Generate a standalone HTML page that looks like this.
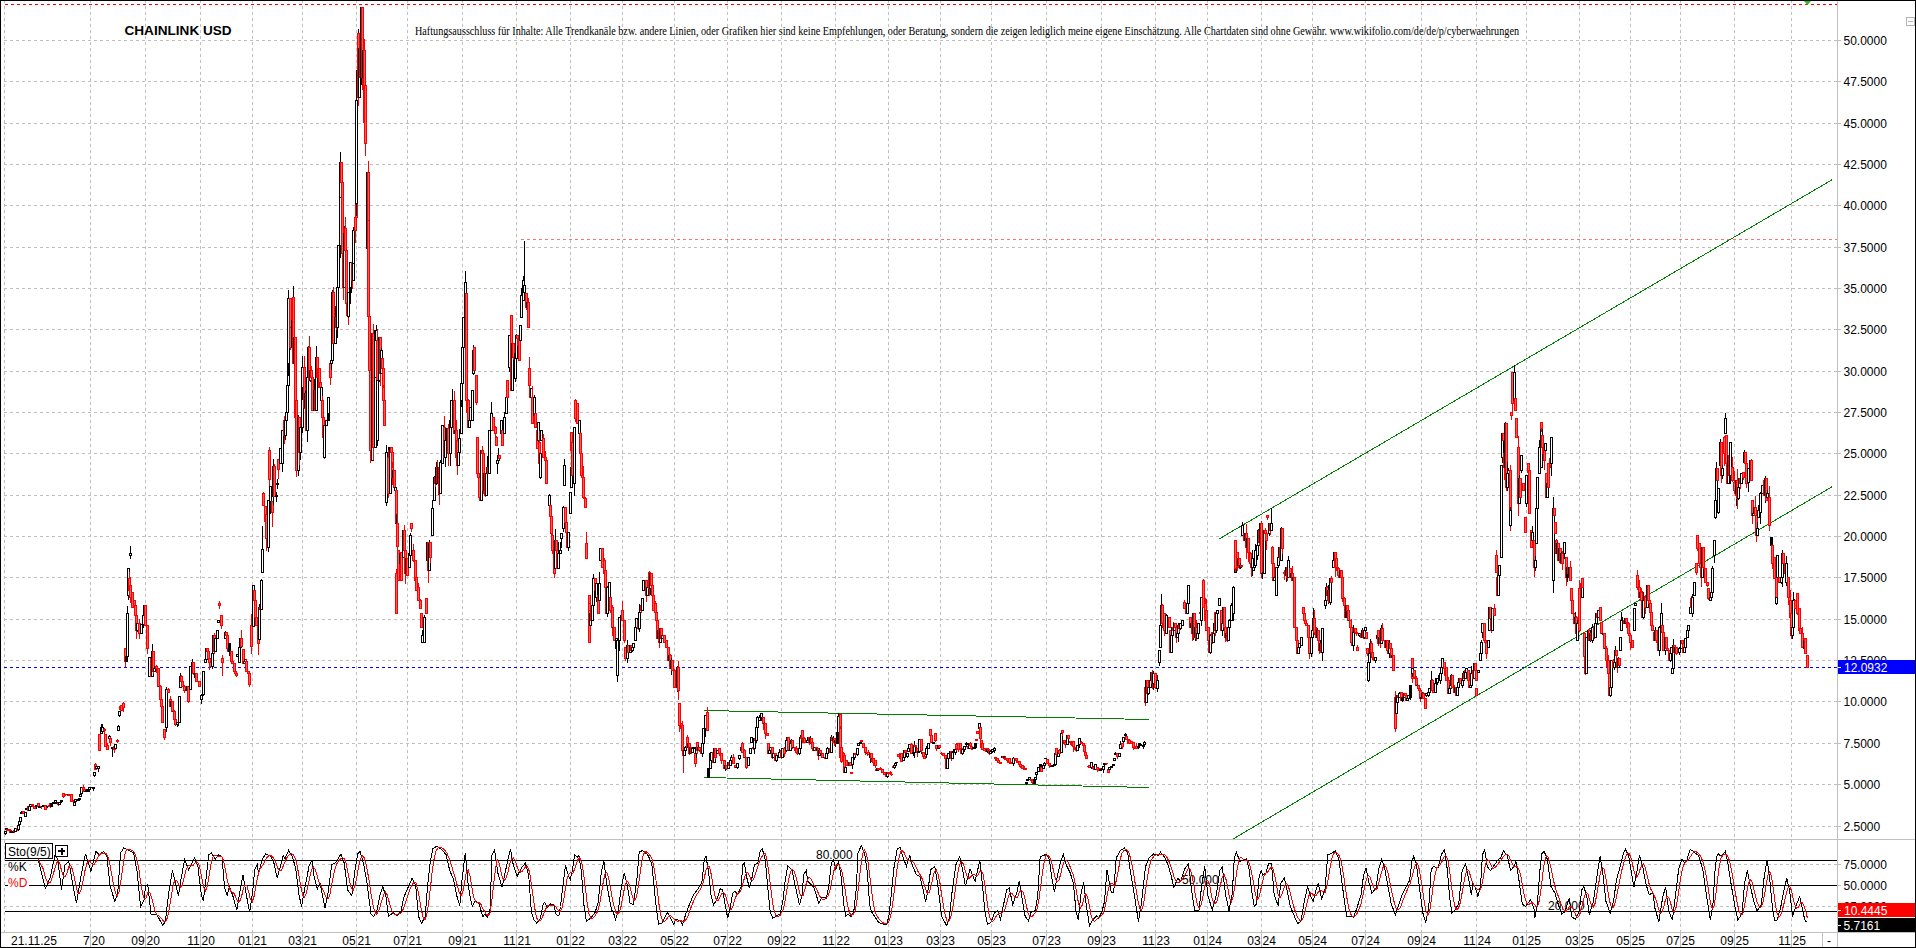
<!DOCTYPE html><html><head><meta charset="utf-8"><title>CHAINLINK USD</title><style>
html,body{margin:0;padding:0;background:#fff;overflow:hidden}svg{display:block}
text{font-family:"Liberation Sans",sans-serif;font-size:12px;fill:#000}
.g{stroke:#c0c0c0;stroke-width:1;stroke-dasharray:3 3;fill:none}
.u{fill:#fff;stroke:#000;stroke-width:1}.d{fill:#ff5a5a;stroke:#f00;stroke-width:1}.k{fill:#000;stroke:#000;stroke-width:1}
.gl{stroke:#008000;stroke-width:1;fill:none}
</style></head><body>
<svg width="1916" height="948" viewBox="0 0 1916 948">
<rect width="1916" height="948" fill="#fff"/>
<g class="g" shape-rendering="crispEdges">
<path d="M4 826.5 H1837"/>
<path d="M4 784.5 H1837"/>
<path d="M4 743.5 H1837"/>
<path d="M4 701.5 H1837"/>
<path d="M4 660.5 H1837"/>
<path d="M4 619.5 H1837"/>
<path d="M4 577.5 H1837"/>
<path d="M4 536.5 H1837"/>
<path d="M4 495.5 H1837"/>
<path d="M4 453.5 H1837"/>
<path d="M4 412.5 H1837"/>
<path d="M4 371.5 H1837"/>
<path d="M4 329.5 H1837"/>
<path d="M4 288.5 H1837"/>
<path d="M4 247.5 H1837"/>
<path d="M4 205.5 H1837"/>
<path d="M4 164.5 H1837"/>
<path d="M4 123.5 H1837"/>
<path d="M4 81.5 H1837"/>
<path d="M4 40.5 H1837"/>
<path d="M4 864.5 H1837"/>
<path d="M4 906.5 H1837"/>
<path d="M4.5 0 V932"/>
<path d="M90.5 0 V932"/>
<path d="M145.5 0 V932"/>
<path d="M200.5 0 V932"/>
<path d="M252.5 0 V932"/>
<path d="M302.5 0 V932"/>
<path d="M356.5 0 V932"/>
<path d="M407.5 0 V932"/>
<path d="M462.5 0 V932"/>
<path d="M516.5 0 V932"/>
<path d="M570.5 0 V932"/>
<path d="M622.5 0 V932"/>
<path d="M674.5 0 V932"/>
<path d="M727.5 0 V932"/>
<path d="M781.5 0 V932"/>
<path d="M835.5 0 V932"/>
<path d="M888.5 0 V932"/>
<path d="M940.5 0 V932"/>
<path d="M991.5 0 V932"/>
<path d="M1046.5 0 V932"/>
<path d="M1101.5 0 V932"/>
<path d="M1155.5 0 V932"/>
<path d="M1207.5 0 V932"/>
<path d="M1261.5 0 V932"/>
<path d="M1312.5 0 V932"/>
<path d="M1365.5 0 V932"/>
<path d="M1421.5 0 V932"/>
<path d="M1476.5 0 V932"/>
<path d="M1526.5 0 V932"/>
<path d="M1579.5 0 V932"/>
<path d="M1630.5 0 V932"/>
<path d="M1680.5 0 V932"/>
<path d="M1734.5 0 V932"/>
<path d="M1791.5 0 V932"/>
</g>
<g shape-rendering="crispEdges" fill="none">
<path d="M1 839.5H1915" stroke="#c0c0c0"/>
<path d="M1 932.5H1915" stroke="#c0c0c0"/>
<path d="M1837.5 1V947" stroke="#c0c0c0"/>
<path d="M1822.5 933V947" stroke="#c0c0c0"/>
<path d="M90.5 931V947" stroke="#c0c0c0"/>
<path d="M145.5 931V947" stroke="#c0c0c0"/>
<path d="M200.5 931V947" stroke="#c0c0c0"/>
<path d="M252.5 931V947" stroke="#c0c0c0"/>
<path d="M302.5 931V947" stroke="#c0c0c0"/>
<path d="M356.5 931V947" stroke="#c0c0c0"/>
<path d="M407.5 931V947" stroke="#c0c0c0"/>
<path d="M462.5 931V947" stroke="#c0c0c0"/>
<path d="M516.5 931V947" stroke="#c0c0c0"/>
<path d="M570.5 931V947" stroke="#c0c0c0"/>
<path d="M622.5 931V947" stroke="#c0c0c0"/>
<path d="M674.5 931V947" stroke="#c0c0c0"/>
<path d="M727.5 931V947" stroke="#c0c0c0"/>
<path d="M781.5 931V947" stroke="#c0c0c0"/>
<path d="M835.5 931V947" stroke="#c0c0c0"/>
<path d="M888.5 931V947" stroke="#c0c0c0"/>
<path d="M940.5 931V947" stroke="#c0c0c0"/>
<path d="M991.5 931V947" stroke="#c0c0c0"/>
<path d="M1046.5 931V947" stroke="#c0c0c0"/>
<path d="M1101.5 931V947" stroke="#c0c0c0"/>
<path d="M1155.5 931V947" stroke="#c0c0c0"/>
<path d="M1207.5 931V947" stroke="#c0c0c0"/>
<path d="M1261.5 931V947" stroke="#c0c0c0"/>
<path d="M1312.5 931V947" stroke="#c0c0c0"/>
<path d="M1365.5 931V947" stroke="#c0c0c0"/>
<path d="M1421.5 931V947" stroke="#c0c0c0"/>
<path d="M1476.5 931V947" stroke="#c0c0c0"/>
<path d="M1526.5 931V947" stroke="#c0c0c0"/>
<path d="M1579.5 931V947" stroke="#c0c0c0"/>
<path d="M1630.5 931V947" stroke="#c0c0c0"/>
<path d="M1680.5 931V947" stroke="#c0c0c0"/>
<path d="M1734.5 931V947" stroke="#c0c0c0"/>
<path d="M1791.5 931V947" stroke="#c0c0c0"/>
<path d="M0 0.5H1916" stroke="#000"/>
<path d="M0.5 0V948" stroke="#000"/>
<path d="M0 947.5H1916" stroke="#000"/>
<path d="M1915.5 0V948" stroke="#000"/>
<path d="M5 4.5H1837" stroke="#f00" stroke-dasharray="3 3"/>
<path d="M521 239.5H1837" stroke="#ff7070" stroke-dasharray="3 3"/>
<path d="M4 667.5H1837" stroke="#00f" stroke-dasharray="3 3"/>
<path d="M5 860.5 H1837" stroke="#000"/>
<path d="M5 885.5 H1837" stroke="#000"/>
<path d="M5 911.5 H1837" stroke="#000"/>
</g>
<text x="816" y="859">80.000</text>
<text x="1182" y="884">50.000</text>
<text x="1548" y="910">20.000</text>
<g class="gl" shape-rendering="crispEdges">
<path d="M704 710.5 L1149 719.5"/>
<path d="M704 777.5 L1149 787.5"/>
<path d="M1219 539 L1832.5 179.5"/>
<path d="M1233 839 L1832.5 486.5"/>
</g>
<g shape-rendering="crispEdges">
<path class="u" d="M5.5 830.5V831.5M5.5 833.5V834.5M4.5 831.5H6.5V833.5H4.5Z"/>
<path class="u" d="M6.5 829.5V830.5M5.5 828.5H7.5V829.5H5.5Z"/>
<path class="d" d="M6.5 829.5H8.5V830.5H6.5Z"/>
<path class="d" d="M8.5 829.5H10.5V830.5H8.5Z"/>
<path class="d" d="M10.5 829.5V830.5M9.5 830.5H11.5V832.5H9.5Z"/>
<path class="u" d="M11.5 830.5V831.5M10.5 831.5H12.5V832.5H10.5Z"/>
<path class="u" d="M12.5 831.5H14.5V832.5H12.5Z"/>
<path class="d" d="M14.5 831.5V832.5M13.5 830.5H15.5V831.5H13.5Z"/>
<path class="u" d="M14.5 828.5H16.5V831.5H14.5Z"/>
<path class="u" d="M16.5 827.5V828.5M16.5 828.5V829.5M15 828.5H18"/>
<path class="d" d="M17.5 829.5V830.5M16.5 828.5H18.5V829.5H16.5Z"/>
<path class="u" d="M18.5 824.5V825.5M18.5 829.5V830.5M17.5 825.5H19.5V829.5H17.5Z"/>
<path class="u" d="M19.5 819.5V821.5M18.5 821.5H20.5V824.5H18.5Z"/>
<path class="u" d="M19.5 817.5H21.5V821.5H19.5Z"/>
<path class="u" d="M21.5 810.5V812.5M20.5 812.5H22.5V813.5H20.5Z"/>
<path class="d" d="M22.5 811.5H24.5V813.5H22.5Z"/>
<path class="u" d="M24.5 812.5H26.5V816.5H24.5Z"/>
<path class="k" d="M25.5 808.5H27.5V809.5H25.5Z"/>
<path class="d" d="M27.5 806.5H29.5V810.5H27.5Z"/>
<path class="u" d="M28.5 806.5H30.5V810.5H28.5Z"/>
<path class="u" d="M29.5 804.5H31.5V806.5H29.5Z"/>
<path class="d" d="M32.5 803.5V804.5M32.5 805.5V806.5M31.5 804.5H33.5V805.5H31.5Z"/>
<path class="d" d="M33.5 806.5H35.5V808.5H33.5Z"/>
<path class="u" d="M36.5 806.5V808.5M35.5 805.5H37.5V806.5H35.5Z"/>
<path class="d" d="M37.5 803.5H39.5V806.5H37.5Z"/>
<path class="u" d="M39.5 805.5V806.5M38.5 806.5H40.5V807.5H38.5Z"/>
<path class="d" d="M41.5 805.5V806.5M41.5 806.5V808.5M40 806.5H43"/>
<path class="k" d="M42.5 805.5V806.5M41 806.5H44"/>
<path class="u" d="M42.5 805.5H44.5V806.5H42.5Z"/>
<path class="d" d="M45.5 804.5V805.5M44.5 805.5H46.5V809.5H44.5Z"/>
<path class="u" d="M47.5 806.5V807.5M46 806.5H49"/>
<path class="d" d="M48.5 805.5H50.5V806.5H48.5Z"/>
<path class="d" d="M50.5 806.5V807.5M49.5 803.5H51.5V806.5H49.5Z"/>
<path class="k" d="M50.5 803.5H52.5V806.5H50.5Z"/>
<path class="u" d="M52.5 802.5H54.5V803.5H52.5Z"/>
<path class="u" d="M54.5 800.5H56.5V802.5H54.5Z"/>
<path class="u" d="M56.5 801.5V802.5M55.5 802.5H57.5V803.5H55.5Z"/>
<path class="d" d="M58.5 804.5V805.5M57.5 803.5H59.5V804.5H57.5Z"/>
<path class="u" d="M58.5 802.5H60.5V804.5H58.5Z"/>
<path class="k" d="M60.5 801.5V802.5M60.5 802.5V803.5M59 802.5H62"/>
<path class="u" d="M60.5 800.5H62.5V801.5H60.5Z"/>
<path class="d" d="M63.5 792.5V793.5M63.5 796.5V797.5M62.5 793.5H64.5V796.5H62.5Z"/>
<path class="d" d="M65.5 793.5V794.5M65.5 794.5V795.5M64 794.5H67"/>
<path class="d" d="M67.5 794.5V795.5M66 794.5H69"/>
<path class="u" d="M68.5 794.5V795.5M67 794.5H70"/>
<path class="d" d="M69.5 793.5V794.5M68.5 794.5H70.5V795.5H68.5Z"/>
<path class="d" d="M70.5 794.5H72.5V801.5H70.5Z"/>
<path class="d" d="M72.5 800.5H74.5V801.5H72.5Z"/>
<path class="u" d="M73.5 802.5H75.5V805.5H73.5Z"/>
<path class="u" d="M75.5 801.5V802.5M74.5 799.5H76.5V801.5H74.5Z"/>
<path class="u" d="M76.5 799.5H78.5V800.5H76.5Z"/>
<path class="u" d="M79.5 797.5V798.5M79.5 799.5V800.5M78.5 798.5H80.5V799.5H78.5Z"/>
<path class="u" d="M79.5 794.5H81.5V796.5H79.5Z"/>
<path class="u" d="M80.5 787.5H82.5V793.5H80.5Z"/>
<path class="d" d="M83.5 784.5V787.5M82.5 787.5H84.5V790.5H82.5Z"/>
<path class="d" d="M83.5 789.5H85.5V791.5H83.5Z"/>
<path class="u" d="M84 791.5H87"/>
<path class="u" d="M86.5 788.5V790.5M85.5 790.5H87.5V791.5H85.5Z"/>
<path class="k" d="M88.5 788.5V789.5M87.5 789.5H89.5V791.5H87.5Z"/>
<path class="u" d="M88.5 787.5H90.5V789.5H88.5Z"/>
<path class="u" d="M90 787.5H93"/>
<path class="u" d="M93.5 786.5V787.5M93.5 788.5V790.5M92.5 787.5H94.5V788.5H92.5Z"/>
<path class="u" d="M94.5 771.5V772.5M94.5 775.5V776.5M93.5 772.5H95.5V775.5H93.5Z"/>
<path class="d" d="M95.5 762.5V764.5M94.5 764.5H96.5V769.5H94.5Z"/>
<path class="u" d="M95.5 766.5H97.5V768.5H95.5Z"/>
<path class="u" d="M98.5 768.5V771.5M97.5 766.5H99.5V768.5H97.5Z"/>
<path class="d" d="M98.5 734.5H100.5V750.5H98.5Z"/>
<path class="u" d="M101.5 723.5V727.5M100.5 727.5H102.5V733.5H100.5Z"/>
<path class="u" d="M102.5 723.5V727.5M101.5 727.5H103.5V731.5H101.5Z"/>
<path class="d" d="M104.5 727.5V729.5M104.5 730.5V733.5M103.5 729.5H105.5V730.5H103.5Z"/>
<path class="d" d="M104.5 734.5H106.5V746.5H104.5Z"/>
<path class="d" d="M107.5 742.5V745.5M106.5 745.5H108.5V749.5H106.5Z"/>
<path class="u" d="M109.5 734.5V736.5M108.5 736.5H110.5V738.5H108.5Z"/>
<path class="d" d="M110.5 736.5V738.5M110.5 742.5V745.5M109.5 738.5H111.5V742.5H109.5Z"/>
<path class="u" d="M112.5 748.5V756.5M111.5 747.5H113.5V748.5H111.5Z"/>
<path class="d" d="M114.5 749.5V752.5M113.5 746.5H115.5V749.5H113.5Z"/>
<path class="u" d="M114.5 744.5H116.5V748.5H114.5Z"/>
<path class="d" d="M117.5 738.5V740.5M117.5 741.5V742.5M116.5 740.5H118.5V741.5H116.5Z"/>
<path class="u" d="M118.5 724.5V726.5M117.5 726.5H119.5V730.5H117.5Z"/>
<path class="u" d="M119.5 715.5V716.5M118.5 711.5H120.5V715.5H118.5Z"/>
<path class="d" d="M120.5 705.5V706.5M119.5 706.5H121.5V709.5H119.5Z"/>
<path class="d" d="M120.5 705.5H122.5V710.5H120.5Z"/>
<path class="d" d="M123.5 701.5V703.5M123.5 707.5V711.5M122.5 703.5H124.5V707.5H122.5Z"/>
<path class="d" d="M125.5 661.5V666.5M124.5 648.5H126.5V661.5H124.5Z"/>
<path class="k" d="M126.5 652.5V656.5M125.5 656.5H127.5V661.5H125.5Z"/>
<path class="u" d="M127.5 605.5V613.5M126.5 613.5H128.5V656.5H126.5Z"/>
<path class="u" d="M128.5 595.5V599.5M127.5 568.5H129.5V595.5H127.5Z"/>
<path class="u" d="M130.5 545.5V553.5M130.5 555.5V558.5M129.5 553.5H131.5V555.5H129.5Z"/>
<path class="d" d="M129.5 571.5V578.5M129.5 590.5V597.5M128.5 578.5H130.5V590.5H128.5Z"/>
<path class="d" d="M130.5 576.5V585.5M130.5 597.5V602.5M129.5 585.5H131.5V597.5H129.5Z"/>
<path class="d" d="M131.5 592.5H133.5V607.5H131.5Z"/>
<path class="d" d="M133.5 600.5H135.5V605.5H133.5Z"/>
<path class="d" d="M135.5 603.5V605.5M135.5 615.5V616.5M134.5 605.5H136.5V615.5H134.5Z"/>
<path class="d" d="M136.5 630.5V638.5M135.5 615.5H137.5V630.5H135.5Z"/>
<path class="u" d="M137.5 630.5V631.5M136.5 623.5H138.5V630.5H136.5Z"/>
<path class="d" d="M139.5 618.5V623.5M139.5 633.5V638.5M138.5 623.5H140.5V633.5H138.5Z"/>
<path class="u" d="M140.5 624.5H142.5V633.5H140.5Z"/>
<path class="u" d="M143.5 624.5V627.5M142.5 615.5H144.5V624.5H142.5Z"/>
<path class="u" d="M144.5 604.5V605.5M143.5 605.5H145.5V615.5H143.5Z"/>
<path class="d" d="M144.5 605.5H146.5V625.5H144.5Z"/>
<path class="d" d="M147.5 648.5V653.5M146.5 625.5H148.5V648.5H146.5Z"/>
<path class="u" d="M148.5 657.5H150.5V676.5H148.5Z"/>
<path class="d" d="M151.5 655.5V658.5M150.5 658.5H152.5V676.5H150.5Z"/>
<path class="u" d="M152.5 643.5V651.5M151.5 651.5H153.5V676.5H151.5Z"/>
<path class="d" d="M153.5 671.5V673.5M152.5 651.5H154.5V671.5H152.5Z"/>
<path class="u" d="M153.5 668.5H155.5V671.5H153.5Z"/>
<path class="u" d="M155.5 668.5V670.5M154.5 666.5H156.5V668.5H154.5Z"/>
<path class="d" d="M156.5 664.5V666.5M156.5 668.5V672.5M155.5 666.5H157.5V668.5H155.5Z"/>
<path class="d" d="M157.5 668.5H159.5V686.5H157.5Z"/>
<path class="u" d="M158 686.5H161"/>
<path class="d" d="M160.5 684.5V686.5M159.5 686.5H161.5V699.5H159.5Z"/>
<path class="d" d="M161.5 706.5V709.5M160.5 699.5H162.5V706.5H160.5Z"/>
<path class="d" d="M162.5 705.5V706.5M161.5 706.5H163.5V722.5H161.5Z"/>
<path class="d" d="M164.5 737.5V739.5M163.5 729.5H165.5V737.5H163.5Z"/>
<path class="u" d="M166.5 686.5V689.5M166.5 727.5V731.5M165.5 689.5H167.5V727.5H165.5Z"/>
<path class="u" d="M167.5 689.5V692.5M166 689.5H169"/>
<path class="d" d="M168.5 687.5V689.5M167.5 689.5H169.5V692.5H167.5Z"/>
<path class="d" d="M170.5 695.5V699.5M169.5 699.5H171.5V706.5H169.5Z"/>
<path class="u" d="M170.5 701.5H172.5V706.5H170.5Z"/>
<path class="d" d="M171.5 701.5H173.5V711.5H171.5Z"/>
<path class="u" d="M173.5 711.5V714.5M172 711.5H175"/>
<path class="d" d="M174.5 709.5V711.5M174.5 719.5V722.5M173.5 711.5H175.5V719.5H173.5Z"/>
<path class="d" d="M175.5 724.5V725.5M174.5 719.5H176.5V724.5H174.5Z"/>
<path class="u" d="M177.5 724.5V726.5M176.5 722.5H178.5V724.5H176.5Z"/>
<path class="u" d="M178.5 722.5V725.5M177 722.5H180"/>
<path class="u" d="M178.5 696.5H180.5V722.5H178.5Z"/>
<path class="u" d="M180.5 672.5V676.5M179.5 676.5H181.5V687.5H179.5Z"/>
<path class="d" d="M181.5 674.5V676.5M181.5 681.5V683.5M180.5 676.5H182.5V681.5H180.5Z"/>
<path class="d" d="M181.5 681.5H183.5V686.5H181.5Z"/>
<path class="d" d="M184.5 684.5V686.5M184.5 690.5V692.5M183.5 686.5H185.5V690.5H183.5Z"/>
<path class="u" d="M186.5 688.5V689.5M185.5 689.5H187.5V690.5H185.5Z"/>
<path class="u" d="M187.5 685.5V686.5M187.5 689.5V692.5M186.5 686.5H188.5V689.5H186.5Z"/>
<path class="d" d="M188.5 701.5V702.5M187.5 686.5H189.5V701.5H187.5Z"/>
<path class="u" d="M190.5 665.5V666.5M189.5 666.5H191.5V689.5H189.5Z"/>
<path class="u" d="M192.5 658.5V662.5M192.5 666.5V667.5M191.5 662.5H193.5V666.5H191.5Z"/>
<path class="d" d="M193.5 673.5V674.5M192.5 662.5H194.5V673.5H192.5Z"/>
<path class="u" d="M194.5 673.5V677.5M193 673.5H196"/>
<path class="d" d="M195.5 673.5H197.5V681.5H195.5Z"/>
<path class="d" d="M198.5 681.5H200.5V686.5H198.5Z"/>
<path class="u" d="M201.5 699.5V703.5M200.5 695.5H202.5V699.5H200.5Z"/>
<path class="u" d="M202.5 693.5V694.5M201.5 694.5H203.5V695.5H201.5Z"/>
<path class="u" d="M203.5 694.5V695.5M202.5 671.5H204.5V694.5H202.5Z"/>
<path class="u" d="M204.5 659.5H206.5V662.5H204.5Z"/>
<path class="u" d="M206.5 659.5V661.5M205.5 648.5H207.5V659.5H205.5Z"/>
<path class="d" d="M207.5 647.5V648.5M207.5 651.5V654.5M206.5 648.5H208.5V651.5H206.5Z"/>
<path class="d" d="M208.5 650.5V651.5M207.5 651.5H209.5V658.5H207.5Z"/>
<path class="d" d="M209.5 662.5V669.5M208.5 658.5H210.5V662.5H208.5Z"/>
<path class="d" d="M209.5 662.5H211.5V666.5H209.5Z"/>
<path class="u" d="M212.5 666.5V668.5M211.5 653.5H213.5V666.5H211.5Z"/>
<path class="u" d="M212.5 635.5H214.5V653.5H212.5Z"/>
<path class="d" d="M214.5 632.5V635.5M214.5 651.5V653.5M213.5 635.5H215.5V651.5H213.5Z"/>
<path class="u" d="M215.5 637.5V638.5M214.5 638.5H216.5V651.5H214.5Z"/>
<path class="u" d="M216.5 630.5H218.5V638.5H216.5Z"/>
<path class="u" d="M217.5 620.5H219.5V622.5H217.5Z"/>
<path class="d" d="M219.5 600.5V603.5M219.5 605.5V608.5M218.5 603.5H220.5V605.5H218.5Z"/>
<path class="d" d="M221.5 625.5V628.5M220.5 615.5H222.5V625.5H220.5Z"/>
<path class="d" d="M222.5 654.5V658.5M222.5 662.5V675.5M221.5 658.5H223.5V662.5H221.5Z"/>
<path class="u" d="M225.5 630.5V632.5M224.5 632.5H226.5V638.5H224.5Z"/>
<path class="d" d="M226.5 635.5V636.5M225.5 632.5H227.5V635.5H225.5Z"/>
<path class="d" d="M226.5 635.5H228.5V648.5H226.5Z"/>
<path class="d" d="M227.5 648.5H229.5V651.5H227.5Z"/>
<path class="k" d="M229.5 651.5V655.5M228.5 643.5H230.5V651.5H228.5Z"/>
<path class="d" d="M230.5 651.5H232.5V661.5H230.5Z"/>
<path class="d" d="M231.5 661.5H233.5V663.5H231.5Z"/>
<path class="d" d="M233.5 663.5H235.5V671.5H233.5Z"/>
<path class="d" d="M235.5 673.5V674.5M234.5 671.5H236.5V673.5H234.5Z"/>
<path class="d" d="M236.5 672.5V673.5M236.5 675.5V676.5M235.5 673.5H237.5V675.5H235.5Z"/>
<path class="u" d="M236.5 654.5H238.5V656.5H236.5Z"/>
<path class="u" d="M238.5 647.5H240.5V662.5H238.5Z"/>
<path class="u" d="M240.5 647.5V653.5M239.5 638.5H241.5V647.5H239.5Z"/>
<path class="d" d="M241.5 629.5V638.5M240.5 638.5H242.5V646.5H240.5Z"/>
<path class="d" d="M242.5 649.5H244.5V663.5H242.5Z"/>
<path class="u" d="M243.5 661.5H245.5V663.5H243.5Z"/>
<path class="u" d="M244.5 659.5H246.5V661.5H244.5Z"/>
<path class="d" d="M246.5 658.5V661.5M245.5 661.5H247.5V671.5H245.5Z"/>
<path class="d" d="M248.5 670.5V671.5M247.5 671.5H249.5V673.5H247.5Z"/>
<path class="d" d="M249.5 684.5V686.5M248.5 673.5H250.5V684.5H248.5Z"/>
<path class="d" d="M251.5 613.5V625.5M251.5 646.5V653.5M250.5 625.5H252.5V646.5H250.5Z"/>
<path class="u" d="M252.5 585.5H254.5V626.5H252.5Z"/>
<path class="d" d="M253.5 590.5H255.5V600.5H253.5Z"/>
<path class="d" d="M255.5 596.5V600.5M255.5 617.5V618.5M254.5 600.5H256.5V617.5H254.5Z"/>
<path class="d" d="M256.5 611.5V617.5M255.5 617.5H257.5V625.5H255.5Z"/>
<path class="d" d="M258.5 643.5V654.5M257.5 625.5H259.5V643.5H257.5Z"/>
<path class="u" d="M259.5 603.5V607.5M258.5 607.5H260.5V639.5H258.5Z"/>
<path class="d" d="M259.5 607.5H261.5V609.5H259.5Z"/>
<path class="u" d="M261.5 578.5V580.5M260.5 580.5H262.5V609.5H260.5Z"/>
<path class="u" d="M262.5 525.5V549.5M261.5 549.5H263.5V572.5H261.5Z"/>
<path class="d" d="M263.5 491.5V493.5M262.5 493.5H264.5V505.5H262.5Z"/>
<path class="d" d="M265.5 505.5V506.5M264.5 506.5H266.5V521.5H264.5Z"/>
<path class="d" d="M266.5 538.5V550.5M265.5 514.5H267.5V538.5H265.5Z"/>
<path class="u" d="M268.5 547.5V551.5M267.5 500.5H269.5V547.5H267.5Z"/>
<path class="d" d="M269.5 446.5V450.5M269.5 479.5V491.5M268.5 450.5H270.5V479.5H268.5Z"/>
<path class="u" d="M270.5 501.5V513.5M269.5 486.5H271.5V501.5H269.5Z"/>
<path class="d" d="M272.5 512.5V526.5M271.5 501.5H273.5V512.5H271.5Z"/>
<path class="u" d="M273.5 458.5V466.5M273.5 496.5V504.5M272.5 466.5H274.5V496.5H272.5Z"/>
<path class="d" d="M274.5 463.5V466.5M273.5 466.5H275.5V496.5H273.5Z"/>
<path class="u" d="M276.5 491.5V495.5M276.5 496.5V501.5M275.5 495.5H277.5V496.5H275.5Z"/>
<path class="u" d="M277.5 478.5V483.5M277.5 484.5V488.5M276.5 483.5H278.5V484.5H276.5Z"/>
<path class="d" d="M278.5 469.5V478.5M277.5 459.5H279.5V469.5H277.5Z"/>
<path class="u" d="M279.5 448.5H281.5V463.5H279.5Z"/>
<path class="u" d="M282.5 463.5V471.5M281.5 430.5H283.5V463.5H281.5Z"/>
<path class="d" d="M284.5 415.5V420.5M284.5 435.5V443.5M283.5 420.5H285.5V435.5H283.5Z"/>
<path class="u" d="M285.5 435.5V439.5M284.5 420.5H286.5V435.5H284.5Z"/>
<path class="u" d="M286.5 420.5V424.5M285.5 412.5H287.5V420.5H285.5Z"/>
<path class="u" d="M286.5 385.5H288.5V412.5H286.5Z"/>
<path class="u" d="M288.5 352.5V363.5M287.5 363.5H289.5V385.5H287.5Z"/>
<path class="u" d="M288.5 289.5V298.5M288.5 363.5V375.5M287.5 298.5H289.5V363.5H287.5Z"/>
<path class="d" d="M290.5 327.5V339.5M289.5 298.5H291.5V327.5H289.5Z"/>
<path class="d" d="M290.5 326.5V327.5M290.5 347.5V349.5M289.5 327.5H291.5V347.5H289.5Z"/>
<path class="u" d="M292.5 347.5V353.5M291.5 320.5H293.5V347.5H291.5Z"/>
<path class="u" d="M292.5 333.5V336.5M291.5 320.5H293.5V333.5H291.5Z"/>
<path class="u" d="M293.5 285.5V297.5M292.5 297.5H294.5V333.5H292.5Z"/>
<path class="d" d="M292.5 297.5H294.5V363.5H292.5Z"/>
<path class="u" d="M293.5 337.5H295.5V363.5H293.5Z"/>
<path class="d" d="M295.5 417.5V425.5M294.5 337.5H296.5V417.5H294.5Z"/>
<path class="u" d="M295.5 400.5H297.5V417.5H295.5Z"/>
<path class="d" d="M296.5 388.5V400.5M296.5 470.5V476.5M295.5 400.5H297.5V470.5H295.5Z"/>
<path class="u" d="M298.5 414.5V417.5M298.5 470.5V475.5M297.5 417.5H299.5V470.5H297.5Z"/>
<path class="d" d="M299.5 452.5V464.5M298.5 417.5H300.5V452.5H298.5Z"/>
<path class="u" d="M300.5 452.5V459.5M299.5 427.5H301.5V452.5H299.5Z"/>
<path class="u" d="M302.5 383.5V387.5M302.5 427.5V432.5M301.5 387.5H303.5V427.5H301.5Z"/>
<path class="u" d="M302.5 355.5V367.5M302.5 387.5V399.5M301.5 367.5H303.5V387.5H301.5Z"/>
<path class="d" d="M304.5 355.5V367.5M304.5 407.5V408.5M303.5 367.5H305.5V407.5H303.5Z"/>
<path class="u" d="M305.5 390.5V393.5M304.5 393.5H306.5V407.5H304.5Z"/>
<path class="d" d="M305.5 393.5H307.5V430.5H305.5Z"/>
<path class="u" d="M307.5 365.5V377.5M307.5 430.5V441.5M306.5 377.5H308.5V430.5H306.5Z"/>
<path class="u" d="M308.5 345.5V347.5M308.5 377.5V381.5M307.5 347.5H309.5V377.5H307.5Z"/>
<path class="d" d="M309.5 335.5V347.5M308.5 347.5H310.5V380.5H308.5Z"/>
<path class="u" d="M310.5 380.5V381.5M309.5 370.5H311.5V380.5H309.5Z"/>
<path class="d" d="M311.5 365.5V370.5M310.5 370.5H312.5V377.5H310.5Z"/>
<path class="d" d="M311.5 377.5H313.5V410.5H311.5Z"/>
<path class="u" d="M314.5 378.5V390.5M313.5 390.5H315.5V410.5H313.5Z"/>
<path class="d" d="M315.5 388.5V390.5M314.5 390.5H316.5V410.5H314.5Z"/>
<path class="u" d="M316.5 345.5V357.5M315.5 357.5H317.5V410.5H315.5Z"/>
<path class="d" d="M316.5 357.5H318.5V377.5H316.5Z"/>
<path class="d" d="M318.5 359.5V368.5M318.5 377.5V387.5M317.5 368.5H319.5V377.5H317.5Z"/>
<path class="d" d="M318.5 368.5H320.5V382.5H318.5Z"/>
<path class="d" d="M320.5 380.5V382.5M319.5 382.5H321.5V387.5H319.5Z"/>
<path class="u" d="M321.5 400.5V409.5M320.5 387.5H322.5V400.5H320.5Z"/>
<path class="d" d="M322.5 395.5V400.5M321.5 400.5H323.5V417.5H321.5Z"/>
<path class="d" d="M323.5 437.5V447.5M322.5 417.5H324.5V437.5H322.5Z"/>
<path class="d" d="M324.5 427.5V437.5M324.5 457.5V458.5M323.5 437.5H325.5V457.5H323.5Z"/>
<path class="u" d="M324.5 424.5V425.5M323.5 425.5H325.5V457.5H323.5Z"/>
<path class="u" d="M325.5 420.5H327.5V425.5H325.5Z"/>
<path class="u" d="M327.5 413.5H329.5V420.5H327.5Z"/>
<path class="u" d="M328.5 413.5V419.5M327.5 397.5H329.5V413.5H327.5Z"/>
<path class="d" d="M330.5 360.5V363.5M330.5 377.5V384.5M329.5 363.5H331.5V377.5H329.5Z"/>
<path class="u" d="M331.5 363.5V369.5M330.5 360.5H332.5V363.5H330.5Z"/>
<path class="u" d="M332.5 289.5V292.5M331.5 292.5H333.5V360.5H331.5Z"/>
<path class="d" d="M333.5 286.5V292.5M332.5 292.5H334.5V343.5H332.5Z"/>
<path class="u" d="M335.5 305.5V317.5M334.5 317.5H336.5V343.5H334.5Z"/>
<path class="d" d="M336.5 327.5V329.5M335.5 317.5H337.5V327.5H335.5Z"/>
<path class="u" d="M337.5 327.5V337.5M336 327.5H339"/>
<path class="u" d="M337.5 285.5V287.5M336.5 287.5H338.5V327.5H336.5Z"/>
<path class="u" d="M338.5 287.5V299.5M337.5 245.5H339.5V287.5H337.5Z"/>
<path class="u" d="M340.5 189.5V197.5M340.5 245.5V257.5M339.5 197.5H341.5V245.5H339.5Z"/>
<path class="u" d="M340.5 151.5V162.5M339.5 162.5H341.5V197.5H339.5Z"/>
<path class="d" d="M340.5 162.5H342.5V182.5H340.5Z"/>
<path class="d" d="M341.5 182.5H343.5V253.5H341.5Z"/>
<path class="d" d="M343.5 249.5V253.5M343.5 287.5V299.5M342.5 253.5H344.5V287.5H342.5Z"/>
<path class="u" d="M344.5 225.5V233.5M343.5 233.5H345.5V287.5H343.5Z"/>
<path class="u" d="M345.5 226.5V228.5M345.5 233.5V238.5M344.5 228.5H346.5V233.5H344.5Z"/>
<path class="d" d="M345.5 216.5V228.5M345.5 250.5V262.5M344.5 228.5H346.5V250.5H344.5Z"/>
<path class="d" d="M346.5 303.5V315.5M345.5 250.5H347.5V303.5H345.5Z"/>
<path class="d" d="M348.5 292.5V303.5M348.5 316.5V324.5M347.5 303.5H349.5V316.5H347.5Z"/>
<path class="u" d="M348.5 316.5V317.5M347.5 292.5H349.5V316.5H347.5Z"/>
<path class="u" d="M350.5 292.5V303.5M349.5 287.5H351.5V292.5H349.5Z"/>
<path class="u" d="M350.5 287.5V296.5M349.5 262.5H351.5V287.5H349.5Z"/>
<path class="d" d="M352.5 250.5V262.5M352.5 280.5V288.5M351.5 262.5H353.5V280.5H351.5Z"/>
<path class="u" d="M352.5 263.5H354.5V280.5H352.5Z"/>
<path class="u" d="M353.5 226.5V230.5M352.5 230.5H354.5V263.5H352.5Z"/>
<path class="d" d="M355.5 230.5V242.5M354.5 217.5H356.5V230.5H354.5Z"/>
<path class="d" d="M355.5 203.5H357.5V217.5H355.5Z"/>
<path class="u" d="M356.5 203.5V215.5M355.5 100.5H357.5V203.5H355.5Z"/>
<path class="u" d="M357.5 58.5V70.5M356.5 70.5H358.5V100.5H356.5Z"/>
<path class="u" d="M358.5 28.5V33.5M358.5 70.5V82.5M357.5 33.5H359.5V70.5H357.5Z"/>
<path class="d" d="M358.5 97.5V105.5M357.5 33.5H359.5V97.5H357.5Z"/>
<path class="u" d="M358.5 48.5H360.5V97.5H358.5Z"/>
<path class="d" d="M359.5 48.5H361.5V77.5H359.5Z"/>
<path class="u" d="M361.5 77.5V84.5M360.5 7.5H362.5V77.5H360.5Z"/>
<path class="d" d="M362.5 77.5V89.5M361.5 7.5H363.5V77.5H361.5Z"/>
<path class="u" d="M363.5 77.5V86.5M362.5 50.5H364.5V77.5H362.5Z"/>
<path class="d" d="M364.5 38.5V50.5M363.5 50.5H365.5V122.5H363.5Z"/>
<path class="u" d="M364.5 85.5H366.5V122.5H364.5Z"/>
<path class="d" d="M365.5 81.5V85.5M365.5 143.5V155.5M364.5 85.5H366.5V143.5H364.5Z"/>
<path class="u" d="M367.5 248.5V259.5M366.5 172.5H368.5V248.5H366.5Z"/>
<path class="d" d="M368.5 160.5V172.5M367.5 172.5H369.5V220.5H367.5Z"/>
<path class="d" d="M367.5 220.5H369.5V316.5H367.5Z"/>
<path class="d" d="M369.5 370.5V378.5M368.5 316.5H370.5V370.5H368.5Z"/>
<path class="d" d="M370.5 450.5V462.5M369.5 370.5H371.5V450.5H369.5Z"/>
<path class="d" d="M371.5 448.5V450.5M370.5 450.5H372.5V460.5H370.5Z"/>
<path class="u" d="M371.5 333.5H373.5V460.5H371.5Z"/>
<path class="d" d="M373.5 323.5V333.5M373.5 447.5V459.5M372.5 333.5H374.5V447.5H372.5Z"/>
<path class="u" d="M375.5 376.5V377.5M374.5 377.5H376.5V447.5H374.5Z"/>
<path class="u" d="M374.5 330.5H376.5V377.5H374.5Z"/>
<path class="u" d="M376.5 324.5V330.5M375.5 330.5H377.5V340.5H375.5Z"/>
<path class="d" d="M377.5 328.5V340.5M377.5 380.5V385.5M376.5 340.5H378.5V380.5H376.5Z"/>
<path class="d" d="M376.5 380.5H378.5V440.5H376.5Z"/>
<path class="u" d="M377.5 440.5V445.5M376.5 380.5H378.5V440.5H376.5Z"/>
<path class="u" d="M379.5 380.5V381.5M378.5 337.5H380.5V380.5H378.5Z"/>
<path class="d" d="M380.5 373.5V385.5M379.5 337.5H381.5V373.5H379.5Z"/>
<path class="u" d="M380.5 350.5H382.5V373.5H380.5Z"/>
<path class="u" d="M381.5 347.5V350.5M381.5 358.5V362.5M380.5 350.5H382.5V358.5H380.5Z"/>
<path class="d" d="M382.5 368.5V375.5M381.5 358.5H383.5V368.5H381.5Z"/>
<path class="d" d="M382.5 368.5H384.5V387.5H382.5Z"/>
<path class="d" d="M383.5 384.5V387.5M383.5 400.5V409.5M382.5 387.5H384.5V400.5H382.5Z"/>
<path class="d" d="M384.5 392.5V400.5M383.5 400.5H385.5V425.5H383.5Z"/>
<path class="u" d="M386.5 444.5V452.5M386.5 502.5V505.5M385.5 452.5H387.5V502.5H385.5Z"/>
<path class="u" d="M388.5 446.5V452.5M387.5 452.5H389.5V457.5H387.5Z"/>
<path class="d" d="M388.5 449.5V457.5M388.5 493.5V497.5M387.5 457.5H389.5V493.5H387.5Z"/>
<path class="u" d="M389.5 447.5H391.5V493.5H389.5Z"/>
<path class="d" d="M391.5 446.5V447.5M391.5 452.5V455.5M390.5 447.5H392.5V452.5H390.5Z"/>
<path class="d" d="M392.5 467.5V469.5M391.5 452.5H393.5V467.5H391.5Z"/>
<path class="d" d="M392.5 461.5V467.5M392.5 477.5V484.5M391.5 467.5H393.5V477.5H391.5Z"/>
<path class="u" d="M392.5 470.5H394.5V477.5H392.5Z"/>
<path class="d" d="M394.5 487.5V490.5M393.5 470.5H395.5V487.5H393.5Z"/>
<path class="u" d="M394.5 487.5H396.5V490.5H394.5Z"/>
<path class="d" d="M396.5 523.5V530.5M395.5 490.5H397.5V523.5H395.5Z"/>
<path class="k" d="M396.5 513.5V523.5M395 523.5H398"/>
<path class="d" d="M397.5 546.5V558.5M396.5 523.5H398.5V546.5H396.5Z"/>
<path class="d" d="M396.5 568.5V573.5M395.5 573.5H397.5V613.5H395.5Z"/>
<path class="d" d="M397.5 550.5H399.5V580.5H397.5Z"/>
<path class="u" d="M400.5 563.5V567.5M399.5 553.5H401.5V563.5H399.5Z"/>
<path class="d" d="M400.5 552.5H402.5V580.5H400.5Z"/>
<path class="u" d="M403.5 529.5V530.5M402.5 530.5H404.5V557.5H402.5Z"/>
<path class="d" d="M404.5 524.5V530.5M403.5 530.5H405.5V550.5H403.5Z"/>
<path class="d" d="M405.5 573.5V583.5M404.5 550.5H406.5V573.5H404.5Z"/>
<path class="u" d="M405.5 558.5H407.5V573.5H405.5Z"/>
<path class="d" d="M407.5 557.5V558.5M406.5 558.5H408.5V575.5H406.5Z"/>
<path class="u" d="M408.5 553.5H410.5V567.5H408.5Z"/>
<path class="u" d="M410.5 532.5V535.5M410.5 555.5V560.5M409.5 535.5H411.5V555.5H409.5Z"/>
<path class="d" d="M411.5 528.5V531.5M410.5 523.5H412.5V528.5H410.5Z"/>
<path class="d" d="M413.5 543.5V550.5M413.5 560.5V561.5M412.5 550.5H414.5V560.5H412.5Z"/>
<path class="d" d="M415.5 559.5V560.5M415.5 580.5V590.5M414.5 560.5H416.5V580.5H414.5Z"/>
<path class="d" d="M416.5 574.5V577.5M415.5 577.5H417.5V590.5H415.5Z"/>
<path class="d" d="M418.5 582.5V587.5M417.5 587.5H419.5V600.5H417.5Z"/>
<path class="d" d="M420.5 598.5V600.5M419.5 600.5H421.5V608.5H419.5Z"/>
<path class="d" d="M420.5 613.5H422.5V627.5H420.5Z"/>
<path class="u" d="M422.5 629.5V635.5M421.5 635.5H423.5V642.5H421.5Z"/>
<path class="u" d="M424.5 614.5V617.5M423.5 617.5H425.5V642.5H423.5Z"/>
<path class="d" d="M425.5 598.5H427.5V613.5H425.5Z"/>
<path class="u" d="M427.5 560.5V561.5M426.5 542.5H428.5V560.5H426.5Z"/>
<path class="d" d="M428.5 570.5V582.5M427.5 542.5H429.5V570.5H427.5Z"/>
<path class="u" d="M429.5 539.5V543.5M428.5 543.5H430.5V570.5H428.5Z"/>
<path class="d" d="M430.5 557.5V562.5M429.5 542.5H431.5V557.5H429.5Z"/>
<path class="u" d="M432.5 499.5V508.5M431.5 508.5H433.5V535.5H431.5Z"/>
<path class="u" d="M434.5 475.5V477.5M433.5 477.5H435.5V500.5H433.5Z"/>
<path class="d" d="M435.5 483.5V486.5M434.5 477.5H436.5V483.5H434.5Z"/>
<path class="u" d="M436.5 461.5V467.5M436.5 483.5V484.5M435.5 467.5H437.5V483.5H435.5Z"/>
<path class="d" d="M437.5 459.5V467.5M436.5 467.5H438.5V482.5H436.5Z"/>
<path class="u" d="M438.5 482.5V494.5M437.5 467.5H439.5V482.5H437.5Z"/>
<path class="d" d="M439.5 493.5V504.5M438.5 467.5H440.5V493.5H438.5Z"/>
<path class="u" d="M440.5 459.5V462.5M439.5 462.5H441.5V493.5H439.5Z"/>
<path class="u" d="M441.5 425.5H443.5V463.5H441.5Z"/>
<path class="d" d="M444.5 415.5V427.5M443.5 427.5H445.5V457.5H443.5Z"/>
<path class="u" d="M445.5 457.5V466.5M444.5 440.5H446.5V457.5H444.5Z"/>
<path class="k" d="M445.5 428.5H447.5V440.5H445.5Z"/>
<path class="d" d="M448.5 423.5V428.5M448.5 453.5V465.5M447.5 428.5H449.5V453.5H447.5Z"/>
<path class="u" d="M450.5 453.5V465.5M449.5 420.5H451.5V453.5H449.5Z"/>
<path class="u" d="M450.5 400.5H452.5V427.5H450.5Z"/>
<path class="u" d="M452.5 388.5V400.5M452.5 400.5V405.5M451 400.5H454"/>
<path class="d" d="M454.5 390.5V400.5M453.5 400.5H455.5V433.5H453.5Z"/>
<path class="u" d="M455.5 433.5V434.5M454.5 430.5H456.5V433.5H454.5Z"/>
<path class="d" d="M456.5 419.5V430.5M456.5 457.5V459.5M455.5 430.5H457.5V457.5H455.5Z"/>
<path class="d" d="M457.5 437.5V440.5M457.5 465.5V474.5M456.5 440.5H458.5V465.5H456.5Z"/>
<path class="u" d="M458.5 447.5V452.5M457.5 452.5H459.5V465.5H457.5Z"/>
<path class="u" d="M459.5 428.5V438.5M459.5 452.5V463.5M458.5 438.5H460.5V452.5H458.5Z"/>
<path class="u" d="M461.5 390.5V400.5M460.5 400.5H462.5V433.5H460.5Z"/>
<path class="u" d="M461.5 400.5V406.5M460.5 383.5H462.5V400.5H460.5Z"/>
<path class="u" d="M462.5 335.5V347.5M461.5 347.5H463.5V383.5H461.5Z"/>
<path class="u" d="M463.5 316.5V317.5M462.5 317.5H464.5V347.5H462.5Z"/>
<path class="u" d="M465.5 270.5V282.5M465.5 317.5V323.5M464.5 282.5H466.5V317.5H464.5Z"/>
<path class="d" d="M466.5 400.5V412.5M465.5 293.5H467.5V400.5H465.5Z"/>
<path class="d" d="M468.5 398.5V400.5M467.5 400.5H469.5V427.5H467.5Z"/>
<path class="u" d="M468.5 420.5H470.5V427.5H468.5Z"/>
<path class="u" d="M470.5 406.5V407.5M470.5 420.5V426.5M469.5 407.5H471.5V420.5H469.5Z"/>
<path class="u" d="M471.5 390.5H473.5V420.5H471.5Z"/>
<path class="u" d="M473.5 344.5V350.5M473.5 373.5V374.5M472.5 350.5H474.5V373.5H472.5Z"/>
<path class="d" d="M473.5 347.5H475.5V370.5H473.5Z"/>
<path class="d" d="M476.5 402.5V404.5M475.5 375.5H477.5V402.5H475.5Z"/>
<path class="d" d="M476.5 437.5H478.5V473.5H476.5Z"/>
<path class="d" d="M478.5 477.5V482.5M477.5 473.5H479.5V477.5H477.5Z"/>
<path class="d" d="M479.5 476.5V477.5M479.5 497.5V499.5M478.5 477.5H480.5V497.5H478.5Z"/>
<path class="d" d="M479.5 497.5H481.5V500.5H479.5Z"/>
<path class="u" d="M480.5 450.5H482.5V500.5H480.5Z"/>
<path class="d" d="M482.5 445.5V450.5M481.5 450.5H483.5V453.5H481.5Z"/>
<path class="d" d="M483.5 490.5V493.5M482.5 453.5H484.5V490.5H482.5Z"/>
<path class="u" d="M483.5 473.5H485.5V490.5H483.5Z"/>
<path class="d" d="M485.5 472.5V473.5M485.5 495.5V496.5M484.5 473.5H486.5V495.5H484.5Z"/>
<path class="u" d="M485.5 473.5H487.5V495.5H485.5Z"/>
<path class="u" d="M487.5 455.5V467.5M486.5 467.5H488.5V473.5H486.5Z"/>
<path class="d" d="M488.5 466.5V467.5M487.5 467.5H489.5V473.5H487.5Z"/>
<path class="u" d="M488.5 430.5H490.5V473.5H488.5Z"/>
<path class="u" d="M491.5 401.5V413.5M490.5 413.5H492.5V430.5H490.5Z"/>
<path class="d" d="M492.5 417.5H494.5V430.5H492.5Z"/>
<path class="d" d="M495.5 425.5V427.5M495.5 433.5V441.5M494.5 427.5H496.5V433.5H494.5Z"/>
<path class="d" d="M496.5 435.5V437.5M495.5 437.5H497.5V445.5H495.5Z"/>
<path class="u" d="M497.5 459.5V460.5M497.5 463.5V473.5M496.5 460.5H498.5V463.5H496.5Z"/>
<path class="u" d="M498.5 447.5V455.5M498.5 460.5V462.5M497.5 455.5H499.5V460.5H497.5Z"/>
<path class="d" d="M498.5 455.5H500.5V458.5H498.5Z"/>
<path class="u" d="M500.5 420.5H502.5V433.5H500.5Z"/>
<path class="d" d="M501.5 430.5H503.5V445.5H501.5Z"/>
<path class="u" d="M504.5 411.5V417.5M503.5 417.5H505.5V433.5H503.5Z"/>
<path class="u" d="M506.5 385.5V397.5M505.5 397.5H507.5V413.5H505.5Z"/>
<path class="d" d="M506.5 380.5H508.5V397.5H506.5Z"/>
<path class="u" d="M509.5 334.5V335.5M509.5 367.5V371.5M508.5 335.5H510.5V367.5H508.5Z"/>
<path class="d" d="M510.5 315.5H512.5V390.5H510.5Z"/>
<path class="u" d="M511.5 343.5H513.5V390.5H511.5Z"/>
<path class="d" d="M513.5 357.5V359.5M512.5 343.5H514.5V357.5H512.5Z"/>
<path class="u" d="M515.5 378.5V381.5M514.5 353.5H516.5V378.5H514.5Z"/>
<path class="u" d="M516.5 333.5V335.5M516.5 358.5V359.5M515.5 335.5H517.5V358.5H515.5Z"/>
<path class="d" d="M517.5 334.5V335.5M517.5 338.5V345.5M516.5 335.5H518.5V338.5H516.5Z"/>
<path class="d" d="M518.5 338.5H520.5V360.5H518.5Z"/>
<path class="u" d="M519.5 325.5H521.5V340.5H519.5Z"/>
<path class="u" d="M521.5 287.5V295.5M520.5 295.5H522.5V317.5H520.5Z"/>
<path class="u" d="M523.5 275.5V280.5M522.5 280.5H524.5V300.5H522.5Z"/>
<path class="u" d="M524.5 240.5V285.5M523.5 285.5H525.5V292.5H523.5Z"/>
<path class="d" d="M526.5 307.5V309.5M525.5 293.5H527.5V307.5H525.5Z"/>
<path class="u" d="M527.5 307.5V309.5M526.5 302.5H528.5V307.5H526.5Z"/>
<path class="d" d="M528.5 297.5V302.5M527.5 302.5H529.5V327.5H527.5Z"/>
<path class="d" d="M529.5 356.5V368.5M529.5 385.5V397.5M528.5 368.5H530.5V385.5H528.5Z"/>
<path class="u" d="M531.5 397.5V404.5M530.5 388.5H532.5V397.5H530.5Z"/>
<path class="d" d="M532.5 385.5V397.5M531.5 397.5H533.5V423.5H531.5Z"/>
<path class="u" d="M534.5 394.5V397.5M534.5 415.5V426.5M533.5 397.5H535.5V415.5H533.5Z"/>
<path class="d" d="M535.5 412.5V413.5M534.5 413.5H536.5V427.5H534.5Z"/>
<path class="d" d="M536.5 430.5H538.5V448.5H536.5Z"/>
<path class="u" d="M538.5 440.5V442.5M537.5 422.5H539.5V440.5H537.5Z"/>
<path class="d" d="M539.5 430.5V442.5M539.5 463.5V473.5M538.5 442.5H540.5V463.5H538.5Z"/>
<path class="u" d="M540.5 477.5V478.5M539.5 453.5H541.5V477.5H539.5Z"/>
<path class="u" d="M540.5 430.5H542.5V440.5H540.5Z"/>
<path class="d" d="M543.5 433.5V438.5M542.5 438.5H544.5V457.5H542.5Z"/>
<path class="d" d="M545.5 450.5V457.5M544.5 457.5H546.5V460.5H544.5Z"/>
<path class="d" d="M545.5 460.5H547.5V483.5H545.5Z"/>
<path class="u" d="M549.5 493.5V495.5M549.5 505.5V511.5M548.5 495.5H550.5V505.5H548.5Z"/>
<path class="d" d="M549.5 505.5H551.5V516.5H549.5Z"/>
<path class="d" d="M551.5 507.5V516.5M551.5 533.5V534.5M550.5 516.5H552.5V533.5H550.5Z"/>
<path class="d" d="M552.5 528.5V535.5M552.5 550.5V553.5M551.5 535.5H553.5V550.5H551.5Z"/>
<path class="d" d="M554.5 544.5V547.5M554.5 573.5V577.5M553.5 547.5H555.5V573.5H553.5Z"/>
<path class="u" d="M555.5 528.5V540.5M554.5 540.5H556.5V568.5H554.5Z"/>
<path class="d" d="M556.5 550.5V554.5M555.5 540.5H557.5V550.5H555.5Z"/>
<path class="d" d="M557.5 544.5V550.5M556.5 550.5H558.5V568.5H556.5Z"/>
<path class="u" d="M558.5 541.5V553.5M557.5 553.5H559.5V568.5H557.5Z"/>
<path class="u" d="M560.5 541.5V550.5M559.5 550.5H561.5V553.5H559.5Z"/>
<path class="u" d="M561.5 538.5V547.5M560.5 533.5H562.5V538.5H560.5Z"/>
<path class="u" d="M563.5 505.5V507.5M563.5 528.5V531.5M562.5 507.5H564.5V528.5H562.5Z"/>
<path class="u" d="M564.5 458.5V465.5M563.5 465.5H565.5V485.5H563.5Z"/>
<path class="d" d="M564.5 507.5H566.5V522.5H564.5Z"/>
<path class="d" d="M566.5 532.5V533.5M565.5 522.5H567.5V532.5H565.5Z"/>
<path class="d" d="M567.5 527.5V532.5M566.5 532.5H568.5V547.5H566.5Z"/>
<path class="u" d="M568.5 547.5V550.5M567.5 532.5H569.5V547.5H567.5Z"/>
<path class="u" d="M569.5 492.5H571.5V513.5H569.5Z"/>
<path class="u" d="M571.5 465.5V467.5M570.5 467.5H572.5V487.5H570.5Z"/>
<path class="d" d="M570.5 432.5H572.5V450.5H570.5Z"/>
<path class="d" d="M571.5 442.5H573.5V475.5H571.5Z"/>
<path class="u" d="M574.5 483.5V495.5M573.5 427.5H575.5V483.5H573.5Z"/>
<path class="d" d="M575.5 398.5V400.5M575.5 418.5V421.5M574.5 400.5H576.5V418.5H574.5Z"/>
<path class="d" d="M576.5 403.5H578.5V423.5H576.5Z"/>
<path class="u" d="M579.5 433.5V440.5M578.5 420.5H580.5V433.5H578.5Z"/>
<path class="d" d="M580.5 453.5V457.5M579.5 433.5H581.5V453.5H579.5Z"/>
<path class="d" d="M580.5 453.5H582.5V475.5H580.5Z"/>
<path class="d" d="M581.5 475.5H583.5V477.5H581.5Z"/>
<path class="d" d="M583.5 465.5V477.5M583.5 497.5V498.5M582.5 477.5H584.5V497.5H582.5Z"/>
<path class="d" d="M585.5 496.5V498.5M584.5 498.5H586.5V507.5H584.5Z"/>
<path class="d" d="M586.5 531.5V543.5M585.5 543.5H587.5V558.5H585.5Z"/>
<path class="d" d="M588.5 595.5H590.5V642.5H588.5Z"/>
<path class="d" d="M588.5 603.5H590.5V610.5H588.5Z"/>
<path class="u" d="M589.5 613.5H591.5V625.5H589.5Z"/>
<path class="d" d="M591.5 611.5V613.5M590.5 613.5H592.5V620.5H590.5Z"/>
<path class="u" d="M592.5 604.5V605.5M591.5 605.5H593.5V620.5H591.5Z"/>
<path class="u" d="M593.5 573.5V578.5M593.5 605.5V606.5M592.5 578.5H594.5V605.5H592.5Z"/>
<path class="d" d="M594.5 578.5H596.5V590.5H594.5Z"/>
<path class="u" d="M596.5 582.5V583.5M596.5 597.5V601.5M595.5 583.5H597.5V597.5H595.5Z"/>
<path class="d" d="M598.5 594.5V595.5M597.5 595.5H599.5V613.5H597.5Z"/>
<path class="u" d="M599.5 571.5V583.5M598.5 583.5H600.5V600.5H598.5Z"/>
<path class="u" d="M599.5 548.5H601.5V560.5H599.5Z"/>
<path class="d" d="M601.5 548.5H603.5V567.5H601.5Z"/>
<path class="d" d="M604.5 557.5V560.5M603.5 560.5H605.5V573.5H603.5Z"/>
<path class="d" d="M605.5 565.5V570.5M604.5 570.5H606.5V587.5H604.5Z"/>
<path class="d" d="M605.5 587.5H607.5V613.5H605.5Z"/>
<path class="u" d="M607.5 585.5V587.5M607.5 613.5V616.5M606.5 587.5H608.5V613.5H606.5Z"/>
<path class="u" d="M608.5 582.5H610.5V597.5H608.5Z"/>
<path class="d" d="M610.5 610.5V612.5M609.5 597.5H611.5V610.5H609.5Z"/>
<path class="d" d="M612.5 604.5V607.5M612.5 627.5V635.5M611.5 607.5H613.5V627.5H611.5Z"/>
<path class="u" d="M613.5 627.5V630.5M612 627.5H615"/>
<path class="d" d="M613.5 627.5H615.5V640.5H613.5Z"/>
<path class="u" d="M615.5 638.5H617.5V648.5H615.5Z"/>
<path class="u" d="M617.5 675.5V681.5M616.5 640.5H618.5V675.5H616.5Z"/>
<path class="u" d="M619.5 640.5V650.5M618.5 617.5H620.5V640.5H618.5Z"/>
<path class="u" d="M620.5 615.5H622.5V618.5H620.5Z"/>
<path class="d" d="M622.5 600.5V610.5M621.5 610.5H623.5V620.5H621.5Z"/>
<path class="d" d="M624.5 619.5V620.5M624.5 640.5V642.5M623.5 620.5H625.5V640.5H623.5Z"/>
<path class="d" d="M625.5 658.5V660.5M624.5 647.5H626.5V658.5H624.5Z"/>
<path class="u" d="M627.5 639.5V645.5M627.5 658.5V662.5M626.5 645.5H628.5V658.5H626.5Z"/>
<path class="d" d="M627.5 645.5H629.5V652.5H627.5Z"/>
<path class="u" d="M629.5 645.5H631.5V652.5H629.5Z"/>
<path class="d" d="M630.5 645.5H632.5V650.5H630.5Z"/>
<path class="u" d="M632.5 650.5V651.5M631.5 647.5H633.5V650.5H631.5Z"/>
<path class="u" d="M633.5 647.5V650.5M632.5 643.5H634.5V647.5H632.5Z"/>
<path class="u" d="M634.5 627.5H636.5V640.5H634.5Z"/>
<path class="u" d="M636.5 627.5V629.5M635.5 618.5H637.5V627.5H635.5Z"/>
<path class="d" d="M638.5 618.5V620.5M638.5 628.5V629.5M637.5 620.5H639.5V628.5H637.5Z"/>
<path class="u" d="M639.5 603.5V612.5M639.5 628.5V631.5M638.5 612.5H640.5V628.5H638.5Z"/>
<path class="u" d="M640.5 612.5V617.5M639.5 605.5H641.5V612.5H639.5Z"/>
<path class="d" d="M641.5 610.5V612.5M640.5 605.5H642.5V610.5H640.5Z"/>
<path class="u" d="M642.5 597.5V598.5M641.5 598.5H643.5V610.5H641.5Z"/>
<path class="u" d="M642.5 580.5H644.5V590.5H642.5Z"/>
<path class="u" d="M644.5 580.5H646.5V585.5H644.5Z"/>
<path class="d" d="M646.5 595.5V601.5M645.5 580.5H647.5V595.5H645.5Z"/>
<path class="u" d="M647.5 586.5V587.5M646.5 587.5H648.5V595.5H646.5Z"/>
<path class="d" d="M649.5 570.5V572.5M649.5 588.5V595.5M648.5 572.5H650.5V588.5H648.5Z"/>
<path class="u" d="M650.5 588.5V594.5M649.5 573.5H651.5V588.5H649.5Z"/>
<path class="d" d="M651.5 585.5V586.5M650.5 573.5H652.5V585.5H650.5Z"/>
<path class="d" d="M652.5 580.5V585.5M651.5 585.5H653.5V595.5H651.5Z"/>
<path class="d" d="M653.5 592.5V595.5M652.5 595.5H654.5V610.5H652.5Z"/>
<path class="d" d="M655.5 600.5V603.5M654.5 603.5H656.5V612.5H654.5Z"/>
<path class="d" d="M655.5 612.5H657.5V620.5H655.5Z"/>
<path class="d" d="M656.5 620.5H658.5V638.5H656.5Z"/>
<path class="k" d="M658.5 629.5V630.5M657.5 630.5H659.5V638.5H657.5Z"/>
<path class="d" d="M659.5 642.5V647.5M658.5 630.5H660.5V642.5H658.5Z"/>
<path class="u" d="M659.5 628.5H661.5V642.5H659.5Z"/>
<path class="d" d="M660.5 628.5H662.5V638.5H660.5Z"/>
<path class="u" d="M661.5 635.5H663.5V638.5H661.5Z"/>
<path class="d" d="M663.5 635.5H665.5V642.5H663.5Z"/>
<path class="d" d="M665.5 640.5H667.5V647.5H665.5Z"/>
<path class="d" d="M667.5 647.5H669.5V660.5H667.5Z"/>
<path class="u" d="M668.5 655.5H670.5V660.5H668.5Z"/>
<path class="d" d="M670.5 653.5V655.5M669.5 655.5H671.5V668.5H669.5Z"/>
<path class="u" d="M671.5 657.5V660.5M671.5 668.5V674.5M670.5 660.5H672.5V668.5H670.5Z"/>
<path class="d" d="M671.5 660.5H673.5V670.5H671.5Z"/>
<path class="d" d="M674.5 668.5V670.5M673.5 670.5H675.5V687.5H673.5Z"/>
<path class="d" d="M675.5 680.5H677.5V687.5H675.5Z"/>
<path class="u" d="M677.5 665.5V667.5M677.5 687.5V691.5M676.5 667.5H678.5V687.5H676.5Z"/>
<path class="d" d="M678.5 660.5V667.5M678.5 690.5V699.5M677.5 667.5H679.5V690.5H677.5Z"/>
<path class="d" d="M679.5 725.5V731.5M678.5 703.5H680.5V725.5H678.5Z"/>
<path class="d" d="M680.5 723.5H682.5V728.5H680.5Z"/>
<path class="d" d="M682.5 720.5V725.5M682.5 750.5V754.5M681.5 725.5H683.5V750.5H681.5Z"/>
<path class="d" d="M683.5 755.5V772.5M682.5 753.5H684.5V755.5H682.5Z"/>
<path class="u" d="M683.5 750.5H685.5V755.5H683.5Z"/>
<path class="u" d="M685.5 745.5V747.5M685.5 750.5V752.5M684.5 747.5H686.5V750.5H684.5Z"/>
<path class="d" d="M687.5 734.5V737.5M686.5 737.5H688.5V747.5H686.5Z"/>
<path class="u" d="M687.5 743.5H689.5V747.5H687.5Z"/>
<path class="d" d="M689.5 753.5V754.5M688.5 743.5H690.5V753.5H688.5Z"/>
<path class="k" d="M690.5 746.5V747.5M689.5 747.5H691.5V753.5H689.5Z"/>
<path class="d" d="M691.5 752.5V753.5M690.5 747.5H692.5V752.5H690.5Z"/>
<path class="u" d="M691.5 748.5H693.5V752.5H691.5Z"/>
<path class="u" d="M692.5 747.5H694.5V748.5H692.5Z"/>
<path class="d" d="M695.5 751.5V753.5M695.5 763.5V766.5M694.5 753.5H696.5V763.5H694.5Z"/>
<path class="u" d="M696.5 753.5V757.5M695.5 747.5H697.5V753.5H695.5Z"/>
<path class="d" d="M697.5 741.5V742.5M697.5 750.5V753.5M696.5 742.5H698.5V750.5H696.5Z"/>
<path class="u" d="M698.5 744.5V747.5M697.5 747.5H699.5V750.5H697.5Z"/>
<path class="d" d="M699.5 750.5V751.5M698.5 747.5H700.5V750.5H698.5Z"/>
<path class="u" d="M700.5 749.5V750.5M699 750.5H702"/>
<path class="d" d="M701.5 749.5V750.5M700.5 750.5H702.5V753.5H700.5Z"/>
<path class="u" d="M702.5 741.5V743.5M702.5 753.5V756.5M701.5 743.5H703.5V753.5H701.5Z"/>
<path class="u" d="M703.5 727.5V728.5M702.5 728.5H704.5V743.5H702.5Z"/>
<path class="u" d="M705.5 728.5V736.5M704.5 715.5H706.5V728.5H704.5Z"/>
<path class="d" d="M707.5 706.5V712.5M706.5 712.5H708.5V730.5H706.5Z"/>
<path class="k" d="M707.5 768.5H709.5V777.5H707.5Z"/>
<path class="u" d="M709.5 753.5H711.5V768.5H709.5Z"/>
<path class="u" d="M711.5 760.5V764.5M710.5 752.5H712.5V760.5H710.5Z"/>
<path class="d" d="M713.5 750.5V752.5M712.5 752.5H714.5V762.5H712.5Z"/>
<path class="u" d="M713.5 748.5H715.5V762.5H713.5Z"/>
<path class="d" d="M715.5 757.5V758.5M714.5 748.5H716.5V757.5H714.5Z"/>
<path class="u" d="M716.5 750.5H718.5V753.5H716.5Z"/>
<path class="d" d="M719.5 753.5V755.5M718.5 748.5H720.5V753.5H718.5Z"/>
<path class="d" d="M721.5 760.5V763.5M720.5 753.5H722.5V760.5H720.5Z"/>
<path class="d" d="M723.5 760.5H725.5V768.5H723.5Z"/>
<path class="u" d="M725.5 768.5V770.5M724.5 765.5H726.5V768.5H724.5Z"/>
<path class="d" d="M726.5 768.5V769.5M725.5 765.5H727.5V768.5H725.5Z"/>
<path class="u" d="M727.5 762.5H729.5V768.5H727.5Z"/>
<path class="d" d="M729.5 760.5V762.5M729.5 765.5V766.5M728.5 762.5H730.5V765.5H728.5Z"/>
<path class="u" d="M729.5 760.5H731.5V765.5H729.5Z"/>
<path class="u" d="M731.5 754.5V757.5M731.5 760.5V761.5M730.5 757.5H732.5V760.5H730.5Z"/>
<path class="d" d="M733.5 753.5V757.5M732.5 757.5H734.5V763.5H732.5Z"/>
<path class="d" d="M734.5 765.5H736.5V767.5H734.5Z"/>
<path class="u" d="M735 767.5H738"/>
<path class="u" d="M737.5 767.5V768.5M736.5 763.5H738.5V767.5H736.5Z"/>
<path class="u" d="M739.5 758.5V759.5M738.5 755.5H740.5V758.5H738.5Z"/>
<path class="u" d="M740.5 747.5H742.5V750.5H740.5Z"/>
<path class="d" d="M742.5 741.5V743.5M741.5 743.5H743.5V752.5H741.5Z"/>
<path class="d" d="M744.5 748.5V750.5M743.5 750.5H745.5V757.5H743.5Z"/>
<path class="u" d="M745.5 757.5V761.5M744 757.5H747"/>
<path class="d" d="M746.5 767.5V768.5M745.5 757.5H747.5V767.5H745.5Z"/>
<path class="u" d="M747.5 757.5H749.5V765.5H747.5Z"/>
<path class="u" d="M749.5 748.5H751.5V753.5H749.5Z"/>
<path class="u" d="M750.5 737.5H752.5V742.5H750.5Z"/>
<path class="d" d="M753.5 745.5V747.5M753.5 748.5V749.5M752.5 747.5H754.5V748.5H752.5Z"/>
<path class="u" d="M754.5 737.5V738.5M754.5 748.5V753.5M753.5 738.5H755.5V748.5H753.5Z"/>
<path class="d" d="M755.5 737.5V738.5M754.5 738.5H756.5V740.5H754.5Z"/>
<path class="u" d="M756.5 740.5V742.5M755.5 727.5H757.5V740.5H755.5Z"/>
<path class="u" d="M757.5 715.5V717.5M756.5 717.5H758.5V727.5H756.5Z"/>
<path class="u" d="M759.5 714.5V717.5M758.5 717.5H760.5V720.5H758.5Z"/>
<path class="u" d="M761.5 712.5V713.5M761.5 717.5V720.5M760.5 713.5H762.5V717.5H760.5Z"/>
<path class="d" d="M763.5 723.5V729.5M762.5 717.5H764.5V723.5H762.5Z"/>
<path class="u" d="M764.5 721.5V723.5M763 723.5H766"/>
<path class="d" d="M765.5 733.5V738.5M764.5 723.5H766.5V733.5H764.5Z"/>
<path class="d" d="M766.5 733.5H768.5V735.5H766.5Z"/>
<path class="d" d="M767.5 743.5H769.5V753.5H767.5Z"/>
<path class="u" d="M769.5 748.5V750.5M768.5 750.5H770.5V753.5H768.5Z"/>
<path class="u" d="M770.5 750.5V752.5M769.5 747.5H771.5V750.5H769.5Z"/>
<path class="d" d="M772.5 757.5V758.5M771.5 747.5H773.5V757.5H771.5Z"/>
<path class="u" d="M773.5 752.5V753.5M772.5 753.5H774.5V757.5H772.5Z"/>
<path class="d" d="M775.5 752.5V753.5M774.5 753.5H776.5V760.5H774.5Z"/>
<path class="u" d="M776.5 760.5V761.5M775.5 755.5H777.5V760.5H775.5Z"/>
<path class="u" d="M779.5 748.5V752.5M778.5 752.5H780.5V757.5H778.5Z"/>
<path class="u" d="M780.5 749.5V750.5M780.5 752.5V754.5M779.5 750.5H781.5V752.5H779.5Z"/>
<path class="d" d="M781.5 757.5V758.5M780.5 750.5H782.5V757.5H780.5Z"/>
<path class="u" d="M782.5 747.5V748.5M781.5 748.5H783.5V757.5H781.5Z"/>
<path class="d" d="M784.5 746.5V748.5M784.5 753.5V756.5M783.5 748.5H785.5V753.5H783.5Z"/>
<path class="u" d="M786.5 750.5V751.5M785.5 740.5H787.5V750.5H785.5Z"/>
<path class="u" d="M787.5 740.5V741.5M786.5 737.5H788.5V740.5H786.5Z"/>
<path class="d" d="M788.5 736.5V737.5M787.5 737.5H789.5V750.5H787.5Z"/>
<path class="u" d="M789.5 749.5V750.5M788 750.5H791"/>
<path class="u" d="M789.5 743.5H791.5V750.5H789.5Z"/>
<path class="u" d="M791.5 738.5V740.5M791.5 743.5V745.5M790.5 740.5H792.5V743.5H790.5Z"/>
<path class="d" d="M792.5 747.5V748.5M791.5 740.5H793.5V747.5H791.5Z"/>
<path class="u" d="M792 747.5H795"/>
<path class="d" d="M795.5 750.5V751.5M794.5 747.5H796.5V750.5H794.5Z"/>
<path class="d" d="M796.5 745.5V748.5M795.5 748.5H797.5V752.5H795.5Z"/>
<path class="d" d="M797.5 753.5V754.5M796.5 752.5H798.5V753.5H796.5Z"/>
<path class="u" d="M799.5 747.5V748.5M799.5 753.5V754.5M798.5 748.5H800.5V753.5H798.5Z"/>
<path class="u" d="M800.5 734.5V737.5M800.5 748.5V750.5M799.5 737.5H801.5V748.5H799.5Z"/>
<path class="d" d="M801.5 738.5V739.5M800.5 737.5H802.5V738.5H800.5Z"/>
<path class="d" d="M802.5 738.5V742.5M801.5 730.5H803.5V738.5H801.5Z"/>
<path class="u" d="M803.5 737.5V738.5M803.5 738.5V739.5M802 738.5H805"/>
<path class="d" d="M804.5 736.5V738.5M803.5 738.5H805.5V742.5H803.5Z"/>
<path class="u" d="M807.5 738.5V740.5M806.5 740.5H808.5V742.5H806.5Z"/>
<path class="u" d="M808.5 740.5V742.5M807.5 737.5H809.5V740.5H807.5Z"/>
<path class="d" d="M809.5 742.5V744.5M808.5 737.5H810.5V742.5H808.5Z"/>
<path class="u" d="M810.5 735.5V738.5M810.5 742.5V743.5M809.5 738.5H811.5V742.5H809.5Z"/>
<path class="d" d="M811.5 742.5V743.5M810.5 738.5H812.5V742.5H810.5Z"/>
<path class="d" d="M812.5 741.5V742.5M812.5 748.5V750.5M811.5 742.5H813.5V748.5H811.5Z"/>
<path class="d" d="M812.5 748.5H814.5V750.5H812.5Z"/>
<path class="u" d="M813.5 747.5H815.5V750.5H813.5Z"/>
<path class="d" d="M816.5 746.5V747.5M815.5 747.5H817.5V750.5H815.5Z"/>
<path class="u" d="M817.5 750.5V753.5M816.5 748.5H818.5V750.5H816.5Z"/>
<path class="d" d="M818.5 755.5V759.5M817.5 748.5H819.5V755.5H817.5Z"/>
<path class="u" d="M819.5 747.5V750.5M818.5 750.5H820.5V755.5H818.5Z"/>
<path class="d" d="M819.5 750.5H821.5V753.5H819.5Z"/>
<path class="u" d="M821.5 753.5V754.5M820 753.5H823"/>
<path class="d" d="M821.5 753.5H823.5V757.5H821.5Z"/>
<path class="u" d="M824.5 756.5V757.5M823 757.5H826"/>
<path class="d" d="M824.5 757.5H826.5V758.5H824.5Z"/>
<path class="u" d="M825.5 753.5H827.5V758.5H825.5Z"/>
<path class="u" d="M827.5 746.5V748.5M827.5 753.5V756.5M826.5 748.5H828.5V753.5H826.5Z"/>
<path class="u" d="M828.5 747.5V748.5M827 748.5H830"/>
<path class="d" d="M830.5 747.5V748.5M829.5 748.5H831.5V752.5H829.5Z"/>
<path class="u" d="M831.5 734.5V737.5M830.5 737.5H832.5V752.5H830.5Z"/>
<path class="d" d="M832.5 740.5V742.5M831.5 737.5H833.5V740.5H831.5Z"/>
<path class="u" d="M833.5 735.5V738.5M832.5 738.5H834.5V740.5H832.5Z"/>
<path class="d" d="M834.5 742.5V745.5M833.5 738.5H835.5V742.5H833.5Z"/>
<path class="u" d="M835.5 739.5V740.5M835.5 742.5V746.5M834.5 740.5H836.5V742.5H834.5Z"/>
<path class="d" d="M835.5 740.5H837.5V743.5H835.5Z"/>
<path class="k" d="M836.5 732.5H838.5V743.5H836.5Z"/>
<path class="u" d="M838.5 712.5V716.5M837.5 716.5H839.5V732.5H837.5Z"/>
<path class="d" d="M840.5 730.5V734.5M839.5 714.5H841.5V730.5H839.5Z"/>
<path class="d" d="M840.5 725.5V728.5M839.5 728.5H841.5V757.5H839.5Z"/>
<path class="d" d="M841.5 744.5V747.5M841.5 761.5V762.5M840.5 747.5H842.5V761.5H840.5Z"/>
<path class="d" d="M843.5 751.5V753.5M842.5 753.5H844.5V755.5H842.5Z"/>
<path class="d" d="M843.5 755.5H845.5V772.5H843.5Z"/>
<path class="u" d="M844.5 767.5H846.5V772.5H844.5Z"/>
<path class="d" d="M845.5 760.5H847.5V765.5H845.5Z"/>
<path class="d" d="M848.5 762.5V763.5M847.5 763.5H849.5V765.5H847.5Z"/>
<path class="u" d="M848.5 762.5H850.5V765.5H848.5Z"/>
<path class="d" d="M850.5 761.5V762.5M849.5 762.5H851.5V765.5H849.5Z"/>
<path class="d" d="M851.5 771.5V772.5M850.5 772.5H852.5V773.5H850.5Z"/>
<path class="u" d="M852.5 764.5V768.5M851.5 757.5H853.5V764.5H851.5Z"/>
<path class="u" d="M854.5 757.5V759.5M853.5 753.5H855.5V757.5H853.5Z"/>
<path class="d" d="M855.5 754.5V755.5M854.5 753.5H856.5V754.5H854.5Z"/>
<path class="u" d="M857.5 754.5V755.5M856.5 748.5H858.5V754.5H856.5Z"/>
<path class="u" d="M858.5 742.5V743.5M857.5 743.5H859.5V745.5H857.5Z"/>
<path class="u" d="M859.5 742.5H861.5V743.5H859.5Z"/>
<path class="d" d="M860.5 740.5H862.5V741.5H860.5Z"/>
<path class="d" d="M863.5 742.5V743.5M862.5 743.5H864.5V747.5H862.5Z"/>
<path class="d" d="M865.5 752.5V754.5M864.5 747.5H866.5V752.5H864.5Z"/>
<path class="u" d="M866.5 752.5V753.5M865 752.5H868"/>
<path class="d" d="M867.5 753.5V755.5M866.5 752.5H868.5V753.5H866.5Z"/>
<path class="d" d="M868.5 749.5V752.5M867.5 752.5H869.5V754.5H867.5Z"/>
<path class="u" d="M870.5 752.5V753.5M870.5 757.5V762.5M869.5 753.5H871.5V757.5H869.5Z"/>
<path class="d" d="M871.5 758.5V761.5M870.5 753.5H872.5V758.5H870.5Z"/>
<path class="u" d="M872.5 757.5V758.5M872.5 758.5V760.5M871 758.5H874"/>
<path class="d" d="M873.5 757.5V758.5M873.5 762.5V765.5M872.5 758.5H874.5V762.5H872.5Z"/>
<path class="d" d="M875.5 759.5V760.5M875.5 765.5V767.5M874.5 760.5H876.5V765.5H874.5Z"/>
<path class="d" d="M875.5 769.5H877.5V770.5H875.5Z"/>
<path class="u" d="M876.5 768.5H878.5V770.5H876.5Z"/>
<path class="d" d="M877.5 768.5H879.5V769.5H877.5Z"/>
<path class="d" d="M880.5 766.5V768.5M879.5 768.5H881.5V769.5H879.5Z"/>
<path class="d" d="M881.5 769.5H883.5V772.5H881.5Z"/>
<path class="d" d="M883.5 772.5H885.5V774.5H883.5Z"/>
<path class="d" d="M885.5 774.5H887.5V776.5H885.5Z"/>
<path class="u" d="M887.5 776.5V777.5M886.5 772.5H888.5V776.5H886.5Z"/>
<path class="d" d="M888.5 773.5V775.5M887.5 772.5H889.5V773.5H887.5Z"/>
<path class="d" d="M890.5 770.5V772.5M889.5 772.5H891.5V773.5H889.5Z"/>
<path class="d" d="M891.5 772.5V774.5M891.5 774.5V775.5M890 774.5H893"/>
<path class="d" d="M892.5 766.5H894.5V767.5H892.5Z"/>
<path class="u" d="M894.5 767.5V768.5M893.5 765.5H895.5V767.5H893.5Z"/>
<path class="u" d="M894.5 763.5H896.5V765.5H894.5Z"/>
<path class="u" d="M896.5 761.5V762.5M895 762.5H898"/>
<path class="d" d="M897.5 754.5H899.5V756.5H897.5Z"/>
<path class="d" d="M900.5 758.5V759.5M899.5 753.5H901.5V758.5H899.5Z"/>
<path class="d" d="M901.5 752.5V753.5M900.5 753.5H902.5V761.5H900.5Z"/>
<path class="u" d="M903.5 754.5V757.5M902.5 757.5H904.5V760.5H902.5Z"/>
<path class="u" d="M903.5 750.5H905.5V757.5H903.5Z"/>
<path class="d" d="M904.5 750.5H906.5V752.5H904.5Z"/>
<path class="u" d="M907.5 752.5V753.5M907.5 756.5V757.5M906.5 753.5H908.5V756.5H906.5Z"/>
<path class="u" d="M907.5 748.5H909.5V751.5H907.5Z"/>
<path class="u" d="M909.5 748.5V749.5M908.5 744.5H910.5V748.5H908.5Z"/>
<path class="d" d="M911.5 742.5V744.5M910.5 744.5H912.5V753.5H910.5Z"/>
<path class="u" d="M913.5 753.5V755.5M912.5 752.5H914.5V753.5H912.5Z"/>
<path class="u" d="M914.5 740.5V745.5M914.5 752.5V757.5M913.5 745.5H915.5V752.5H913.5Z"/>
<path class="d" d="M914.5 745.5H916.5V746.5H914.5Z"/>
<path class="u" d="M916.5 746.5V748.5M915.5 748.5H917.5V752.5H915.5Z"/>
<path class="d" d="M917.5 752.5V756.5M916.5 748.5H918.5V752.5H916.5Z"/>
<path class="u" d="M917.5 751.5H919.5V752.5H917.5Z"/>
<path class="u" d="M918.5 739.5H920.5V751.5H918.5Z"/>
<path class="d" d="M921.5 750.5V751.5M920.5 739.5H922.5V750.5H920.5Z"/>
<path class="u" d="M921.5 752.5H923.5V753.5H921.5Z"/>
<path class="d" d="M923.5 751.5V752.5M923.5 756.5V758.5M922.5 752.5H924.5V756.5H922.5Z"/>
<path class="d" d="M924.5 754.5V756.5M923.5 756.5H925.5V758.5H923.5Z"/>
<path class="u" d="M926.5 754.5V757.5M925.5 748.5H927.5V754.5H925.5Z"/>
<path class="u" d="M927.5 745.5V746.5M926.5 746.5H928.5V747.5H926.5Z"/>
<path class="u" d="M928.5 742.5V743.5M927.5 743.5H929.5V748.5H927.5Z"/>
<path class="d" d="M930.5 735.5V739.5M929.5 729.5H931.5V735.5H929.5Z"/>
<path class="d" d="M931.5 733.5V735.5M930.5 735.5H932.5V742.5H930.5Z"/>
<path class="u" d="M932.5 742.5H934.5V743.5H932.5Z"/>
<path class="d" d="M935.5 740.5V741.5M934.5 733.5H936.5V740.5H934.5Z"/>
<path class="d" d="M936.5 744.5V745.5M936.5 748.5V750.5M935.5 745.5H937.5V748.5H935.5Z"/>
<path class="u" d="M938.5 744.5V745.5M937.5 745.5H939.5V748.5H937.5Z"/>
<path class="d" d="M938.5 745.5H940.5V747.5H938.5Z"/>
<path class="d" d="M941.5 751.5V753.5M941.5 753.5V754.5M940 753.5H943"/>
<path class="d" d="M943.5 752.5V753.5M942.5 753.5H944.5V755.5H942.5Z"/>
<path class="d" d="M944.5 755.5H946.5V758.5H944.5Z"/>
<path class="d" d="M946.5 757.5V758.5M945.5 758.5H947.5V768.5H945.5Z"/>
<path class="u" d="M946.5 758.5H948.5V768.5H946.5Z"/>
<path class="u" d="M948.5 758.5V759.5M947.5 753.5H949.5V758.5H947.5Z"/>
<path class="u" d="M950.5 753.5V757.5M949.5 751.5H951.5V753.5H949.5Z"/>
<path class="d" d="M951.5 758.5V760.5M950.5 751.5H952.5V758.5H950.5Z"/>
<path class="u" d="M951.5 752.5H953.5V758.5H951.5Z"/>
<path class="u" d="M953.5 748.5V751.5M953.5 752.5V754.5M952.5 751.5H954.5V752.5H952.5Z"/>
<path class="u" d="M955.5 752.5V754.5M954.5 749.5H956.5V752.5H954.5Z"/>
<path class="d" d="M956.5 742.5V744.5M956.5 748.5V750.5M955.5 744.5H957.5V748.5H955.5Z"/>
<path class="d" d="M958.5 749.5V751.5M957.5 743.5H959.5V749.5H957.5Z"/>
<path class="d" d="M959.5 743.5H961.5V748.5H959.5Z"/>
<path class="d" d="M960.5 748.5H962.5V753.5H960.5Z"/>
<path class="u" d="M962.5 748.5V749.5M962.5 753.5V754.5M961.5 749.5H963.5V753.5H961.5Z"/>
<path class="u" d="M963.5 749.5V750.5M962 749.5H965"/>
<path class="u" d="M964.5 749.5V751.5M963.5 746.5H965.5V749.5H963.5Z"/>
<path class="u" d="M966.5 741.5V743.5M966.5 744.5V746.5M965.5 743.5H967.5V744.5H965.5Z"/>
<path class="d" d="M967.5 746.5H969.5V748.5H967.5Z"/>
<path class="u" d="M968.5 743.5H970.5V748.5H968.5Z"/>
<path class="d" d="M970.5 741.5V743.5M970.5 745.5V747.5M969.5 743.5H971.5V745.5H969.5Z"/>
<path class="d" d="M971.5 748.5V749.5M970.5 746.5H972.5V748.5H970.5Z"/>
<path class="d" d="M972.5 747.5V748.5M972.5 748.5V749.5M971 748.5H974"/>
<path class="u" d="M972.5 747.5H974.5V748.5H972.5Z"/>
<path class="k" d="M975.5 742.5V743.5M975.5 747.5V748.5M974.5 743.5H976.5V747.5H974.5Z"/>
<path class="d" d="M975.5 739.5H977.5V740.5H975.5Z"/>
<path class="d" d="M976.5 731.5H978.5V733.5H976.5Z"/>
<path class="u" d="M978.5 723.5H980.5V728.5H978.5Z"/>
<path class="d" d="M980.5 738.5V741.5M979.5 727.5H981.5V738.5H979.5Z"/>
<path class="d" d="M981.5 739.5V740.5M980.5 740.5H982.5V747.5H980.5Z"/>
<path class="d" d="M981.5 743.5H983.5V749.5H981.5Z"/>
<path class="d" d="M984.5 747.5V748.5M983.5 748.5H985.5V750.5H983.5Z"/>
<path class="d" d="M986.5 747.5V748.5M985.5 748.5H987.5V751.5H985.5Z"/>
<path class="u" d="M987.5 751.5V752.5M986.5 749.5H988.5V751.5H986.5Z"/>
<path class="d" d="M988.5 747.5V749.5M987.5 749.5H989.5V750.5H987.5Z"/>
<path class="d" d="M989.5 753.5V754.5M988.5 750.5H990.5V753.5H988.5Z"/>
<path class="u" d="M990.5 749.5V751.5M989.5 751.5H991.5V753.5H989.5Z"/>
<path class="u" d="M990 751.5H993"/>
<path class="u" d="M992.5 751.5V752.5M991.5 749.5H993.5V751.5H991.5Z"/>
<path class="u" d="M994.5 746.5V748.5M994.5 750.5V752.5M993.5 748.5H995.5V750.5H993.5Z"/>
<path class="d" d="M995.5 758.5V760.5M994.5 757.5H996.5V758.5H994.5Z"/>
<path class="d" d="M997.5 760.5V761.5M996.5 758.5H998.5V760.5H996.5Z"/>
<path class="d" d="M998.5 759.5V760.5M997.5 760.5H999.5V762.5H997.5Z"/>
<path class="d" d="M999.5 762.5H1001.5V763.5H999.5Z"/>
<path class="u" d="M1001.5 756.5H1003.5V757.5H1001.5Z"/>
<path class="d" d="M1003.5 757.5V758.5M1002.5 756.5H1004.5V757.5H1002.5Z"/>
<path class="u" d="M1003.5 756.5H1005.5V757.5H1003.5Z"/>
<path class="d" d="M1005.5 755.5V758.5M1004.5 758.5H1006.5V759.5H1004.5Z"/>
<path class="d" d="M1007.5 760.5V762.5M1006.5 758.5H1008.5V760.5H1006.5Z"/>
<path class="d" d="M1009.5 757.5V758.5M1008.5 758.5H1010.5V762.5H1008.5Z"/>
<path class="d" d="M1009.5 762.5H1011.5V763.5H1009.5Z"/>
<path class="d" d="M1011.5 762.5H1013.5V763.5H1011.5Z"/>
<path class="u" d="M1013.5 756.5V758.5M1013.5 763.5V765.5M1012.5 758.5H1014.5V763.5H1012.5Z"/>
<path class="d" d="M1013 758.5H1016"/>
<path class="d" d="M1015.5 758.5H1017.5V760.5H1015.5Z"/>
<path class="d" d="M1016.5 761.5H1018.5V762.5H1016.5Z"/>
<path class="d" d="M1019.5 760.5V761.5M1018.5 761.5H1020.5V764.5H1018.5Z"/>
<path class="d" d="M1020.5 766.5V767.5M1019.5 764.5H1021.5V766.5H1019.5Z"/>
<path class="d" d="M1021.5 765.5H1023.5V768.5H1021.5Z"/>
<path class="d" d="M1024.5 765.5V768.5M1023.5 768.5H1025.5V769.5H1023.5Z"/>
<path class="d" d="M1024.5 768.5H1026.5V769.5H1024.5Z"/>
<path class="u" d="M1026.5 783.5V784.5M1025.5 782.5H1027.5V783.5H1025.5Z"/>
<path class="u" d="M1027.5 778.5V779.5M1026.5 779.5H1028.5V780.5H1026.5Z"/>
<path class="u" d="M1028.5 777.5H1030.5V779.5H1028.5Z"/>
<path class="d" d="M1031.5 778.5V779.5M1031.5 780.5V781.5M1030.5 779.5H1032.5V780.5H1030.5Z"/>
<path class="d" d="M1031.5 780.5H1033.5V782.5H1031.5Z"/>
<path class="d" d="M1033.5 781.5V782.5M1032.5 782.5H1034.5V783.5H1032.5Z"/>
<path class="k" d="M1034.5 778.5V779.5M1033.5 779.5H1035.5V783.5H1033.5Z"/>
<path class="u" d="M1034.5 777.5H1036.5V779.5H1034.5Z"/>
<path class="u" d="M1036.5 771.5V772.5M1036.5 774.5V776.5M1035.5 772.5H1037.5V774.5H1035.5Z"/>
<path class="u" d="M1037.5 767.5H1039.5V771.5H1037.5Z"/>
<path class="k" d="M1040.5 767.5V768.5M1039.5 764.5H1041.5V767.5H1039.5Z"/>
<path class="d" d="M1040.5 767.5H1042.5V771.5H1040.5Z"/>
<path class="u" d="M1043.5 764.5V765.5M1042.5 765.5H1044.5V768.5H1042.5Z"/>
<path class="u" d="M1044.5 761.5V763.5M1043.5 763.5H1045.5V765.5H1043.5Z"/>
<path class="u" d="M1044 758.5H1047"/>
<path class="d" d="M1046.5 759.5H1048.5V763.5H1046.5Z"/>
<path class="d" d="M1049.5 765.5V767.5M1048.5 763.5H1050.5V765.5H1048.5Z"/>
<path class="d" d="M1049.5 765.5H1051.5V766.5H1049.5Z"/>
<path class="u" d="M1050 766.5H1053"/>
<path class="u" d="M1051.5 765.5H1053.5V766.5H1051.5Z"/>
<path class="u" d="M1053.5 764.5H1055.5V765.5H1053.5Z"/>
<path class="u" d="M1055.5 752.5V753.5M1054.5 753.5H1056.5V764.5H1054.5Z"/>
<path class="d" d="M1056.5 754.5V755.5M1055.5 748.5H1057.5V754.5H1055.5Z"/>
<path class="u" d="M1057.5 752.5H1059.5V756.5H1057.5Z"/>
<path class="d" d="M1059.5 748.5V750.5M1058.5 750.5H1060.5V753.5H1058.5Z"/>
<path class="u" d="M1060.5 733.5H1062.5V752.5H1060.5Z"/>
<path class="d" d="M1062.5 729.5V730.5M1062.5 732.5V735.5M1061.5 730.5H1063.5V732.5H1061.5Z"/>
<path class="d" d="M1064.5 739.5V740.5M1063.5 740.5H1065.5V743.5H1063.5Z"/>
<path class="d" d="M1065.5 741.5V742.5M1065.5 744.5V747.5M1064.5 742.5H1066.5V744.5H1064.5Z"/>
<path class="u" d="M1066.5 735.5H1068.5V744.5H1066.5Z"/>
<path class="d" d="M1067.5 735.5H1069.5V738.5H1067.5Z"/>
<path class="d" d="M1070.5 742.5V743.5M1069.5 741.5H1071.5V742.5H1069.5Z"/>
<path class="d" d="M1071.5 744.5V745.5M1070.5 743.5H1072.5V744.5H1070.5Z"/>
<path class="d" d="M1073.5 746.5V751.5M1072.5 741.5H1074.5V746.5H1072.5Z"/>
<path class="d" d="M1074.5 745.5V747.5M1074.5 748.5V749.5M1073.5 747.5H1075.5V748.5H1073.5Z"/>
<path class="d" d="M1076.5 750.5V751.5M1075.5 748.5H1077.5V750.5H1075.5Z"/>
<path class="u" d="M1076.5 745.5H1078.5V750.5H1076.5Z"/>
<path class="u" d="M1078.5 745.5V746.5M1077 745.5H1080"/>
<path class="u" d="M1079.5 744.5V747.5M1078.5 738.5H1080.5V744.5H1078.5Z"/>
<path class="d" d="M1081.5 740.5V742.5M1080.5 742.5H1082.5V743.5H1080.5Z"/>
<path class="d" d="M1083.5 745.5V746.5M1082.5 743.5H1084.5V745.5H1082.5Z"/>
<path class="d" d="M1084.5 743.5V745.5M1084.5 751.5V752.5M1083.5 745.5H1085.5V751.5H1083.5Z"/>
<path class="d" d="M1085.5 751.5V752.5M1085.5 755.5V756.5M1084.5 752.5H1086.5V755.5H1084.5Z"/>
<path class="d" d="M1085.5 755.5H1087.5V758.5H1085.5Z"/>
<path class="d" d="M1087 766.5H1090"/>
<path class="d" d="M1088.5 765.5H1090.5V767.5H1088.5Z"/>
<path class="u" d="M1091.5 767.5V768.5M1090.5 762.5H1092.5V767.5H1090.5Z"/>
<path class="d" d="M1093.5 765.5V767.5M1092.5 767.5H1094.5V768.5H1092.5Z"/>
<path class="d" d="M1093.5 768.5H1095.5V769.5H1093.5Z"/>
<path class="u" d="M1095.5 763.5V764.5M1094.5 764.5H1096.5V769.5H1094.5Z"/>
<path class="d" d="M1097.5 766.5V767.5M1097.5 769.5V771.5M1096.5 767.5H1098.5V769.5H1096.5Z"/>
<path class="d" d="M1099.5 767.5V768.5M1098.5 768.5H1100.5V770.5H1098.5Z"/>
<path class="u" d="M1099.5 769.5H1101.5V770.5H1099.5Z"/>
<path class="u" d="M1101.5 767.5V769.5M1101.5 769.5V770.5M1100 769.5H1103"/>
<path class="u" d="M1103.5 769.5V772.5M1102.5 766.5H1104.5V769.5H1102.5Z"/>
<path class="u" d="M1104.5 764.5V765.5M1103.5 763.5H1105.5V764.5H1103.5Z"/>
<path class="d" d="M1106.5 762.5V763.5M1106.5 763.5V764.5M1105 763.5H1108"/>
<path class="d" d="M1107.5 769.5H1109.5V772.5H1107.5Z"/>
<path class="u" d="M1108.5 767.5H1110.5V769.5H1108.5Z"/>
<path class="u" d="M1110.5 766.5H1112.5V767.5H1110.5Z"/>
<path class="u" d="M1112.5 764.5H1114.5V765.5H1112.5Z"/>
<path class="u" d="M1113.5 758.5H1115.5V760.5H1113.5Z"/>
<path class="u" d="M1115.5 751.5V753.5M1114.5 753.5H1116.5V754.5H1114.5Z"/>
<path class="d" d="M1117.5 756.5V758.5M1116.5 753.5H1118.5V756.5H1116.5Z"/>
<path class="u" d="M1118.5 753.5H1120.5V756.5H1118.5Z"/>
<path class="u" d="M1120.5 740.5V744.5M1119.5 744.5H1121.5V748.5H1119.5Z"/>
<path class="d" d="M1122.5 742.5V743.5M1122.5 746.5V748.5M1121.5 743.5H1123.5V746.5H1121.5Z"/>
<path class="u" d="M1123.5 741.5V742.5M1122.5 737.5H1124.5V741.5H1122.5Z"/>
<path class="u" d="M1125.5 732.5V734.5M1124.5 734.5H1126.5V735.5H1124.5Z"/>
<path class="d" d="M1125.5 736.5H1127.5V739.5H1125.5Z"/>
<path class="d" d="M1127.5 739.5H1129.5V743.5H1127.5Z"/>
<path class="d" d="M1128.5 740.5H1130.5V743.5H1128.5Z"/>
<path class="d" d="M1130.5 741.5H1132.5V743.5H1130.5Z"/>
<path class="d" d="M1133.5 747.5V749.5M1132.5 742.5H1134.5V747.5H1132.5Z"/>
<path class="d" d="M1133.5 747.5H1135.5V748.5H1133.5Z"/>
<path class="d" d="M1136.5 742.5V746.5M1135.5 746.5H1137.5V748.5H1135.5Z"/>
<path class="u" d="M1138.5 743.5V746.5M1138.5 747.5V748.5M1137.5 746.5H1139.5V747.5H1137.5Z"/>
<path class="u" d="M1138.5 743.5H1140.5V744.5H1138.5Z"/>
<path class="u" d="M1139.5 744.5H1141.5V745.5H1139.5Z"/>
<path class="k" d="M1143.5 744.5V745.5M1143.5 746.5V748.5M1142.5 745.5H1144.5V746.5H1142.5Z"/>
<path class="u" d="M1144.5 740.5V742.5M1143.5 742.5H1145.5V744.5H1143.5Z"/>
<path class="d" d="M1145.5 685.5V687.5M1145.5 702.5V705.5M1144.5 687.5H1146.5V702.5H1144.5Z"/>
<path class="u" d="M1145.5 680.5H1147.5V702.5H1145.5Z"/>
<path class="d" d="M1146.5 680.5H1148.5V693.5H1146.5Z"/>
<path class="u" d="M1148.5 693.5V694.5M1147.5 687.5H1149.5V693.5H1147.5Z"/>
<path class="u" d="M1149.5 680.5H1151.5V687.5H1149.5Z"/>
<path class="u" d="M1151.5 680.5V682.5M1150.5 672.5H1152.5V680.5H1150.5Z"/>
<path class="d" d="M1152.5 669.5V672.5M1152.5 683.5V688.5M1151.5 672.5H1153.5V683.5H1151.5Z"/>
<path class="u" d="M1153.5 670.5V673.5M1153.5 683.5V689.5M1152.5 673.5H1154.5V683.5H1152.5Z"/>
<path class="d" d="M1154.5 673.5H1156.5V687.5H1154.5Z"/>
<path class="d" d="M1156.5 686.5V687.5M1155.5 687.5H1157.5V688.5H1155.5Z"/>
<path class="u" d="M1157.5 674.5V680.5M1157.5 688.5V691.5M1156.5 680.5H1158.5V688.5H1156.5Z"/>
<path class="u" d="M1159.5 662.5V665.5M1158.5 650.5H1160.5V662.5H1158.5Z"/>
<path class="u" d="M1160.5 618.5V625.5M1159.5 625.5H1161.5V647.5H1159.5Z"/>
<path class="u" d="M1161.5 593.5V605.5M1161.5 625.5V629.5M1160.5 605.5H1162.5V625.5H1160.5Z"/>
<path class="d" d="M1162.5 603.5V605.5M1162.5 623.5V627.5M1161.5 605.5H1163.5V623.5H1161.5Z"/>
<path class="d" d="M1164.5 630.5V635.5M1163.5 613.5H1165.5V630.5H1163.5Z"/>
<path class="d" d="M1164.5 630.5H1166.5V633.5H1164.5Z"/>
<path class="u" d="M1166.5 613.5V615.5M1165.5 615.5H1167.5V633.5H1165.5Z"/>
<path class="d" d="M1168.5 617.5H1170.5V627.5H1168.5Z"/>
<path class="d" d="M1169.5 630.5H1171.5V652.5H1169.5Z"/>
<path class="u" d="M1171.5 633.5V635.5M1170.5 635.5H1172.5V652.5H1170.5Z"/>
<path class="u" d="M1171.5 627.5H1173.5V635.5H1171.5Z"/>
<path class="d" d="M1173.5 621.5V627.5M1172.5 627.5H1174.5V630.5H1172.5Z"/>
<path class="u" d="M1173.5 623.5H1175.5V630.5H1173.5Z"/>
<path class="d" d="M1175.5 627.5V630.5M1174.5 623.5H1176.5V627.5H1174.5Z"/>
<path class="d" d="M1176.5 625.5V627.5M1176.5 637.5V642.5M1175.5 627.5H1177.5V637.5H1175.5Z"/>
<path class="u" d="M1177.5 625.5V633.5M1176.5 633.5H1178.5V637.5H1176.5Z"/>
<path class="u" d="M1178.5 622.5V625.5M1178.5 633.5V641.5M1177.5 625.5H1179.5V633.5H1177.5Z"/>
<path class="d" d="M1179.5 628.5V631.5M1178.5 625.5H1180.5V628.5H1178.5Z"/>
<path class="u" d="M1180.5 622.5V623.5M1180.5 628.5V629.5M1179.5 623.5H1181.5V628.5H1179.5Z"/>
<path class="u" d="M1181.5 620.5H1183.5V625.5H1181.5Z"/>
<path class="d" d="M1184.5 599.5V602.5M1183.5 602.5H1185.5V608.5H1183.5Z"/>
<path class="d" d="M1186.5 605.5V607.5M1185.5 607.5H1187.5V613.5H1185.5Z"/>
<path class="u" d="M1187.5 598.5V603.5M1186.5 603.5H1188.5V613.5H1186.5Z"/>
<path class="u" d="M1188.5 584.5V585.5M1188.5 603.5V605.5M1187.5 585.5H1189.5V603.5H1187.5Z"/>
<path class="d" d="M1189.5 617.5H1191.5V627.5H1189.5Z"/>
<path class="u" d="M1190.5 623.5H1192.5V627.5H1190.5Z"/>
<path class="d" d="M1192.5 621.5V623.5M1192.5 633.5V640.5M1191.5 623.5H1193.5V633.5H1191.5Z"/>
<path class="u" d="M1193.5 633.5V639.5M1192.5 613.5H1194.5V633.5H1192.5Z"/>
<path class="d" d="M1193.5 613.5H1195.5V637.5H1193.5Z"/>
<path class="u" d="M1195.5 637.5V640.5M1194.5 627.5H1196.5V637.5H1194.5Z"/>
<path class="d" d="M1196.5 619.5V627.5M1196.5 638.5V640.5M1195.5 627.5H1197.5V638.5H1195.5Z"/>
<path class="u" d="M1196.5 633.5H1198.5V638.5H1196.5Z"/>
<path class="u" d="M1198.5 633.5V638.5M1197.5 623.5H1199.5V633.5H1197.5Z"/>
<path class="d" d="M1200.5 613.5V618.5M1199.5 612.5H1201.5V613.5H1199.5Z"/>
<path class="u" d="M1201.5 620.5V625.5M1200.5 597.5H1202.5V620.5H1200.5Z"/>
<path class="d" d="M1203.5 578.5V580.5M1202.5 580.5H1204.5V607.5H1202.5Z"/>
<path class="d" d="M1205.5 597.5V603.5M1204.5 603.5H1206.5V620.5H1204.5Z"/>
<path class="d" d="M1206.5 598.5V610.5M1205.5 610.5H1207.5V630.5H1205.5Z"/>
<path class="d" d="M1208.5 640.5V641.5M1207.5 627.5H1209.5V640.5H1207.5Z"/>
<path class="d" d="M1208.5 640.5H1210.5V652.5H1208.5Z"/>
<path class="u" d="M1210.5 633.5V635.5M1210.5 652.5V653.5M1209.5 635.5H1211.5V652.5H1209.5Z"/>
<path class="d" d="M1212.5 642.5V643.5M1211.5 632.5H1213.5V642.5H1211.5Z"/>
<path class="u" d="M1212.5 633.5H1214.5V642.5H1212.5Z"/>
<path class="u" d="M1213.5 623.5H1215.5V633.5H1213.5Z"/>
<path class="d" d="M1215.5 630.5V635.5M1214.5 612.5H1216.5V630.5H1214.5Z"/>
<path class="u" d="M1216.5 630.5V632.5M1215.5 613.5H1217.5V630.5H1215.5Z"/>
<path class="u" d="M1217.5 613.5V619.5M1216.5 610.5H1218.5V613.5H1216.5Z"/>
<path class="u" d="M1218.5 598.5H1220.5V605.5H1218.5Z"/>
<path class="d" d="M1221.5 609.5V610.5M1220.5 610.5H1222.5V630.5H1220.5Z"/>
<path class="u" d="M1222.5 619.5V623.5M1222.5 630.5V635.5M1221.5 623.5H1223.5V630.5H1221.5Z"/>
<path class="u" d="M1223.5 623.5V624.5M1222.5 607.5H1224.5V623.5H1222.5Z"/>
<path class="d" d="M1223.5 607.5H1225.5V627.5H1223.5Z"/>
<path class="d" d="M1225.5 625.5V627.5M1225.5 637.5V641.5M1224.5 627.5H1226.5V637.5H1224.5Z"/>
<path class="u" d="M1226.5 637.5V638.5M1225.5 633.5H1227.5V637.5H1225.5Z"/>
<path class="d" d="M1227.5 640.5V641.5M1226.5 633.5H1228.5V640.5H1226.5Z"/>
<path class="u" d="M1227.5 627.5H1229.5V640.5H1227.5Z"/>
<path class="u" d="M1229.5 618.5V620.5M1228.5 620.5H1230.5V627.5H1228.5Z"/>
<path class="u" d="M1231.5 602.5V605.5M1230.5 605.5H1232.5V620.5H1230.5Z"/>
<path class="u" d="M1233.5 585.5V587.5M1233.5 613.5V620.5M1232.5 587.5H1234.5V613.5H1232.5Z"/>
<path class="u" d="M1234.5 540.5H1236.5V572.5H1234.5Z"/>
<path class="d" d="M1235.5 568.5V571.5M1234.5 540.5H1236.5V568.5H1234.5Z"/>
<path class="d" d="M1237.5 565.5V570.5M1236.5 552.5H1238.5V565.5H1236.5Z"/>
<path class="u" d="M1237.5 558.5H1239.5V565.5H1237.5Z"/>
<path class="d" d="M1239.5 567.5V568.5M1238.5 558.5H1240.5V567.5H1238.5Z"/>
<path class="u" d="M1240.5 562.5V565.5M1240.5 567.5V568.5M1239.5 565.5H1241.5V567.5H1239.5Z"/>
<path class="d" d="M1240.5 565.5H1242.5V566.5H1240.5Z"/>
<path class="u" d="M1242.5 521.5V525.5M1241.5 525.5H1243.5V535.5H1241.5Z"/>
<path class="d" d="M1243.5 533.5H1245.5V540.5H1243.5Z"/>
<path class="u" d="M1244.5 533.5H1246.5V540.5H1244.5Z"/>
<path class="d" d="M1246.5 523.5V533.5M1246.5 547.5V558.5M1245.5 533.5H1247.5V547.5H1245.5Z"/>
<path class="u" d="M1247.5 537.5V538.5M1246.5 538.5H1248.5V547.5H1246.5Z"/>
<path class="d" d="M1248.5 552.5V561.5M1247.5 538.5H1249.5V552.5H1247.5Z"/>
<path class="d" d="M1249.5 553.5V557.5M1248.5 552.5H1250.5V553.5H1248.5Z"/>
<path class="d" d="M1249.5 553.5H1251.5V563.5H1249.5Z"/>
<path class="d" d="M1251.5 555.5V563.5M1251.5 567.5V576.5M1250.5 563.5H1252.5V567.5H1250.5Z"/>
<path class="u" d="M1252.5 549.5V558.5M1252.5 567.5V575.5M1251.5 558.5H1253.5V567.5H1251.5Z"/>
<path class="u" d="M1252.5 567.5H1254.5V570.5H1252.5Z"/>
<path class="u" d="M1254.5 567.5V568.5M1253.5 565.5H1255.5V567.5H1253.5Z"/>
<path class="u" d="M1255.5 543.5V550.5M1254.5 550.5H1256.5V565.5H1254.5Z"/>
<path class="u" d="M1257.5 555.5V559.5M1256.5 545.5H1258.5V555.5H1256.5Z"/>
<path class="u" d="M1258.5 528.5V530.5M1258.5 545.5V553.5M1257.5 530.5H1259.5V545.5H1257.5Z"/>
<path class="d" d="M1259.5 542.5V544.5M1258.5 530.5H1260.5V542.5H1258.5Z"/>
<path class="u" d="M1260.5 522.5V523.5M1259.5 523.5H1261.5V542.5H1259.5Z"/>
<path class="d" d="M1261.5 520.5V523.5M1261.5 573.5V577.5M1260.5 523.5H1262.5V573.5H1260.5Z"/>
<path class="u" d="M1262.5 571.5V573.5M1262.5 573.5V578.5M1261 573.5H1264"/>
<path class="u" d="M1263.5 530.5H1265.5V573.5H1263.5Z"/>
<path class="d" d="M1265.5 527.5V530.5M1264.5 530.5H1266.5V533.5H1264.5Z"/>
<path class="d" d="M1266.5 529.5V533.5M1266.5 540.5V549.5M1265.5 533.5H1267.5V540.5H1265.5Z"/>
<path class="d" d="M1267.5 517.5V519.5M1266.5 515.5H1268.5V517.5H1266.5Z"/>
<path class="u" d="M1269.5 533.5V535.5M1268.5 523.5H1270.5V533.5H1268.5Z"/>
<path class="d" d="M1270.5 530.5V534.5M1269.5 523.5H1271.5V530.5H1269.5Z"/>
<path class="u" d="M1271.5 507.5V523.5M1270.5 523.5H1272.5V530.5H1270.5Z"/>
<path class="d" d="M1272.5 545.5V547.5M1271.5 547.5H1273.5V563.5H1271.5Z"/>
<path class="d" d="M1272.5 563.5H1274.5V580.5H1272.5Z"/>
<path class="u" d="M1273.5 577.5H1275.5V580.5H1273.5Z"/>
<path class="u" d="M1275.5 567.5H1277.5V595.5H1275.5Z"/>
<path class="u" d="M1278.5 565.5V567.5M1277.5 557.5H1279.5V565.5H1277.5Z"/>
<path class="k" d="M1279.5 557.5V561.5M1278.5 547.5H1280.5V557.5H1278.5Z"/>
<path class="d" d="M1280.5 544.5V547.5M1279.5 547.5H1281.5V560.5H1279.5Z"/>
<path class="u" d="M1281.5 526.5V528.5M1280.5 528.5H1282.5V560.5H1280.5Z"/>
<path class="d" d="M1282.5 548.5V553.5M1281.5 528.5H1283.5V548.5H1281.5Z"/>
<path class="d" d="M1284.5 569.5V572.5M1284.5 573.5V579.5M1283.5 572.5H1285.5V573.5H1283.5Z"/>
<path class="u" d="M1286.5 575.5V581.5M1285.5 567.5H1287.5V575.5H1285.5Z"/>
<path class="d" d="M1287.5 577.5V580.5M1286.5 567.5H1288.5V577.5H1286.5Z"/>
<path class="u" d="M1288.5 555.5V560.5M1287.5 560.5H1289.5V577.5H1287.5Z"/>
<path class="d" d="M1289.5 568.5H1291.5V577.5H1289.5Z"/>
<path class="u" d="M1290.5 573.5H1292.5V577.5H1290.5Z"/>
<path class="d" d="M1292.5 565.5V573.5M1291.5 573.5H1293.5V580.5H1291.5Z"/>
<path class="u" d="M1293.5 580.5V581.5M1292.5 577.5H1294.5V580.5H1292.5Z"/>
<path class="d" d="M1293.5 577.5H1295.5V627.5H1293.5Z"/>
<path class="d" d="M1296.5 640.5V644.5M1295.5 627.5H1297.5V640.5H1295.5Z"/>
<path class="d" d="M1296.5 640.5H1298.5V653.5H1296.5Z"/>
<path class="u" d="M1298.5 645.5V647.5M1297.5 647.5H1299.5V653.5H1297.5Z"/>
<path class="u" d="M1299.5 642.5V643.5M1298.5 643.5H1300.5V647.5H1298.5Z"/>
<path class="u" d="M1300.5 637.5H1302.5V645.5H1300.5Z"/>
<path class="d" d="M1302.5 607.5H1304.5V613.5H1302.5Z"/>
<path class="d" d="M1303.5 613.5H1305.5V620.5H1303.5Z"/>
<path class="d" d="M1305.5 623.5V625.5M1304.5 620.5H1306.5V623.5H1304.5Z"/>
<path class="d" d="M1306.5 622.5V623.5M1305.5 623.5H1307.5V625.5H1305.5Z"/>
<path class="d" d="M1307.5 625.5H1309.5V637.5H1307.5Z"/>
<path class="d" d="M1309.5 653.5V658.5M1308.5 637.5H1310.5V653.5H1308.5Z"/>
<path class="u" d="M1309 653.5H1312"/>
<path class="u" d="M1311.5 635.5V637.5M1311.5 653.5V656.5M1310.5 637.5H1312.5V653.5H1310.5Z"/>
<path class="u" d="M1312.5 629.5V630.5M1312.5 637.5V641.5M1311.5 630.5H1313.5V637.5H1311.5Z"/>
<path class="u" d="M1313.5 607.5V618.5M1312.5 618.5H1314.5V630.5H1312.5Z"/>
<path class="d" d="M1314.5 609.5V618.5M1314.5 632.5V634.5M1313.5 618.5H1315.5V632.5H1313.5Z"/>
<path class="d" d="M1316.5 626.5V632.5M1315.5 632.5H1317.5V637.5H1315.5Z"/>
<path class="u" d="M1317.5 627.5V630.5M1316.5 630.5H1318.5V637.5H1316.5Z"/>
<path class="d" d="M1318.5 629.5V630.5M1317.5 630.5H1319.5V640.5H1317.5Z"/>
<path class="d" d="M1319.5 650.5V653.5M1318.5 640.5H1320.5V650.5H1318.5Z"/>
<path class="u" d="M1320.5 639.5V643.5M1319.5 643.5H1321.5V650.5H1319.5Z"/>
<path class="d" d="M1321.5 637.5V643.5M1320.5 643.5H1322.5V652.5H1320.5Z"/>
<path class="u" d="M1322.5 652.5V660.5M1321.5 628.5H1323.5V652.5H1321.5Z"/>
<path class="u" d="M1325.5 605.5V608.5M1324.5 600.5H1326.5V605.5H1324.5Z"/>
<path class="u" d="M1326.5 582.5V587.5M1325.5 587.5H1327.5V600.5H1325.5Z"/>
<path class="d" d="M1327.5 585.5V587.5M1327.5 595.5V600.5M1326.5 587.5H1328.5V595.5H1326.5Z"/>
<path class="u" d="M1328.5 584.5V590.5M1328.5 595.5V603.5M1327.5 590.5H1329.5V595.5H1327.5Z"/>
<path class="d" d="M1329.5 585.5V590.5M1328.5 590.5H1330.5V602.5H1328.5Z"/>
<path class="u" d="M1330.5 602.5V604.5M1329.5 578.5H1331.5V602.5H1329.5Z"/>
<path class="d" d="M1331.5 575.5V578.5M1330.5 578.5H1332.5V582.5H1330.5Z"/>
<path class="u" d="M1333.5 555.5V560.5M1332.5 560.5H1334.5V567.5H1332.5Z"/>
<path class="u" d="M1334.5 560.5V561.5M1333.5 552.5H1335.5V560.5H1333.5Z"/>
<path class="d" d="M1335.5 567.5V576.5M1334.5 552.5H1336.5V567.5H1334.5Z"/>
<path class="d" d="M1336.5 556.5V558.5M1336.5 567.5V570.5M1335.5 558.5H1337.5V567.5H1335.5Z"/>
<path class="d" d="M1336.5 567.5H1338.5V568.5H1336.5Z"/>
<path class="d" d="M1337.5 568.5H1339.5V575.5H1337.5Z"/>
<path class="d" d="M1339.5 572.5V575.5M1338.5 575.5H1340.5V577.5H1338.5Z"/>
<path class="u" d="M1339.5 570.5H1341.5V577.5H1339.5Z"/>
<path class="d" d="M1340.5 570.5H1342.5V577.5H1340.5Z"/>
<path class="d" d="M1342.5 598.5V601.5M1341.5 577.5H1343.5V598.5H1341.5Z"/>
<path class="u" d="M1342 598.5H1345"/>
<path class="d" d="M1344.5 596.5V598.5M1344.5 605.5V611.5M1343.5 598.5H1345.5V605.5H1343.5Z"/>
<path class="d" d="M1345.5 603.5V605.5M1344.5 605.5H1346.5V617.5H1344.5Z"/>
<path class="k" d="M1345.5 605.5H1347.5V617.5H1345.5Z"/>
<path class="d" d="M1347.5 610.5V614.5M1346.5 605.5H1348.5V610.5H1346.5Z"/>
<path class="d" d="M1347.5 610.5H1349.5V620.5H1347.5Z"/>
<path class="u" d="M1348 620.5H1351"/>
<path class="d" d="M1349.5 620.5H1351.5V627.5H1349.5Z"/>
<path class="d" d="M1351.5 618.5V627.5M1351.5 642.5V645.5M1350.5 627.5H1352.5V642.5H1350.5Z"/>
<path class="d" d="M1351.5 642.5H1353.5V645.5H1351.5Z"/>
<path class="u" d="M1353.5 624.5V632.5M1353.5 645.5V650.5M1352.5 632.5H1354.5V645.5H1352.5Z"/>
<path class="u" d="M1354.5 627.5V628.5M1354.5 632.5V636.5M1353.5 628.5H1355.5V632.5H1353.5Z"/>
<path class="d" d="M1354.5 628.5H1356.5V632.5H1354.5Z"/>
<path class="d" d="M1356.5 628.5V632.5M1356.5 633.5V635.5M1355.5 632.5H1357.5V633.5H1355.5Z"/>
<path class="d" d="M1357.5 644.5V647.5M1356.5 647.5H1358.5V650.5H1356.5Z"/>
<path class="u" d="M1359.5 635.5V636.5M1358.5 633.5H1360.5V635.5H1358.5Z"/>
<path class="d" d="M1360.5 633.5H1362.5V637.5H1360.5Z"/>
<path class="u" d="M1362.5 627.5V630.5M1361.5 630.5H1363.5V637.5H1361.5Z"/>
<path class="d" d="M1363.5 629.5V630.5M1363.5 637.5V638.5M1362.5 630.5H1364.5V637.5H1362.5Z"/>
<path class="u" d="M1364.5 637.5V638.5M1363.5 630.5H1365.5V637.5H1363.5Z"/>
<path class="u" d="M1365.5 630.5V631.5M1364.5 627.5H1366.5V630.5H1364.5Z"/>
<path class="d" d="M1365.5 632.5H1367.5V638.5H1365.5Z"/>
<path class="d" d="M1367.5 653.5V655.5M1366.5 648.5H1368.5V653.5H1366.5Z"/>
<path class="u" d="M1368.5 656.5V662.5M1368.5 680.5V681.5M1367.5 662.5H1369.5V680.5H1367.5Z"/>
<path class="u" d="M1369.5 662.5V663.5M1368.5 653.5H1370.5V662.5H1368.5Z"/>
<path class="u" d="M1370.5 638.5V643.5M1369.5 643.5H1371.5V653.5H1369.5Z"/>
<path class="d" d="M1371.5 640.5V643.5M1370.5 643.5H1372.5V652.5H1370.5Z"/>
<path class="d" d="M1372.5 648.5V652.5M1372.5 657.5V659.5M1371.5 652.5H1373.5V657.5H1371.5Z"/>
<path class="d" d="M1374.5 656.5V657.5M1373.5 657.5H1375.5V660.5H1373.5Z"/>
<path class="u" d="M1375.5 656.5V657.5M1375.5 660.5V662.5M1374.5 657.5H1376.5V660.5H1374.5Z"/>
<path class="u" d="M1377.5 638.5V640.5M1376.5 635.5H1378.5V638.5H1376.5Z"/>
<path class="d" d="M1378.5 643.5V645.5M1377.5 630.5H1379.5V643.5H1377.5Z"/>
<path class="u" d="M1378.5 637.5H1380.5V643.5H1378.5Z"/>
<path class="d" d="M1380.5 635.5V637.5M1380.5 643.5V647.5M1379.5 637.5H1381.5V643.5H1379.5Z"/>
<path class="u" d="M1381.5 624.5V628.5M1380.5 628.5H1382.5V643.5H1380.5Z"/>
<path class="d" d="M1382.5 622.5V628.5M1382.5 640.5V641.5M1381.5 628.5H1383.5V640.5H1381.5Z"/>
<path class="d" d="M1385.5 639.5V640.5M1384.5 640.5H1386.5V647.5H1384.5Z"/>
<path class="u" d="M1385.5 640.5H1387.5V647.5H1385.5Z"/>
<path class="d" d="M1387.5 650.5V652.5M1386.5 640.5H1388.5V650.5H1386.5Z"/>
<path class="d" d="M1387.5 650.5H1389.5V653.5H1387.5Z"/>
<path class="u" d="M1389.5 639.5V643.5M1389.5 653.5V657.5M1388.5 643.5H1390.5V653.5H1388.5Z"/>
<path class="d" d="M1390.5 648.5V652.5M1389.5 643.5H1391.5V648.5H1389.5Z"/>
<path class="d" d="M1391.5 647.5V648.5M1390.5 648.5H1392.5V657.5H1390.5Z"/>
<path class="u" d="M1392.5 657.5V662.5M1391.5 655.5H1393.5V657.5H1391.5Z"/>
<path class="d" d="M1392.5 655.5H1394.5V670.5H1392.5Z"/>
<path class="d" d="M1395.5 690.5V697.5M1395.5 728.5V731.5M1394.5 697.5H1396.5V728.5H1394.5Z"/>
<path class="u" d="M1396.5 694.5V697.5M1395.5 697.5H1397.5V713.5H1395.5Z"/>
<path class="u" d="M1397.5 694.5V695.5M1396.5 695.5H1398.5V702.5H1396.5Z"/>
<path class="d" d="M1398.5 694.5V695.5M1397.5 695.5H1399.5V697.5H1397.5Z"/>
<path class="u" d="M1398.5 693.5H1400.5V697.5H1398.5Z"/>
<path class="u" d="M1400.5 691.5V692.5M1399.5 692.5H1401.5V693.5H1399.5Z"/>
<path class="d" d="M1401.5 691.5V692.5M1400.5 692.5H1402.5V700.5H1400.5Z"/>
<path class="k" d="M1402.5 696.5V697.5M1402.5 700.5V701.5M1401.5 697.5H1403.5V700.5H1401.5Z"/>
<path class="u" d="M1404.5 692.5V693.5M1403.5 693.5H1405.5V697.5H1403.5Z"/>
<path class="d" d="M1404.5 693.5H1406.5V695.5H1404.5Z"/>
<path class="d" d="M1406.5 694.5V695.5M1405.5 695.5H1407.5V700.5H1405.5Z"/>
<path class="u" d="M1406.5 698.5H1408.5V700.5H1406.5Z"/>
<path class="u" d="M1408.5 694.5V695.5M1407.5 695.5H1409.5V698.5H1407.5Z"/>
<path class="k" d="M1410.5 697.5V699.5M1409.5 685.5H1411.5V697.5H1409.5Z"/>
<path class="d" d="M1412.5 657.5V658.5M1412.5 678.5V682.5M1411.5 658.5H1413.5V678.5H1411.5Z"/>
<path class="u" d="M1412.5 673.5V676.5M1411.5 668.5H1413.5V673.5H1411.5Z"/>
<path class="d" d="M1414.5 677.5V678.5M1413.5 670.5H1415.5V677.5H1413.5Z"/>
<path class="d" d="M1416.5 675.5V678.5M1415.5 678.5H1417.5V685.5H1415.5Z"/>
<path class="u" d="M1417.5 683.5V685.5M1416 685.5H1419"/>
<path class="d" d="M1417.5 685.5H1419.5V688.5H1417.5Z"/>
<path class="d" d="M1419.5 690.5V693.5M1418.5 688.5H1420.5V690.5H1418.5Z"/>
<path class="d" d="M1420.5 698.5V701.5M1419.5 690.5H1421.5V698.5H1419.5Z"/>
<path class="u" d="M1420.5 697.5H1422.5V698.5H1420.5Z"/>
<path class="u" d="M1422.5 691.5V693.5M1421.5 693.5H1423.5V697.5H1421.5Z"/>
<path class="d" d="M1423.5 691.5V693.5M1422.5 693.5H1424.5V698.5H1422.5Z"/>
<path class="d" d="M1424.5 698.5H1426.5V708.5H1424.5Z"/>
<path class="u" d="M1426.5 695.5V696.5M1425.5 693.5H1427.5V695.5H1425.5Z"/>
<path class="u" d="M1428.5 695.5V696.5M1427.5 692.5H1429.5V695.5H1427.5Z"/>
<path class="u" d="M1429.5 687.5V688.5M1429.5 692.5V693.5M1428.5 688.5H1430.5V692.5H1428.5Z"/>
<path class="u" d="M1431.5 670.5V680.5M1430.5 680.5H1432.5V688.5H1430.5Z"/>
<path class="d" d="M1432.5 678.5V680.5M1432.5 690.5V691.5M1431.5 680.5H1433.5V690.5H1431.5Z"/>
<path class="d" d="M1432.5 690.5H1434.5V692.5H1432.5Z"/>
<path class="u" d="M1435.5 677.5V683.5M1434.5 683.5H1436.5V692.5H1434.5Z"/>
<path class="u" d="M1435.5 682.5H1437.5V683.5H1435.5Z"/>
<path class="u" d="M1437.5 682.5V684.5M1436.5 678.5H1438.5V682.5H1436.5Z"/>
<path class="u" d="M1438.5 675.5H1440.5V678.5H1438.5Z"/>
<path class="u" d="M1440.5 680.5V683.5M1439.5 673.5H1441.5V680.5H1439.5Z"/>
<path class="u" d="M1440.5 667.5H1442.5V673.5H1440.5Z"/>
<path class="u" d="M1441.5 658.5H1443.5V667.5H1441.5Z"/>
<path class="d" d="M1444.5 668.5V675.5M1443.5 662.5H1445.5V668.5H1443.5Z"/>
<path class="d" d="M1445.5 667.5H1447.5V680.5H1445.5Z"/>
<path class="d" d="M1448.5 676.5V680.5M1447.5 680.5H1449.5V693.5H1447.5Z"/>
<path class="u" d="M1448.5 688.5H1450.5V693.5H1448.5Z"/>
<path class="u" d="M1450.5 688.5V689.5M1449.5 685.5H1451.5V688.5H1449.5Z"/>
<path class="u" d="M1451.5 673.5V675.5M1450.5 675.5H1452.5V685.5H1450.5Z"/>
<path class="d" d="M1451.5 675.5H1453.5V687.5H1451.5Z"/>
<path class="d" d="M1454.5 684.5V687.5M1453.5 687.5H1455.5V692.5H1453.5Z"/>
<path class="u" d="M1454.5 687.5H1456.5V692.5H1454.5Z"/>
<path class="d" d="M1455.5 687.5H1457.5V695.5H1455.5Z"/>
<path class="u" d="M1457.5 683.5V687.5M1456.5 687.5H1458.5V695.5H1456.5Z"/>
<path class="u" d="M1458.5 680.5V682.5M1457.5 682.5H1459.5V687.5H1457.5Z"/>
<path class="u" d="M1458.5 678.5H1460.5V682.5H1458.5Z"/>
<path class="d" d="M1459.5 678.5H1461.5V683.5H1459.5Z"/>
<path class="u" d="M1462.5 678.5V680.5M1462.5 685.5V687.5M1461.5 680.5H1463.5V685.5H1461.5Z"/>
<path class="u" d="M1463.5 670.5V673.5M1462.5 673.5H1464.5V680.5H1462.5Z"/>
<path class="d" d="M1464.5 669.5V673.5M1464.5 678.5V679.5M1463.5 673.5H1465.5V678.5H1463.5Z"/>
<path class="u" d="M1465.5 667.5V672.5M1464.5 672.5H1466.5V678.5H1464.5Z"/>
<path class="u" d="M1465.5 668.5H1467.5V672.5H1465.5Z"/>
<path class="d" d="M1468.5 669.5V670.5M1468.5 680.5V683.5M1467.5 670.5H1469.5V680.5H1467.5Z"/>
<path class="d" d="M1469.5 679.5V680.5M1468.5 680.5H1470.5V687.5H1468.5Z"/>
<path class="u" d="M1469.5 685.5H1471.5V687.5H1469.5Z"/>
<path class="u" d="M1471.5 665.5V673.5M1470.5 673.5H1472.5V685.5H1470.5Z"/>
<path class="u" d="M1471.5 670.5H1473.5V673.5H1471.5Z"/>
<path class="d" d="M1472.5 670.5H1474.5V678.5H1472.5Z"/>
<path class="u" d="M1473.5 663.5H1475.5V678.5H1473.5Z"/>
<path class="d" d="M1475.5 662.5V663.5M1475.5 670.5V672.5M1474.5 663.5H1476.5V670.5H1474.5Z"/>
<path class="d" d="M1476.5 664.5V670.5M1475.5 670.5H1477.5V680.5H1475.5Z"/>
<path class="d" d="M1476.5 687.5V688.5M1475.5 688.5H1477.5V695.5H1475.5Z"/>
<path class="u" d="M1477.5 670.5H1479.5V672.5H1477.5Z"/>
<path class="u" d="M1480.5 651.5V653.5M1479.5 653.5H1481.5V660.5H1479.5Z"/>
<path class="u" d="M1481.5 639.5V642.5M1480.5 642.5H1482.5V653.5H1480.5Z"/>
<path class="u" d="M1482.5 632.5V637.5M1481.5 623.5H1483.5V632.5H1481.5Z"/>
<path class="d" d="M1484.5 640.5V641.5M1483.5 623.5H1485.5V640.5H1483.5Z"/>
<path class="d" d="M1485.5 642.5V644.5M1484.5 640.5H1486.5V642.5H1484.5Z"/>
<path class="d" d="M1486.5 653.5V658.5M1485.5 642.5H1487.5V653.5H1485.5Z"/>
<path class="u" d="M1487.5 640.5H1489.5V647.5H1487.5Z"/>
<path class="u" d="M1488.5 607.5H1490.5V630.5H1488.5Z"/>
<path class="d" d="M1490.5 606.5V607.5M1489.5 607.5H1491.5V618.5H1489.5Z"/>
<path class="d" d="M1491.5 630.5V632.5M1490.5 620.5H1492.5V630.5H1490.5Z"/>
<path class="u" d="M1491.5 608.5H1493.5V630.5H1491.5Z"/>
<path class="d" d="M1494.5 603.5V608.5M1493.5 608.5H1495.5V615.5H1493.5Z"/>
<path class="d" d="M1496.5 549.5V555.5M1495.5 555.5H1497.5V572.5H1495.5Z"/>
<path class="d" d="M1497.5 571.5V577.5M1496.5 577.5H1498.5V595.5H1496.5Z"/>
<path class="u" d="M1497.5 575.5H1499.5V595.5H1497.5Z"/>
<path class="u" d="M1499.5 575.5V576.5M1498.5 565.5H1500.5V575.5H1498.5Z"/>
<path class="u" d="M1500.5 465.5H1502.5V557.5H1500.5Z"/>
<path class="u" d="M1502.5 457.5V462.5M1501.5 433.5H1503.5V457.5H1501.5Z"/>
<path class="d" d="M1502.5 433.5H1504.5V440.5H1502.5Z"/>
<path class="d" d="M1504.5 446.5V453.5M1504.5 467.5V479.5M1503.5 453.5H1505.5V467.5H1503.5Z"/>
<path class="u" d="M1505.5 421.5V423.5M1504.5 423.5H1506.5V467.5H1504.5Z"/>
<path class="d" d="M1506.5 422.5V423.5M1506.5 487.5V490.5M1505.5 423.5H1507.5V487.5H1505.5Z"/>
<path class="u" d="M1507.5 461.5V473.5M1507.5 487.5V490.5M1506.5 473.5H1508.5V487.5H1506.5Z"/>
<path class="u" d="M1508.5 467.5V470.5M1508.5 473.5V475.5M1507.5 470.5H1509.5V473.5H1507.5Z"/>
<path class="d" d="M1510.5 464.5V470.5M1510.5 525.5V530.5M1509.5 470.5H1511.5V525.5H1509.5Z"/>
<path class="u" d="M1510.5 506.5V510.5M1510.5 525.5V526.5M1509.5 510.5H1511.5V525.5H1509.5Z"/>
<path class="d" d="M1511.5 415.5V419.5M1510.5 412.5H1512.5V415.5H1510.5Z"/>
<path class="d" d="M1512.5 403.5V414.5M1511.5 372.5H1513.5V403.5H1511.5Z"/>
<path class="u" d="M1514.5 364.5V372.5M1513.5 372.5H1515.5V400.5H1513.5Z"/>
<path class="d" d="M1514.5 398.5H1516.5V410.5H1514.5Z"/>
<path class="d" d="M1515.5 418.5H1517.5V437.5H1515.5Z"/>
<path class="d" d="M1518.5 435.5V447.5M1518.5 503.5V515.5M1517.5 447.5H1519.5V503.5H1517.5Z"/>
<path class="u" d="M1519.5 474.5V478.5M1518.5 478.5H1520.5V503.5H1518.5Z"/>
<path class="d" d="M1519.5 478.5H1521.5V497.5H1519.5Z"/>
<path class="u" d="M1521.5 470.5V472.5M1520.5 455.5H1522.5V470.5H1520.5Z"/>
<path class="d" d="M1522.5 483.5H1524.5V490.5H1522.5Z"/>
<path class="d" d="M1524.5 517.5H1526.5V532.5H1524.5Z"/>
<path class="u" d="M1526.5 503.5V506.5M1525.5 475.5H1527.5V503.5H1525.5Z"/>
<path class="d" d="M1528.5 472.5V475.5M1527.5 463.5H1529.5V472.5H1527.5Z"/>
<path class="d" d="M1528.5 470.5H1530.5V513.5H1528.5Z"/>
<path class="d" d="M1530.5 530.5H1532.5V547.5H1530.5Z"/>
<path class="u" d="M1532.5 525.5V532.5M1531.5 532.5H1533.5V540.5H1531.5Z"/>
<path class="d" d="M1534.5 567.5V576.5M1533.5 540.5H1535.5V567.5H1533.5Z"/>
<path class="u" d="M1535.5 555.5V560.5M1535.5 567.5V570.5M1534.5 560.5H1536.5V567.5H1534.5Z"/>
<path class="u" d="M1535.5 508.5H1537.5V543.5H1535.5Z"/>
<path class="u" d="M1537.5 508.5V515.5M1536.5 477.5H1538.5V508.5H1536.5Z"/>
<path class="u" d="M1539.5 439.5V447.5M1538.5 447.5H1540.5V473.5H1538.5Z"/>
<path class="u" d="M1540.5 422.5H1542.5V467.5H1540.5Z"/>
<path class="d" d="M1541.5 428.5V431.5M1540.5 422.5H1542.5V428.5H1540.5Z"/>
<path class="d" d="M1542.5 447.5V453.5M1541.5 435.5H1543.5V447.5H1541.5Z"/>
<path class="d" d="M1544.5 460.5V469.5M1543.5 447.5H1545.5V460.5H1543.5Z"/>
<path class="u" d="M1544.5 443.5H1546.5V450.5H1544.5Z"/>
<path class="d" d="M1545.5 473.5H1547.5V497.5H1545.5Z"/>
<path class="u" d="M1546.5 483.5H1548.5V497.5H1546.5Z"/>
<path class="d" d="M1547.5 463.5H1549.5V487.5H1547.5Z"/>
<path class="d" d="M1550.5 465.5V467.5M1549.5 458.5H1551.5V465.5H1549.5Z"/>
<path class="u" d="M1551.5 463.5V475.5M1550.5 437.5H1552.5V463.5H1550.5Z"/>
<path class="u" d="M1553.5 496.5V508.5M1553.5 580.5V592.5M1552.5 508.5H1554.5V580.5H1552.5Z"/>
<path class="d" d="M1553.5 508.5H1555.5V515.5H1553.5Z"/>
<path class="d" d="M1554.5 522.5H1556.5V533.5H1554.5Z"/>
<path class="d" d="M1556.5 538.5V540.5M1555.5 540.5H1557.5V553.5H1555.5Z"/>
<path class="u" d="M1557.5 541.5V543.5M1557.5 553.5V557.5M1556.5 543.5H1558.5V553.5H1556.5Z"/>
<path class="d" d="M1557.5 543.5H1559.5V560.5H1557.5Z"/>
<path class="u" d="M1559.5 547.5V548.5M1558.5 548.5H1560.5V560.5H1558.5Z"/>
<path class="d" d="M1560.5 562.5V563.5M1559.5 548.5H1561.5V562.5H1559.5Z"/>
<path class="u" d="M1561.5 551.5V553.5M1560.5 553.5H1562.5V562.5H1560.5Z"/>
<path class="d" d="M1562.5 550.5V553.5M1562.5 563.5V569.5M1561.5 553.5H1563.5V563.5H1561.5Z"/>
<path class="u" d="M1564.5 553.5V558.5M1563.5 542.5H1565.5V553.5H1563.5Z"/>
<path class="d" d="M1566.5 577.5V585.5M1565.5 557.5H1567.5V577.5H1565.5Z"/>
<path class="k" d="M1567.5 577.5V581.5M1566.5 567.5H1568.5V577.5H1566.5Z"/>
<path class="d" d="M1567.5 567.5H1569.5V573.5H1567.5Z"/>
<path class="u" d="M1568.5 567.5H1570.5V573.5H1568.5Z"/>
<path class="d" d="M1570.5 560.5V567.5M1569.5 567.5H1571.5V580.5H1569.5Z"/>
<path class="d" d="M1570.5 588.5H1572.5V600.5H1570.5Z"/>
<path class="d" d="M1571.5 600.5H1573.5V613.5H1571.5Z"/>
<path class="d" d="M1574.5 612.5V613.5M1573.5 613.5H1575.5V623.5H1573.5Z"/>
<path class="u" d="M1575.5 611.5V617.5M1574.5 617.5H1576.5V623.5H1574.5Z"/>
<path class="d" d="M1576.5 615.5V617.5M1576.5 633.5V635.5M1575.5 617.5H1577.5V633.5H1575.5Z"/>
<path class="u" d="M1577.5 619.5V623.5M1576.5 623.5H1578.5V640.5H1576.5Z"/>
<path class="d" d="M1579.5 579.5V588.5M1579.5 630.5V631.5M1578.5 588.5H1580.5V630.5H1578.5Z"/>
<path class="d" d="M1581.5 581.5V583.5M1580.5 583.5H1582.5V590.5H1580.5Z"/>
<path class="u" d="M1581.5 578.5H1583.5V597.5H1581.5Z"/>
<path class="d" d="M1581.5 578.5H1583.5V587.5H1581.5Z"/>
<path class="d" d="M1583.5 633.5H1585.5V656.5H1583.5Z"/>
<path class="d" d="M1585.5 673.5V674.5M1584.5 656.5H1586.5V673.5H1584.5Z"/>
<path class="u" d="M1585.5 637.5H1587.5V673.5H1585.5Z"/>
<path class="u" d="M1587.5 630.5H1589.5V637.5H1587.5Z"/>
<path class="d" d="M1589.5 627.5V630.5M1588.5 630.5H1590.5V640.5H1588.5Z"/>
<path class="u" d="M1590.5 629.5V633.5M1590.5 640.5V641.5M1589.5 633.5H1591.5V640.5H1589.5Z"/>
<path class="d" d="M1590.5 633.5H1592.5V640.5H1590.5Z"/>
<path class="u" d="M1592.5 623.5V627.5M1592.5 640.5V642.5M1591.5 627.5H1593.5V640.5H1591.5Z"/>
<path class="d" d="M1594.5 637.5V638.5M1593.5 627.5H1595.5V637.5H1593.5Z"/>
<path class="u" d="M1594.5 623.5H1596.5V637.5H1594.5Z"/>
<path class="u" d="M1596.5 623.5V624.5M1595.5 613.5H1597.5V623.5H1595.5Z"/>
<path class="d" d="M1597.5 612.5V613.5M1596.5 613.5H1598.5V617.5H1596.5Z"/>
<path class="u" d="M1597.5 610.5H1599.5V617.5H1597.5Z"/>
<path class="d" d="M1599.5 607.5H1601.5V620.5H1599.5Z"/>
<path class="d" d="M1600.5 622.5H1602.5V633.5H1600.5Z"/>
<path class="u" d="M1602.5 633.5V634.5M1601 633.5H1604"/>
<path class="d" d="M1603.5 633.5H1605.5V648.5H1603.5Z"/>
<path class="u" d="M1605.5 648.5V652.5M1604 648.5H1607"/>
<path class="d" d="M1606.5 645.5V648.5M1606.5 660.5V666.5M1605.5 648.5H1607.5V660.5H1605.5Z"/>
<path class="d" d="M1606.5 645.5V648.5M1606.5 660.5V663.5M1605.5 648.5H1607.5V660.5H1605.5Z"/>
<path class="d" d="M1608.5 654.5V660.5M1608.5 673.5V679.5M1607.5 660.5H1609.5V673.5H1607.5Z"/>
<path class="d" d="M1608.5 673.5H1610.5V695.5H1608.5Z"/>
<path class="u" d="M1610.5 680.5V687.5M1610.5 695.5V696.5M1609.5 687.5H1611.5V695.5H1609.5Z"/>
<path class="u" d="M1611.5 659.5V660.5M1611.5 687.5V693.5M1610.5 660.5H1612.5V687.5H1610.5Z"/>
<path class="d" d="M1613.5 658.5V660.5M1612.5 660.5H1614.5V667.5H1612.5Z"/>
<path class="u" d="M1614.5 661.5V662.5M1614.5 667.5V669.5M1613.5 662.5H1615.5V667.5H1613.5Z"/>
<path class="u" d="M1615.5 645.5V650.5M1614.5 650.5H1616.5V662.5H1614.5Z"/>
<path class="d" d="M1616.5 655.5V659.5M1615.5 650.5H1617.5V655.5H1615.5Z"/>
<path class="d" d="M1617.5 667.5V672.5M1616.5 660.5H1618.5V667.5H1616.5Z"/>
<path class="u" d="M1618.5 656.5V658.5M1617.5 658.5H1619.5V667.5H1617.5Z"/>
<path class="d" d="M1618.5 658.5H1620.5V665.5H1618.5Z"/>
<path class="u" d="M1619.5 637.5H1621.5V650.5H1619.5Z"/>
<path class="u" d="M1621.5 611.5V620.5M1620.5 620.5H1622.5V630.5H1620.5Z"/>
<path class="u" d="M1622.5 616.5V620.5M1622.5 620.5V622.5M1621 620.5H1624"/>
<path class="d" d="M1623.5 620.5H1625.5V623.5H1623.5Z"/>
<path class="u" d="M1624.5 618.5H1626.5V623.5H1624.5Z"/>
<path class="d" d="M1626.5 617.5V618.5M1626.5 622.5V627.5M1625.5 618.5H1627.5V622.5H1625.5Z"/>
<path class="d" d="M1626.5 622.5H1628.5V623.5H1626.5Z"/>
<path class="d" d="M1627.5 623.5H1629.5V633.5H1627.5Z"/>
<path class="d" d="M1629.5 635.5V636.5M1628.5 633.5H1630.5V635.5H1628.5Z"/>
<path class="d" d="M1630.5 642.5V649.5M1629.5 635.5H1631.5V642.5H1629.5Z"/>
<path class="d" d="M1631.5 640.5H1633.5V647.5H1631.5Z"/>
<path class="u" d="M1633.5 608.5H1635.5V630.5H1633.5Z"/>
<path class="u" d="M1634.5 603.5H1636.5V605.5H1634.5Z"/>
<path class="d" d="M1637.5 569.5V575.5M1637.5 587.5V589.5M1636.5 575.5H1638.5V587.5H1636.5Z"/>
<path class="d" d="M1639.5 579.5V587.5M1638.5 587.5H1640.5V597.5H1638.5Z"/>
<path class="u" d="M1639.5 592.5H1641.5V597.5H1639.5Z"/>
<path class="d" d="M1641.5 587.5V592.5M1641.5 600.5V604.5M1640.5 592.5H1642.5V600.5H1640.5Z"/>
<path class="d" d="M1642.5 590.5V600.5M1641.5 600.5H1643.5V617.5H1641.5Z"/>
<path class="u" d="M1643.5 591.5V600.5M1643.5 617.5V618.5M1642.5 600.5H1644.5V617.5H1642.5Z"/>
<path class="u" d="M1644.5 600.5V607.5M1643.5 597.5H1645.5V600.5H1643.5Z"/>
<path class="d" d="M1645.5 594.5V597.5M1645.5 607.5V613.5M1644.5 597.5H1646.5V607.5H1644.5Z"/>
<path class="u" d="M1646.5 585.5H1648.5V607.5H1646.5Z"/>
<path class="d" d="M1648.5 600.5V602.5M1647.5 585.5H1649.5V600.5H1647.5Z"/>
<path class="d" d="M1648.5 600.5H1650.5V603.5H1648.5Z"/>
<path class="d" d="M1650.5 612.5V613.5M1649.5 603.5H1651.5V612.5H1649.5Z"/>
<path class="d" d="M1651.5 607.5V612.5M1650.5 612.5H1652.5V625.5H1650.5Z"/>
<path class="d" d="M1651.5 625.5H1653.5V630.5H1651.5Z"/>
<path class="d" d="M1653.5 632.5H1655.5V640.5H1653.5Z"/>
<path class="u" d="M1655.5 626.5V630.5M1654.5 630.5H1656.5V640.5H1654.5Z"/>
<path class="d" d="M1656.5 640.5V642.5M1655.5 630.5H1657.5V640.5H1655.5Z"/>
<path class="d" d="M1658.5 637.5V638.5M1657.5 638.5H1659.5V650.5H1657.5Z"/>
<path class="u" d="M1659.5 625.5V627.5M1659.5 650.5V655.5M1658.5 627.5H1660.5V650.5H1658.5Z"/>
<path class="u" d="M1661.5 602.5V613.5M1660.5 613.5H1662.5V627.5H1660.5Z"/>
<path class="d" d="M1661.5 625.5H1663.5V632.5H1661.5Z"/>
<path class="d" d="M1662.5 632.5H1664.5V650.5H1662.5Z"/>
<path class="u" d="M1665.5 650.5V654.5M1664.5 637.5H1666.5V650.5H1664.5Z"/>
<path class="d" d="M1666.5 636.5V637.5M1666.5 648.5V649.5M1665.5 637.5H1667.5V648.5H1665.5Z"/>
<path class="d" d="M1666.5 648.5H1668.5V650.5H1666.5Z"/>
<path class="u" d="M1667 650.5H1670"/>
<path class="d" d="M1668.5 650.5H1670.5V660.5H1668.5Z"/>
<path class="u" d="M1670.5 660.5V661.5M1669.5 653.5H1671.5V660.5H1669.5Z"/>
<path class="u" d="M1671.5 653.5V656.5M1670.5 647.5H1672.5V653.5H1670.5Z"/>
<path class="u" d="M1671.5 668.5H1673.5V673.5H1671.5Z"/>
<path class="u" d="M1673.5 638.5V645.5M1672.5 645.5H1674.5V668.5H1672.5Z"/>
<path class="d" d="M1674.5 652.5V653.5M1673.5 645.5H1675.5V652.5H1673.5Z"/>
<path class="k" d="M1674.5 647.5H1676.5V652.5H1674.5Z"/>
<path class="d" d="M1676.5 653.5V654.5M1675.5 647.5H1677.5V653.5H1675.5Z"/>
<path class="u" d="M1679.5 646.5V648.5M1679.5 652.5V654.5M1678.5 648.5H1680.5V652.5H1678.5Z"/>
<path class="u" d="M1680.5 641.5V648.5M1679 648.5H1682"/>
<path class="u" d="M1680.5 640.5H1682.5V648.5H1680.5Z"/>
<path class="d" d="M1681.5 640.5H1683.5V643.5H1681.5Z"/>
<path class="d" d="M1682.5 643.5H1684.5V652.5H1682.5Z"/>
<path class="u" d="M1684.5 642.5V647.5M1683.5 647.5H1685.5V652.5H1683.5Z"/>
<path class="u" d="M1684.5 638.5H1686.5V647.5H1684.5Z"/>
<path class="u" d="M1687.5 629.5V630.5M1686.5 630.5H1688.5V637.5H1686.5Z"/>
<path class="u" d="M1688.5 630.5V633.5M1687.5 625.5H1689.5V630.5H1687.5Z"/>
<path class="u" d="M1689.5 607.5H1691.5V613.5H1689.5Z"/>
<path class="d" d="M1691.5 595.5V598.5M1690.5 598.5H1692.5V607.5H1690.5Z"/>
<path class="u" d="M1692.5 593.5V597.5M1692.5 613.5V616.5M1691.5 597.5H1693.5V613.5H1691.5Z"/>
<path class="u" d="M1693.5 582.5H1695.5V595.5H1693.5Z"/>
<path class="d" d="M1696.5 572.5V574.5M1695.5 563.5H1697.5V572.5H1695.5Z"/>
<path class="d" d="M1697.5 548.5V550.5M1696.5 535.5H1698.5V548.5H1696.5Z"/>
<path class="d" d="M1698.5 543.5H1700.5V563.5H1698.5Z"/>
<path class="d" d="M1700.5 567.5V569.5M1699.5 563.5H1701.5V567.5H1699.5Z"/>
<path class="d" d="M1701.5 563.5V567.5M1701.5 577.5V586.5M1700.5 567.5H1702.5V577.5H1700.5Z"/>
<path class="u" d="M1701.5 547.5H1703.5V577.5H1701.5Z"/>
<path class="d" d="M1703.5 567.5V568.5M1702.5 547.5H1704.5V567.5H1702.5Z"/>
<path class="d" d="M1705.5 567.5V568.5M1704.5 568.5H1706.5V582.5H1704.5Z"/>
<path class="d" d="M1707.5 585.5V586.5M1706.5 582.5H1708.5V585.5H1706.5Z"/>
<path class="d" d="M1708.5 598.5V599.5M1707.5 588.5H1709.5V598.5H1707.5Z"/>
<path class="u" d="M1709.5 597.5H1711.5V600.5H1709.5Z"/>
<path class="u" d="M1711.5 597.5V599.5M1710.5 592.5H1712.5V597.5H1710.5Z"/>
<path class="u" d="M1712.5 565.5V568.5M1711.5 568.5H1713.5V592.5H1711.5Z"/>
<path class="u" d="M1714.5 555.5V562.5M1713.5 540.5H1715.5V555.5H1713.5Z"/>
<path class="u" d="M1715.5 493.5V500.5M1715.5 517.5V518.5M1714.5 500.5H1716.5V517.5H1714.5Z"/>
<path class="u" d="M1716.5 461.5V468.5M1715.5 468.5H1717.5V500.5H1715.5Z"/>
<path class="d" d="M1717.5 467.5V468.5M1716.5 468.5H1718.5V480.5H1716.5Z"/>
<path class="u" d="M1718.5 512.5V513.5M1717.5 488.5H1719.5V512.5H1717.5Z"/>
<path class="u" d="M1720.5 438.5V442.5M1720.5 465.5V466.5M1719.5 442.5H1721.5V465.5H1719.5Z"/>
<path class="d" d="M1721.5 475.5V482.5M1720.5 442.5H1722.5V475.5H1720.5Z"/>
<path class="u" d="M1722.5 464.5V468.5M1722.5 475.5V478.5M1721.5 468.5H1723.5V475.5H1721.5Z"/>
<path class="d" d="M1724.5 435.5V437.5M1724.5 453.5V465.5M1723.5 437.5H1725.5V453.5H1723.5Z"/>
<path class="u" d="M1725.5 412.5V418.5M1724.5 418.5H1726.5V433.5H1724.5Z"/>
<path class="d" d="M1726.5 463.5V467.5M1725.5 435.5H1727.5V463.5H1725.5Z"/>
<path class="d" d="M1726.5 463.5H1728.5V483.5H1726.5Z"/>
<path class="u" d="M1727.5 455.5H1729.5V483.5H1727.5Z"/>
<path class="d" d="M1729.5 446.5V455.5M1728.5 455.5H1730.5V475.5H1728.5Z"/>
<path class="u" d="M1730.5 475.5V483.5M1729.5 442.5H1731.5V475.5H1729.5Z"/>
<path class="d" d="M1732.5 456.5V467.5M1732.5 480.5V481.5M1731.5 467.5H1733.5V480.5H1731.5Z"/>
<path class="d" d="M1734.5 470.5V482.5M1733.5 482.5H1735.5V490.5H1733.5Z"/>
<path class="d" d="M1735.5 486.5V490.5M1735.5 493.5V495.5M1734.5 490.5H1736.5V493.5H1734.5Z"/>
<path class="u" d="M1736.5 493.5V505.5M1735.5 480.5H1737.5V493.5H1735.5Z"/>
<path class="d" d="M1737.5 468.5V480.5M1737.5 498.5V508.5M1736.5 480.5H1738.5V498.5H1736.5Z"/>
<path class="u" d="M1738.5 498.5V499.5M1737.5 487.5H1739.5V498.5H1737.5Z"/>
<path class="u" d="M1739.5 487.5V493.5M1738.5 478.5H1740.5V487.5H1738.5Z"/>
<path class="d" d="M1740.5 472.5V478.5M1740.5 483.5V488.5M1739.5 478.5H1741.5V483.5H1739.5Z"/>
<path class="u" d="M1740.5 473.5H1742.5V483.5H1740.5Z"/>
<path class="d" d="M1743.5 477.5V479.5M1742.5 472.5H1744.5V477.5H1742.5Z"/>
<path class="u" d="M1744.5 449.5V452.5M1743.5 452.5H1745.5V462.5H1743.5Z"/>
<path class="d" d="M1745.5 463.5V464.5M1744.5 452.5H1746.5V463.5H1744.5Z"/>
<path class="d" d="M1746.5 462.5V463.5M1746.5 483.5V487.5M1745.5 463.5H1747.5V483.5H1745.5Z"/>
<path class="u" d="M1748.5 482.5V491.5M1747.5 468.5H1749.5V482.5H1747.5Z"/>
<path class="u" d="M1750.5 468.5V472.5M1749.5 460.5H1751.5V468.5H1749.5Z"/>
<path class="d" d="M1751.5 458.5V460.5M1750.5 460.5H1752.5V480.5H1750.5Z"/>
<path class="d" d="M1752.5 515.5V523.5M1751.5 500.5H1753.5V515.5H1751.5Z"/>
<path class="u" d="M1752.5 513.5H1754.5V515.5H1752.5Z"/>
<path class="u" d="M1754.5 513.5V515.5M1753.5 507.5H1755.5V513.5H1753.5Z"/>
<path class="d" d="M1755.5 495.5V507.5M1755.5 515.5V519.5M1754.5 507.5H1756.5V515.5H1754.5Z"/>
<path class="d" d="M1756.5 507.5V515.5M1756.5 535.5V541.5M1755.5 515.5H1757.5V535.5H1755.5Z"/>
<path class="u" d="M1757.5 521.5V528.5M1756.5 528.5H1758.5V535.5H1756.5Z"/>
<path class="u" d="M1758.5 504.5V510.5M1757.5 510.5H1759.5V517.5H1757.5Z"/>
<path class="u" d="M1760.5 491.5V493.5M1760.5 512.5V523.5M1759.5 493.5H1761.5V512.5H1759.5Z"/>
<path class="u" d="M1761.5 486.5V493.5M1760 493.5H1763"/>
<path class="u" d="M1761.5 485.5H1763.5V493.5H1761.5Z"/>
<path class="d" d="M1763.5 480.5H1765.5V495.5H1763.5Z"/>
<path class="u" d="M1765.5 475.5V478.5M1765.5 495.5V502.5M1764.5 478.5H1766.5V495.5H1764.5Z"/>
<path class="d" d="M1765.5 478.5H1767.5V500.5H1765.5Z"/>
<path class="u" d="M1767.5 489.5V493.5M1766.5 493.5H1768.5V497.5H1766.5Z"/>
<path class="d" d="M1769.5 485.5V497.5M1769.5 525.5V530.5M1768.5 497.5H1770.5V525.5H1768.5Z"/>
<path class="k" d="M1771.5 536.5V537.5M1770.5 537.5H1772.5V545.5H1770.5Z"/>
<path class="d" d="M1772.5 563.5V568.5M1771.5 545.5H1773.5V563.5H1771.5Z"/>
<path class="d" d="M1773.5 557.5H1775.5V578.5H1773.5Z"/>
<path class="d" d="M1775.5 567.5H1777.5V603.5H1775.5Z"/>
<path class="u" d="M1776.5 603.5V604.5M1775.5 597.5H1777.5V603.5H1775.5Z"/>
<path class="u" d="M1776.5 555.5H1778.5V577.5H1776.5Z"/>
<path class="d" d="M1778.5 577.5H1780.5V582.5H1778.5Z"/>
<path class="k" d="M1780.5 577.5V582.5M1779 582.5H1782"/>
<path class="u" d="M1781.5 582.5V583.5M1780.5 577.5H1782.5V582.5H1780.5Z"/>
<path class="u" d="M1782.5 549.5V553.5M1782.5 577.5V586.5M1781.5 553.5H1783.5V577.5H1781.5Z"/>
<path class="d" d="M1783.5 552.5V553.5M1782.5 553.5H1784.5V563.5H1782.5Z"/>
<path class="d" d="M1785.5 573.5V577.5M1784.5 563.5H1786.5V573.5H1784.5Z"/>
<path class="u" d="M1786.5 555.5V563.5M1786.5 582.5V585.5M1785.5 563.5H1787.5V582.5H1785.5Z"/>
<path class="d" d="M1788.5 597.5V604.5M1787.5 577.5H1789.5V597.5H1787.5Z"/>
<path class="d" d="M1788.5 597.5H1790.5V600.5H1788.5Z"/>
<path class="d" d="M1790.5 589.5V600.5M1790.5 617.5V622.5M1789.5 600.5H1791.5V617.5H1789.5Z"/>
<path class="d" d="M1791.5 602.5V613.5M1791.5 635.5V638.5M1790.5 613.5H1792.5V635.5H1790.5Z"/>
<path class="u" d="M1792.5 635.5V638.5M1791.5 627.5H1793.5V635.5H1791.5Z"/>
<path class="u" d="M1793.5 591.5V600.5M1793.5 627.5V628.5M1792.5 600.5H1794.5V627.5H1792.5Z"/>
<path class="u" d="M1794.5 598.5V600.5M1794.5 600.5V601.5M1793 600.5H1796"/>
<path class="d" d="M1794.5 600.5H1796.5V608.5H1794.5Z"/>
<path class="d" d="M1797.5 613.5V614.5M1796.5 593.5H1798.5V613.5H1796.5Z"/>
<path class="d" d="M1799.5 630.5V633.5M1798.5 608.5H1800.5V630.5H1798.5Z"/>
<path class="d" d="M1800.5 625.5V628.5M1799.5 628.5H1801.5V633.5H1799.5Z"/>
<path class="d" d="M1802.5 626.5V633.5M1801.5 633.5H1803.5V647.5H1801.5Z"/>
<path class="k" d="M1803.5 640.5H1805.5V648.5H1803.5Z"/>
<path class="d" d="M1804.5 638.5H1806.5V653.5H1804.5Z"/>
<path class="d" d="M1806.5 655.5H1808.5V667.5H1806.5Z"/>
</g>
<path d="M38.1 858.9 L45.4 888.1 L50.1 878.1 L55.1 854.7 L57.6 858.9 L61.5 889.8 L65.1 864.7 L68.8 861.4 L73.5 888.1 L76.5 903.1 L81 876.4 L85.5 853.9 L91 871.4 L96 851.4 L99.4 854.7 L103.5 851.4 L106.9 856.4 L110.2 886.4 L114.9 901.5 L117.7 893.1 L120.6 853 L123.6 848 L129.4 850.5 L133.6 853 L137 871.4 L140.6 906.5 L144 899.8 L145.6 885.6 L147.8 884.8 L151.1 914.8 L157 914.8 L162.8 925.7 L165.3 921.5 L168.7 893.1 L172.4 870.6 L175.4 883.1 L178.4 895.6 L181.2 878.1 L184.6 859.7 L188.7 869.7 L194.6 858 L197.9 866.4 L201.3 894.8 L203.4 900.6 L206.3 876.4 L208.8 854.7 L211.3 853 L215.4 858.9 L218.8 854.7 L222.1 857.2 L224.6 888.1 L227.1 895.6 L229.6 886.4 L233 896.5 L236.8 909.8 L240.5 888.1 L243 874.7 L246.3 894.8 L249.7 912.3 L252.5 893.1 L254.7 869.7 L257.2 864.7 L258.5 873.1 L262.2 859.7 L265.6 853.9 L270.6 856.4 L273.9 863.1 L277.2 878.1 L280.6 865.6 L283.1 855.5 L284.8 858.9 L288.6 850.5 L292.3 856.4 L295.6 868.1 L299 894.8 L301.5 906.5 L304.8 888.1 L309 866.4 L312 859.7 L314 876.4 L317.3 888.9 L320 883.1 L325 908.1 L328 893.1 L331.7 864.7 L335.1 863.1 L337.6 859.7 L340.9 853.9 L344.2 863.1 L347.6 889.8 L351.8 895.6 L355.1 869.7 L357.6 853.9 L360.1 851.4 L363.4 863.1 L366.8 881.4 L371 914 L373.5 916.5 L376.8 911.5 L380.1 894.8 L382.7 886.4 L386 896.5 L388.5 916.5 L393.5 912.3 L396.8 915.7 L401 911.5 L403.5 898.1 L408.5 886.4 L412.2 878.1 L415.6 884.8 L418.6 916.5 L421.6 923.2 L425.2 916.5 L427.7 884.8 L430.3 861.4 L432.8 848.9 L436.9 846 L441.9 849.7 L446.1 854.7 L449.5 869.7 L453.6 879.8 L457 896.5 L459.8 905.6 L462 879.8 L465.3 853 L467.8 881.4 L470.3 898.1 L472.3 906.5 L475.3 900.6 L478.7 903.1 L482.9 916.5 L485 914 L487.4 917.3 L490 909.8 L492 854.7 L494.6 849.7 L497.9 873.1 L502.1 887.3 L505.4 871.4 L507.9 859.7 L510.4 848.9 L512.9 863.1 L517.1 876.4 L521.3 868.1 L525.4 863.1 L528.8 876.4 L531.3 911.5 L533.8 919.8 L536.8 923.2 L540.5 918.2 L543 904.8 L544.7 902.3 L547.2 907.3 L550.5 904 L553.8 904.8 L556.3 914.8 L558.9 915.7 L560.5 906.5 L563 884.8 L565.5 865.6 L568 873.9 L570.2 879.8 L572.2 871.4 L574.7 854.7 L577.2 857.2 L578.9 855.5 L581.4 871.4 L583.9 904.8 L586.4 921.5 L590.6 918.2 L594.8 913.2 L598.1 903.1 L601.4 871.4 L603.9 861.4 L606.5 881.4 L609 896.5 L611.5 909.8 L613.1 911.5 L615.6 919.8 L618.1 911.5 L621.5 886.4 L624.3 873.1 L627.3 884.8 L630 903.1 L633.4 904.8 L636.7 881.4 L639.2 852.2 L642.5 850.5 L647.6 854.7 L651.7 863.1 L654.2 888.1 L656.7 911.5 L658.7 924 L661.8 923.2 L667.6 912.3 L670.1 917.3 L673.8 924.5 L675.9 919 L680.1 920.7 L682.6 924.8 L686 913.2 L689.3 904.8 L693.5 894.8 L698.5 888.1 L701.8 883.1 L704.3 859.7 L706 856.4 L708.5 871.4 L711 894.8 L713.5 904.8 L716.9 899.8 L720.2 888.9 L722.7 889.8 L725.2 904.8 L727.7 918.2 L730.2 908.1 L732.7 893.1 L735.2 891.4 L737.7 894.8 L741.1 886.4 L742.8 864.7 L744.4 863.1 L746.9 878.1 L749.4 888.1 L751.9 878.1 L754.4 864.7 L757.8 863.1 L760.3 850.5 L762.3 848.9 L765.3 859.7 L767.8 888.1 L770.3 912.3 L772.8 918.2 L777 915.7 L780.3 914 L782.8 901.5 L785.3 879.8 L787.8 865.6 L792 869.7 L795.4 886.4 L799.5 904.8 L802 894.8 L803.7 874.7 L806.2 870.6 L807.9 881.4 L813.7 887.3 L816.2 894.8 L818.7 903.1 L822.1 897.3 L826.3 898.1 L828.8 886.4 L831.3 863.1 L833.4 859.7 L835.9 869.7 L838.5 861.4 L841.3 878.1 L843.8 904.8 L845.8 915.7 L848 914 L851.3 916.5 L853.8 911.5 L856.3 888.1 L858 853 L861.3 845.5 L864.7 853.9 L867.2 871.4 L869.7 904.8 L871.4 911.5 L874.7 916.5 L878.5 922.3 L883 924 L886.4 924.8 L888.9 916.5 L891.4 893.1 L893.9 868.1 L897.2 848.9 L900.3 847.2 L902.3 854.7 L906.4 866.4 L909.8 855.5 L912.3 865.6 L916.5 874.7 L919.8 876.4 L923.1 889.8 L925.6 902.3 L928.1 889.8 L930.6 869.7 L934.8 866.4 L937.3 881.4 L941.7 916.5 L946.7 925.7 L949.2 918.2 L952.5 888.1 L955.9 864.7 L959.7 856.4 L962.6 869.7 L965.4 886.4 L970.1 868.9 L975.1 881.4 L979.8 860.5 L982.1 881.4 L985.1 913.2 L987.6 924.5 L991 922.3 L994.3 913.2 L997.6 910.7 L1000.5 919 L1003.5 904.8 L1006.8 889.8 L1009.3 888.1 L1012.7 904.8 L1016.8 893.1 L1019.4 880.6 L1021.5 894.8 L1025.2 916.5 L1028.5 920.7 L1031 912.3 L1035.2 910.7 L1037.7 896.5 L1040.2 856.4 L1043.6 855.5 L1046.1 853.9 L1049.4 859.7 L1051.9 878.1 L1054.4 892.3 L1056.9 878.1 L1060.3 863.1 L1063.3 854.4 L1066.1 864.7 L1070.3 873.1 L1073.3 883.1 L1076.1 911.5 L1078.3 919.8 L1081.1 893.1 L1083.7 882.3 L1086.2 904.8 L1089.5 925.7 L1092.8 919.8 L1097 915.7 L1098.7 918.2 L1102 911.5 L1104.5 901.5 L1107 869.7 L1111.2 892.3 L1113.7 892.3 L1116.2 858 L1120.4 850.5 L1124.6 848 L1127.9 853.9 L1130.4 871.4 L1134.6 896.5 L1138.4 921.5 L1141.3 904.8 L1145.4 867.2 L1148.8 858 L1153.8 853.9 L1158 855.5 L1160.5 852.2 L1164.7 857.2 L1168 864.7 L1171.3 876.4 L1173.8 887.3 L1178 878.1 L1180.5 881.4 L1184.7 868.9 L1188.5 863.9 L1192.2 894.8 L1194.7 910.7 L1198.9 910.7 L1201.4 888.1 L1204.7 866.4 L1208.1 896.5 L1212.3 909.8 L1216.4 894.8 L1219.8 870.6 L1222.3 867.2 L1225.6 894.8 L1229 910.7 L1232.3 893.1 L1234.3 858 L1236.5 852.2 L1239.8 861.4 L1243.3 860.5 L1246.7 858.9 L1249.2 869.7 L1251.7 891.4 L1254.2 906.5 L1256.7 904 L1259.2 876.4 L1261.4 869.7 L1262.5 875.6 L1265.9 873.1 L1268.7 863.1 L1271.4 863.1 L1274.2 894.8 L1278.1 905.6 L1280.9 883.1 L1284.3 878.1 L1287.6 893.1 L1290.1 905.6 L1293.4 914 L1297.6 923.5 L1301 921.5 L1304.3 901.5 L1307.6 886.4 L1310.1 894.8 L1313.2 901.5 L1316 889.8 L1318.2 883.9 L1321.8 899 L1325.2 888.1 L1327.7 854.7 L1330.2 853.9 L1335.2 851 L1338.5 858 L1341 874.7 L1344.4 901.5 L1346.9 916.5 L1351.1 916.5 L1353.6 917.3 L1356.9 908.1 L1361.1 894.8 L1363.6 874.7 L1366.1 868.1 L1368.6 881.4 L1371.9 893.1 L1376.1 888.1 L1378.6 869.7 L1381.6 859.7 L1384.5 867.2 L1387 881.4 L1391.1 903.1 L1395.3 914.8 L1398.7 904.8 L1402.8 893.1 L1407 884.8 L1409.5 880.6 L1412 861.4 L1413.7 856.4 L1416.2 863.1 L1419.5 888.1 L1422.9 913.2 L1425.7 922.3 L1428.7 908.1 L1431.2 869.7 L1433.7 866.4 L1437.9 868.1 L1441.3 854.7 L1444.6 849.7 L1447.1 868.1 L1449.6 896.5 L1451.8 913.2 L1455.4 909.8 L1458.8 903.1 L1462.1 871.4 L1465.5 863.9 L1468.8 879.8 L1471.3 894.8 L1473 883.1 L1475.5 888.1 L1478 896.5 L1480.5 886.4 L1482.5 854.7 L1484.7 849.7 L1487.2 866.4 L1490.5 870.6 L1494.7 864.7 L1498 859.7 L1500.5 858 L1503.5 851 L1507.2 855.5 L1510.6 870.6 L1513.9 866.4 L1515.9 861.4 L1518.9 879.8 L1522.3 904 L1525.6 906.5 L1530.6 899.8 L1533.9 908.1 L1534.8 918.2 L1537.3 904.8 L1539.8 871.4 L1541.7 853.9 L1544.2 851.4 L1547.5 859.7 L1550.9 886.4 L1555 893.1 L1558.4 904.8 L1561.7 914 L1565.1 911.5 L1569.2 898.1 L1571.7 916.5 L1575.4 919.5 L1579.2 911.5 L1581.8 889.8 L1583.8 886.4 L1586.8 896.5 L1589.3 914.8 L1593.4 901.5 L1597.6 871.4 L1600.1 856.4 L1602.6 871.4 L1606 901.5 L1610.1 913.2 L1613.5 901.5 L1616.5 879.8 L1620.2 866.4 L1623.5 853 L1625.5 849.4 L1628.5 855.5 L1631 869.7 L1633.9 887.3 L1636.9 871.4 L1639.4 855.5 L1642.7 866.4 L1646.1 884.8 L1649.4 894.8 L1652.7 892.3 L1655.2 909.8 L1658.9 921.5 L1662.8 896.5 L1665.6 887.3 L1668.6 909.8 L1672.3 920.2 L1675.3 896.5 L1678.6 869.7 L1682 858.9 L1684.5 863.1 L1687 859.7 L1690 849.7 L1692.8 851 L1695.3 853 L1698.7 855.5 L1702.8 869.7 L1706.2 893.1 L1708.7 909.8 L1710.4 920.2 L1712.9 904.8 L1715 871.4 L1716.7 856.4 L1718.4 853.9 L1721.2 856.4 L1725.4 851.4 L1727.9 863.1 L1730.4 879.8 L1734.6 904.8 L1737.9 920.2 L1742.1 913.2 L1744.6 883.1 L1747.4 870.6 L1750.4 886.4 L1753.8 901.5 L1757.1 910.7 L1761.3 904.8 L1763.8 879.8 L1767.1 859.7 L1769.6 878.1 L1772.5 908.1 L1774.7 920.7 L1777.2 919.8 L1780.5 908.1 L1783.8 891.4 L1786.8 878.1 L1789.7 891.4 L1792.5 916.5 L1796.4 904.8 L1799.7 896.5 L1802.2 908.1 L1804.7 919.8 L1806.7 922.3" fill="none" stroke="#000" stroke-width="1" shape-rendering="crispEdges"/>
<path d="M38.1 858.9 L39.9 862.5 L41.7 866 L43.5 869.6 L45.3 876.8 L47.1 881.4 L48.9 883.3 L50.7 882 L52.5 876.9 L54.3 870.4 L56.1 864.3 L57.9 860.7 L59.7 862.8 L61.5 870.6 L63.3 875.9 L65.1 876.9 L66.9 873.8 L68.7 866.8 L70.5 865.2 L72.3 869.2 L74.1 876.2 L75.9 885.8 L77.7 892.1 L79.5 893.2 L81.3 889.2 L83.1 880.6 L84.9 870.9 L86.7 863.9 L88.5 861 L90.3 861.7 L92.1 864.3 L93.9 864.9 L95.7 862.2 L97.5 858.2 L99.3 855 L101.1 853.4 L102.9 853.2 L104.7 853.2 L106.5 853.5 L108.3 857.4 L110.1 865.7 L111.9 875.4 L113.7 885.8 L115.5 893.5 L117.3 895.9 L119.1 891.5 L120.9 880.3 L122.7 867.7 L124.5 856.2 L126.3 849.9 L128.1 849.3 L129.9 849.6 L131.7 850.4 L133.5 851.4 L135.3 854.5 L137.1 859.9 L138.9 869.4 L140.7 882.7 L142.5 892.9 L144.3 899 L146.1 897.9 L147.9 892.7 L149.7 892.4 L151.5 896.8 L153.3 904.2 L155.1 911.5 L156.9 914.8 L158.7 915.6 L160.5 917.2 L162.3 919.7 L164.1 921.9 L165.9 921.6 L167.7 916.7 L169.5 907.6 L171.3 896 L173.1 885.2 L174.9 880 L176.7 880.1 L178.5 884.5 L180.3 887.1 L182.1 885.2 L183.9 878.9 L185.7 870.7 L187.5 866.5 L189.3 865.3 L191.1 865.7 L192.9 865.5 L194.7 863.3 L196.5 861.9 L198.3 863 L200.1 868.9 L201.9 878.4 L203.7 887.3 L205.5 890.7 L207.3 886.4 L209.1 875.9 L210.9 864.6 L212.7 857.6 L214.5 855.1 L216.3 855.9 L218.1 856.5 L219.9 856.6 L221.7 856.5 L223.5 860.5 L225.3 869.1 L227.1 879.1 L228.9 887.1 L230.7 891.1 L232.5 892.3 L234.3 893.7 L236.1 898.2 L237.9 901.7 L239.7 901.2 L241.5 896.7 L243.3 889 L245.1 884.9 L246.9 886 L248.7 892 L250.5 899.7 L252.3 901.6 L254.1 896.3 L255.9 886.4 L257.7 876.6 L259.5 870.3 L261.3 867 L263.1 864.7 L264.9 861.5 L266.7 857.7 L268.5 855.8 L270.3 855.3 L272.1 856.3 L273.9 858.5 L275.7 862.4 L277.5 867.7 L279.3 870.4 L281.1 870.6 L282.9 866.9 L284.7 862.3 L286.5 858.5 L288.3 855.4 L290.1 854.5 L291.9 853.7 L293.7 855.3 L295.5 859.4 L297.3 866.5 L299.1 876.4 L300.9 887 L302.7 895.1 L304.5 897.2 L306.3 893.5 L308.1 885.3 L309.9 876.4 L311.7 869.1 L313.5 867 L315.3 869.6 L317.1 875.5 L318.9 881.8 L320.7 885.3 L322.5 888.8 L324.3 892.9 L326.1 897.3 L327.9 899.1 L329.7 895.4 L331.5 885.9 L333.3 876.2 L335.1 868.5 L336.9 863.5 L338.7 861.3 L340.5 859 L342.3 857.7 L344.1 858.2 L345.9 862.8 L347.7 871.6 L349.5 880.3 L351.3 888.4 L353.1 890.7 L354.9 886 L356.7 877.8 L358.5 867.4 L360.3 859 L362.1 855.7 L363.9 857.2 L365.7 862.8 L367.5 871.5 L369.3 882.1 L371.1 894.3 L372.9 904.4 L374.7 911.4 L376.5 914.2 L378.3 911.7 L380.1 906.5 L381.9 900.1 L383.7 894.4 L385.5 892.1 L387.3 895.1 L389.1 901.8 L390.9 908 L392.7 912.6 L394.5 914.2 L396.3 914 L398.1 914 L399.9 913.9 L401.7 912.5 L403.5 908.4 L405.3 903.3 L407.1 897.6 L408.9 892 L410.7 887.8 L412.5 883.9 L414.3 882 L416.1 883.2 L417.9 890.1 L419.7 900.2 L421.5 910.4 L423.3 917.8 L425.1 919.7 L426.9 913.9 L428.7 902.2 L430.5 887.2 L432.3 870.8 L434.1 858.9 L435.9 851.5 L437.7 848.1 L439.5 847.3 L441.3 847.6 L443.1 848.7 L444.9 850.3 L446.7 852.7 L448.5 856.7 L450.3 861.9 L452.1 867.6 L453.9 873.5 L455.7 879.7 L457.5 886.3 L459.3 893.2 L461.1 895.6 L462.9 891.3 L464.7 881.3 L466.5 871.9 L468.3 870.3 L470.1 876.3 L471.9 887.9 L473.7 897.3 L475.5 901.4 L477.3 902.8 L479.1 902.8 L480.9 904.3 L482.7 908.1 L484.5 911.3 L486.3 914.1 L488.1 915.4 L489.9 914 L491.7 901.5 L493.5 885.6 L495.3 870.4 L497.1 859.7 L498.9 862.6 L500.7 870.3 L502.5 877.9 L504.3 880.3 L506.1 878.2 L507.9 872.6 L509.7 864.2 L511.5 858.8 L513.3 857.7 L515.1 860.3 L516.9 866.2 L518.7 870.8 L520.5 872.1 L522.3 871.4 L524.1 868.6 L525.9 866.5 L527.7 867.1 L529.5 871.9 L531.3 883.5 L533.1 896.7 L534.9 909 L536.7 918.2 L538.5 920.6 L540.3 920.9 L542.1 918 L543.9 913.1 L545.7 909 L547.5 906.1 L549.3 905 L551.1 905.2 L552.9 905.2 L554.7 905.5 L556.5 907.9 L558.3 910.8 L560.1 911.9 L561.9 908.5 L563.7 899.7 L565.5 887.3 L567.3 878 L569.1 873.5 L570.9 872.8 L572.7 873.3 L574.5 869.6 L576.3 864.5 L578.1 859.3 L579.9 857.7 L581.7 862.4 L583.5 873.1 L585.3 887.5 L587.1 902.3 L588.9 913.4 L590.7 918.1 L592.5 918.6 L594.3 916.8 L596.1 914.2 L597.9 910.7 L599.7 903.7 L601.5 893.1 L603.3 881.8 L605.1 873.5 L606.9 872.4 L608.7 878.3 L610.5 888.5 L612.3 898.5 L614.1 906.2 L615.9 912.2 L617.7 914.3 L619.5 912 L621.3 905.4 L623.1 895.3 L624.9 885.9 L626.7 881.1 L628.5 882.3 L630.3 888.3 L632.1 895.6 L633.9 900.3 L635.7 899.3 L637.5 891.6 L639.3 878.6 L641.1 866.1 L642.9 856.6 L644.7 851.6 L646.5 852 L648.3 853.3 L650.1 855.5 L651.9 858.6 L653.7 865.7 L655.5 876.6 L657.3 890.4 L659.1 905.2 L660.9 915.5 L662.7 920.9 L664.5 921.7 L666.3 919.4 L668.1 916.9 L669.9 915.8 L671.7 916.3 L673.5 918.6 L675.3 920.5 L677.1 921.1 L678.9 921.1 L680.7 920.5 L682.5 921.5 L684.3 921.4 L686.1 919.5 L687.9 916.2 L689.7 911.1 L691.5 906.2 L693.3 901.8 L695.1 897.9 L696.9 894.5 L698.7 891.5 L700.5 889 L702.3 885.5 L704.1 878.5 L705.9 870.7 L707.7 866 L709.5 866.4 L711.3 874.8 L713.1 886.4 L714.9 895.5 L716.7 900.4 L718.5 900.1 L720.3 896.6 L722.1 893.3 L723.9 892.5 L725.7 895.6 L727.5 902.6 L729.3 908.2 L731.1 909.8 L732.9 906.2 L734.7 900 L736.5 895.2 L738.3 892.8 L740.1 891.8 L741.9 887.9 L743.7 880.6 L745.5 874.6 L747.3 872.2 L749.1 874.8 L750.9 879.5 L752.7 880.7 L754.5 877 L756.3 871.2 L758.1 866.1 L759.9 860.7 L761.7 856.8 L763.5 854.2 L765.3 853.7 L767.1 860.5 L768.9 872.8 L770.7 887.8 L772.5 902.2 L774.3 911.6 L776.1 916 L777.9 916.5 L779.7 915.8 L781.5 913.5 L783.3 908.9 L785.1 900.6 L786.9 889.8 L788.7 879.3 L790.5 871.9 L792.3 869.2 L794.1 871.4 L795.9 877 L797.7 884.1 L799.5 892.5 L801.3 896.9 L803.1 895.3 L804.9 889.4 L806.7 881.6 L808.5 877.7 L810.3 878 L812.1 881.2 L813.9 884.8 L815.7 887.6 L817.5 891.3 L819.3 895.5 L821.1 898.3 L822.9 899.4 L824.7 899.1 L826.5 897.9 L828.3 895.3 L830.1 889.5 L831.9 880.5 L833.7 871.4 L835.5 866.2 L837.3 864 L839.1 864.7 L840.9 868.5 L842.7 874.7 L844.5 885.5 L846.3 898.1 L848.1 907.7 L849.9 913.3 L851.7 915.1 L853.5 914.4 L855.3 910.3 L857.1 899.5 L858.9 883.3 L860.7 867 L862.5 854.7 L864.3 849.8 L866.1 853 L867.9 861.4 L869.7 875.5 L871.5 890.2 L873.3 902.9 L875.1 912 L876.9 915.7 L878.7 918.4 L880.5 920.6 L882.3 922.3 L884.1 923.4 L885.9 923.9 L887.7 923.3 L889.5 920.1 L891.3 912.6 L893.1 900.5 L894.9 886 L896.7 871.3 L898.5 859.8 L900.3 852.5 L902.1 850.4 L903.9 852.2 L905.7 856.2 L907.5 860.1 L909.3 860.9 L911.1 861.3 L912.9 861.9 L914.7 863.9 L916.5 868.3 L918.3 872 L920.1 874.7 L921.9 878.2 L923.7 882.6 L925.5 889.1 L927.3 893.2 L929.1 892.6 L930.9 886.9 L932.7 878.5 L934.5 871.6 L936.3 869.9 L938.1 874.3 L939.9 882.8 L941.7 895.2 L943.5 906.4 L945.3 915.3 L947.1 921 L948.9 921.6 L950.7 917.9 L952.5 909.3 L954.3 897.2 L956.1 883.5 L957.9 872.3 L959.7 864.3 L961.5 861.4 L963.3 863.8 L965.1 869.9 L966.9 876 L968.7 878.4 L970.5 877.4 L972.3 874.8 L974.1 874.3 L975.9 875.3 L977.7 875.3 L979.5 872.1 L981.3 870.9 L983.1 874.4 L984.9 884.6 L986.7 899.2 L988.5 911.6 L990.3 919.4 L992.1 921.6 L993.9 920.1 L995.7 917.1 L997.5 914.1 L999.3 913.2 L1001.1 913.6 L1002.9 912.5 L1004.7 909.7 L1006.5 903.7 L1008.3 896.8 L1010.1 892.9 L1011.9 893.2 L1013.7 895.9 L1015.5 897.9 L1017.3 897.7 L1019.1 893 L1020.9 890.1 L1022.7 891.3 L1024.5 896.6 L1026.3 905.6 L1028.1 913 L1029.9 916.6 L1031.7 916.6 L1033.5 914.9 L1035.3 912.5 L1037.1 908.5 L1038.9 899.9 L1040.7 886.2 L1042.5 872.5 L1044.3 861.3 L1046.1 855.3 L1047.9 855.4 L1049.7 856.9 L1051.5 861.8 L1053.3 869.8 L1055.1 877.7 L1056.9 881.9 L1058.7 880.7 L1060.5 874.9 L1062.3 867.1 L1064.1 861.8 L1065.9 860.2 L1067.7 861.6 L1069.5 865.1 L1071.3 869.9 L1073.1 874.5 L1074.9 882.3 L1076.7 892.8 L1078.5 903.3 L1080.3 908 L1082.1 905.5 L1083.9 898.2 L1085.7 893.8 L1087.5 896.7 L1089.3 905.5 L1091.1 915.2 L1092.9 920 L1094.7 921.3 L1096.5 919.2 L1098.3 917.9 L1100.1 916.8 L1101.9 915.2 L1103.7 912.4 L1105.5 905.4 L1107.3 894.3 L1109.1 886.5 L1110.9 882.9 L1112.7 883.6 L1114.5 886.3 L1116.3 880.6 L1118.1 871.7 L1119.9 861.5 L1121.7 853.5 L1123.5 851.1 L1125.3 849.8 L1127.1 850 L1128.9 852.7 L1130.7 858.8 L1132.5 867.4 L1134.3 878 L1136.1 889.4 L1137.9 900.6 L1139.7 908.2 L1141.5 910.3 L1143.3 905.4 L1145.1 893.6 L1146.9 880.9 L1148.7 869.7 L1150.5 862.2 L1152.3 858.4 L1154.1 856 L1155.9 855.1 L1157.7 854.8 L1159.5 854.4 L1161.3 854.2 L1163.1 854.4 L1164.9 854.9 L1166.7 857 L1168.5 860.3 L1170.3 864.6 L1172.1 870.1 L1173.9 876.5 L1175.7 880.7 L1177.5 882.3 L1179.3 882.4 L1181.1 880.5 L1182.9 878.3 L1184.7 875.7 L1186.5 872.4 L1188.3 868.5 L1190.1 869.1 L1191.9 874.9 L1193.7 884.3 L1195.5 895.9 L1197.3 904.3 L1199.1 908.6 L1200.9 905.8 L1202.7 898 L1204.5 887.4 L1206.3 880.2 L1208.1 881.1 L1209.9 886.8 L1211.7 896.7 L1213.5 903 L1215.3 903.6 L1217.1 900.6 L1218.9 892.9 L1220.7 883.8 L1222.5 876.3 L1224.3 874.8 L1226.1 879.8 L1227.9 888.8 L1229.7 898.3 L1231.5 901.7 L1233.3 896.4 L1235.1 884 L1236.9 870.6 L1238.7 860.9 L1240.5 857.2 L1242.3 858.4 L1244.1 860.1 L1245.9 860.4 L1247.7 860.9 L1249.5 863.7 L1251.3 870.7 L1253.1 880.8 L1254.9 891.4 L1256.7 899.4 L1258.5 898.5 L1260.3 891.8 L1262.1 883.7 L1263.9 876.3 L1265.7 873.5 L1267.5 872.1 L1269.3 869.6 L1271.1 866.7 L1272.9 868.3 L1274.7 875.4 L1276.5 885 L1278.3 895.2 L1280.1 897.7 L1281.9 894.1 L1283.7 888.6 L1285.5 883.5 L1287.3 884 L1289.1 888.7 L1290.9 895.8 L1292.7 903 L1294.5 909.1 L1296.3 914.1 L1298.1 918 L1299.9 920.5 L1301.7 920.8 L1303.5 917.2 L1305.3 910.7 L1307.1 902.4 L1308.9 895.7 L1310.7 893.1 L1312.5 893.9 L1314.3 895.8 L1316.1 895.6 L1317.9 892.8 L1319.7 890.3 L1321.5 890.5 L1323.3 891.6 L1325.1 892.6 L1326.9 886.4 L1328.7 875.6 L1330.5 865.5 L1332.3 856.5 L1334.1 853.1 L1335.9 852.6 L1337.7 853.3 L1339.5 856.2 L1341.3 862.4 L1343.1 872.1 L1344.9 884.1 L1346.7 896.8 L1348.5 906.8 L1350.3 913.2 L1352.1 916.3 L1353.9 916.6 L1355.7 915.3 L1357.5 912.8 L1359.3 908.7 L1361.1 903.3 L1362.9 895.5 L1364.7 886.9 L1366.5 879.3 L1368.3 875.5 L1370.1 877.1 L1371.9 882.3 L1373.7 887.6 L1375.5 889.8 L1377.3 888.1 L1379.1 881.9 L1380.9 874.7 L1382.7 868.1 L1384.5 865.1 L1386.3 867.4 L1388.1 873.6 L1389.9 882.1 L1391.7 891.5 L1393.5 899.5 L1395.3 906.4 L1397.1 909.6 L1398.9 909.5 L1400.7 906.9 L1402.5 901.8 L1404.3 896.9 L1406.1 892.5 L1407.9 888.6 L1409.7 884.9 L1411.5 878.7 L1413.3 871.5 L1415.1 865.7 L1416.9 862.8 L1418.7 866.9 L1420.5 876.2 L1422.3 888.4 L1424.1 900.6 L1425.9 910.6 L1427.7 915.1 L1429.5 912.1 L1431.3 900.2 L1433.1 886.7 L1434.9 875.1 L1436.7 867.8 L1438.5 866.9 L1440.3 864.7 L1442.1 861.4 L1443.9 857.2 L1445.7 855.1 L1447.5 858.6 L1449.3 868.4 L1451.1 882.7 L1452.9 896.3 L1454.7 905.8 L1456.5 909.6 L1458.3 908.6 L1460.1 903.3 L1461.9 894.1 L1463.7 884.2 L1465.5 874.1 L1467.3 869.5 L1469.1 871.4 L1470.9 877.5 L1472.7 882.8 L1474.5 886.2 L1476.3 888.6 L1478.1 889.5 L1479.9 890.5 L1481.7 885.9 L1483.5 876.3 L1485.3 865.7 L1487.1 859.9 L1488.9 860.1 L1490.7 864.6 L1492.5 868.1 L1494.3 868 L1496.1 866.5 L1497.9 863.9 L1499.7 861.6 L1501.5 859.3 L1503.3 856.5 L1505.1 854.8 L1506.9 853.9 L1508.7 855.4 L1510.5 860.1 L1512.3 864 L1514.1 866.7 L1515.9 866.5 L1517.7 867 L1519.5 870.9 L1521.3 878.6 L1523.1 889.4 L1524.9 897.8 L1526.7 903.1 L1528.5 904.5 L1530.3 903.5 L1532.1 902.8 L1533.9 903.6 L1535.7 906.3 L1537.5 906.8 L1539.3 900.5 L1541.1 888.3 L1542.9 873.1 L1544.7 860.7 L1546.5 855.4 L1548.3 857.1 L1550.1 863.9 L1551.9 872.8 L1553.7 881.3 L1555.5 888.5 L1557.3 893.7 L1559.1 898.3 L1560.9 903.5 L1562.7 908.2 L1564.5 910.9 L1566.3 911.1 L1568.1 908.6 L1569.9 906 L1571.7 907.1 L1573.5 909.7 L1575.3 914.1 L1577.1 917.4 L1578.9 916.4 L1580.7 911.7 L1582.5 904 L1584.3 897 L1586.1 892.5 L1587.9 893.9 L1589.7 900.1 L1591.5 905 L1593.3 907 L1595.1 903.2 L1596.9 894 L1598.7 883.4 L1600.5 872.5 L1602.3 867.4 L1604.1 869.3 L1605.9 878.2 L1607.7 890.2 L1609.5 900.7 L1611.3 906.8 L1613.1 907.4 L1614.9 903.7 L1616.7 895.6 L1618.5 886.5 L1620.3 877.2 L1622.1 869.1 L1623.9 862.4 L1625.7 856.7 L1627.5 853.5 L1629.3 853.8 L1631.1 858.3 L1632.9 866.1 L1634.7 873.5 L1636.5 876.9 L1638.3 875 L1640.1 869.2 L1641.9 864.4 L1643.7 863.9 L1645.5 868.7 L1647.3 876.4 L1649.1 883.9 L1650.9 889.4 L1652.7 892.1 L1654.5 896.1 L1656.3 900.9 L1658.1 907.2 L1659.9 912.9 L1661.7 912.7 L1663.5 907.9 L1665.3 900.3 L1667.1 896.1 L1668.9 897.9 L1670.7 903.2 L1672.5 910.8 L1674.3 912.3 L1676.1 907.2 L1677.9 897.2 L1679.7 884.1 L1681.5 873.1 L1683.3 865.9 L1685.1 862.5 L1686.9 860.9 L1688.7 859.3 L1690.5 856.5 L1692.3 853.6 L1694.1 851.7 L1695.9 851.5 L1697.7 852.8 L1699.5 854.6 L1701.3 857.7 L1703.1 862.2 L1704.9 869.5 L1706.7 879.1 L1708.5 890.1 L1710.3 902.2 L1712.1 908.5 L1713.9 906.7 L1715.7 896 L1717.5 879.9 L1719.3 866.1 L1721.1 857.9 L1722.9 855.1 L1724.7 854.4 L1726.5 854.8 L1728.3 857.2 L1730.1 863 L1731.9 872.1 L1733.7 882.8 L1735.5 893.7 L1737.3 903.6 L1739.1 911 L1740.9 914.9 L1742.7 914.2 L1744.5 906 L1746.3 895.3 L1748.1 885 L1749.9 879.4 L1751.7 881.3 L1753.5 887.4 L1755.3 895.3 L1757.1 902.1 L1758.9 906.1 L1760.7 907.5 L1762.5 904.3 L1764.3 895.9 L1766.1 885.4 L1767.9 875.3 L1769.7 871.6 L1771.5 876.8 L1773.3 888.5 L1775.1 902.3 L1776.9 912.7 L1778.7 916.9 L1780.5 915.8 L1782.3 910.5 L1784.1 903.1 L1785.9 895.1 L1787.7 888.5 L1789.5 886.3 L1791.3 890.1 L1793.1 898.2 L1794.9 905 L1796.7 908.4 L1798.5 906.9 L1800.3 903 L1802.1 902.5 L1803.9 905.5 L1805.7 910.9 L1807.5 918.5" fill="none" stroke="#f00" stroke-width="1" shape-rendering="crispEdges"/>
<text x="1843.5" y="831">2.5000</text>
<path d="M1838 826.5 H1841" stroke="#c0c0c0" shape-rendering="crispEdges"/>
<text x="1843.5" y="789">5.0000</text>
<path d="M1838 784.5 H1841" stroke="#c0c0c0" shape-rendering="crispEdges"/>
<text x="1843.5" y="748">7.5000</text>
<path d="M1838 743.5 H1841" stroke="#c0c0c0" shape-rendering="crispEdges"/>
<text x="1843.5" y="706">10.0000</text>
<path d="M1838 701.5 H1841" stroke="#c0c0c0" shape-rendering="crispEdges"/>
<text x="1843.5" y="665">12.5000</text>
<path d="M1838 660.5 H1841" stroke="#c0c0c0" shape-rendering="crispEdges"/>
<text x="1843.5" y="624">15.0000</text>
<path d="M1838 619.5 H1841" stroke="#c0c0c0" shape-rendering="crispEdges"/>
<text x="1843.5" y="582">17.5000</text>
<path d="M1838 577.5 H1841" stroke="#c0c0c0" shape-rendering="crispEdges"/>
<text x="1843.5" y="541">20.0000</text>
<path d="M1838 536.5 H1841" stroke="#c0c0c0" shape-rendering="crispEdges"/>
<text x="1843.5" y="500">22.5000</text>
<path d="M1838 495.5 H1841" stroke="#c0c0c0" shape-rendering="crispEdges"/>
<text x="1843.5" y="458">25.0000</text>
<path d="M1838 453.5 H1841" stroke="#c0c0c0" shape-rendering="crispEdges"/>
<text x="1843.5" y="417">27.5000</text>
<path d="M1838 412.5 H1841" stroke="#c0c0c0" shape-rendering="crispEdges"/>
<text x="1843.5" y="376">30.0000</text>
<path d="M1838 371.5 H1841" stroke="#c0c0c0" shape-rendering="crispEdges"/>
<text x="1843.5" y="334">32.5000</text>
<path d="M1838 329.5 H1841" stroke="#c0c0c0" shape-rendering="crispEdges"/>
<text x="1843.5" y="293">35.0000</text>
<path d="M1838 288.5 H1841" stroke="#c0c0c0" shape-rendering="crispEdges"/>
<text x="1843.5" y="252">37.5000</text>
<path d="M1838 247.5 H1841" stroke="#c0c0c0" shape-rendering="crispEdges"/>
<text x="1843.5" y="210">40.0000</text>
<path d="M1838 205.5 H1841" stroke="#c0c0c0" shape-rendering="crispEdges"/>
<text x="1843.5" y="169">42.5000</text>
<path d="M1838 164.5 H1841" stroke="#c0c0c0" shape-rendering="crispEdges"/>
<text x="1843.5" y="128">45.0000</text>
<path d="M1838 123.5 H1841" stroke="#c0c0c0" shape-rendering="crispEdges"/>
<text x="1843.5" y="86">47.5000</text>
<path d="M1838 81.5 H1841" stroke="#c0c0c0" shape-rendering="crispEdges"/>
<text x="1843.5" y="45">50.0000</text>
<path d="M1838 40.5 H1841" stroke="#c0c0c0" shape-rendering="crispEdges"/>
<text x="1843.5" y="869">75.0000</text>
<path d="M1838 864.5 H1841" stroke="#c0c0c0" shape-rendering="crispEdges"/>
<text x="1843.5" y="890">50.0000</text>
<path d="M1838 885.5 H1841" stroke="#c0c0c0" shape-rendering="crispEdges"/>
<text x="1843.5" y="911">25.0000</text>
<path d="M1838 906.5 H1841" stroke="#c0c0c0" shape-rendering="crispEdges"/>
<rect x="1838" y="660" width="77" height="14" fill="#00f"/><text x="1844" y="672" style="fill:#fff">12.0932</text>
<rect x="1838" y="903" width="77" height="14" fill="#f00"/><text x="1844" y="915" style="fill:#fff">10.4445</text>
<rect x="1838" y="918" width="77" height="14" fill="#000"/><text x="1843.5" y="930" style="fill:#fff">5.7161</text>
<path d="M1838 667.5 H1841" stroke="#fff" shape-rendering="crispEdges"/>
<path d="M1838 910.5 H1841" stroke="#fff" shape-rendering="crispEdges"/>
<path d="M1838 925.5 H1841" stroke="#fff" shape-rendering="crispEdges"/>
<rect x="1906.5" y="17.5" width="8" height="8" fill="#fff" stroke="#b4b4b4" shape-rendering="crispEdges"/><path d="M1908 21.5H1913" stroke="#b4b4b4" shape-rendering="crispEdges"/>
<path d="M1804 1 L1811 1 L1807.5 5 Z" fill="#22c022"/>
<text x="11" y="945">21.11.25</text>
<text x="89.7" y="945" text-anchor="end">7</text>
<text x="91.6" y="945">20</text>
<text x="144.7" y="945" text-anchor="end">09</text>
<text x="146.6" y="945">20</text>
<text x="199.7" y="945" text-anchor="end">11</text>
<text x="201.6" y="945">20</text>
<text x="251.7" y="945" text-anchor="end">01</text>
<text x="253.6" y="945">21</text>
<text x="301.7" y="945" text-anchor="end">03</text>
<text x="303.6" y="945">21</text>
<text x="355.7" y="945" text-anchor="end">05</text>
<text x="357.6" y="945">21</text>
<text x="406.7" y="945" text-anchor="end">07</text>
<text x="408.6" y="945">21</text>
<text x="461.7" y="945" text-anchor="end">09</text>
<text x="463.6" y="945">21</text>
<text x="515.7" y="945" text-anchor="end">11</text>
<text x="517.6" y="945">21</text>
<text x="569.7" y="945" text-anchor="end">01</text>
<text x="571.6" y="945">22</text>
<text x="621.7" y="945" text-anchor="end">03</text>
<text x="623.6" y="945">22</text>
<text x="673.7" y="945" text-anchor="end">05</text>
<text x="675.6" y="945">22</text>
<text x="726.7" y="945" text-anchor="end">07</text>
<text x="728.6" y="945">22</text>
<text x="780.7" y="945" text-anchor="end">09</text>
<text x="782.6" y="945">22</text>
<text x="834.7" y="945" text-anchor="end">11</text>
<text x="836.6" y="945">22</text>
<text x="887.7" y="945" text-anchor="end">01</text>
<text x="889.6" y="945">23</text>
<text x="939.7" y="945" text-anchor="end">03</text>
<text x="941.6" y="945">23</text>
<text x="990.7" y="945" text-anchor="end">05</text>
<text x="992.6" y="945">23</text>
<text x="1045.7" y="945" text-anchor="end">07</text>
<text x="1047.6" y="945">23</text>
<text x="1100.7" y="945" text-anchor="end">09</text>
<text x="1102.6" y="945">23</text>
<text x="1154.7" y="945" text-anchor="end">11</text>
<text x="1156.6" y="945">23</text>
<text x="1206.7" y="945" text-anchor="end">01</text>
<text x="1208.6" y="945">24</text>
<text x="1260.7" y="945" text-anchor="end">03</text>
<text x="1262.6" y="945">24</text>
<text x="1311.7" y="945" text-anchor="end">05</text>
<text x="1313.6" y="945">24</text>
<text x="1364.7" y="945" text-anchor="end">07</text>
<text x="1366.6" y="945">24</text>
<text x="1420.7" y="945" text-anchor="end">09</text>
<text x="1422.6" y="945">24</text>
<text x="1475.7" y="945" text-anchor="end">11</text>
<text x="1477.6" y="945">24</text>
<text x="1525.7" y="945" text-anchor="end">01</text>
<text x="1527.6" y="945">25</text>
<text x="1578.7" y="945" text-anchor="end">03</text>
<text x="1580.6" y="945">25</text>
<text x="1629.7" y="945" text-anchor="end">05</text>
<text x="1631.6" y="945">25</text>
<text x="1679.7" y="945" text-anchor="end">07</text>
<text x="1681.6" y="945">25</text>
<text x="1733.7" y="945" text-anchor="end">09</text>
<text x="1735.6" y="945">25</text>
<text x="1790.7" y="945" text-anchor="end">11</text>
<text x="1792.6" y="945">25</text>
<text x="1827" y="944.5">-</text>
<text x="124.5" y="35" textLength="107.2" lengthAdjust="spacingAndGlyphs" style="font-weight:bold;font-size:13.33px">CHAINLINK USD</text>
<text x="415" y="35" textLength="1104" lengthAdjust="spacingAndGlyphs" style="font-family:'Liberation Serif',serif;font-size:13.5px">Haftungsausschluss für Inhalte: Alle Trendkanäle bzw. andere Linien, oder Grafiken hier sind keine Empfehlungen, oder Beratung, sondern die zeigen lediglich meine eigene Einschätzung. Alle Chartdaten sind ohne Gewähr.  www.wikifolio.com/de/de/p/cyberwaehrungen</text>
<rect x="5.5" y="843.5" width="47" height="15" fill="#fff" stroke="#000" shape-rendering="crispEdges"/><text x="8" y="856">Sto(9/5)</text>
<rect x="55.5" y="845.5" width="12" height="11" fill="#fff" stroke="#000" shape-rendering="crispEdges"/><path d="M58 851H65M61.5 847.5V854.5" stroke="#000" stroke-width="2" shape-rendering="crispEdges"/>
<rect x="8" y="862" width="21" height="26" fill="#fff"/>
<text x="8" y="871">%K</text><text x="8" y="887" style="fill:#f00">%D</text>
</svg></body></html>
